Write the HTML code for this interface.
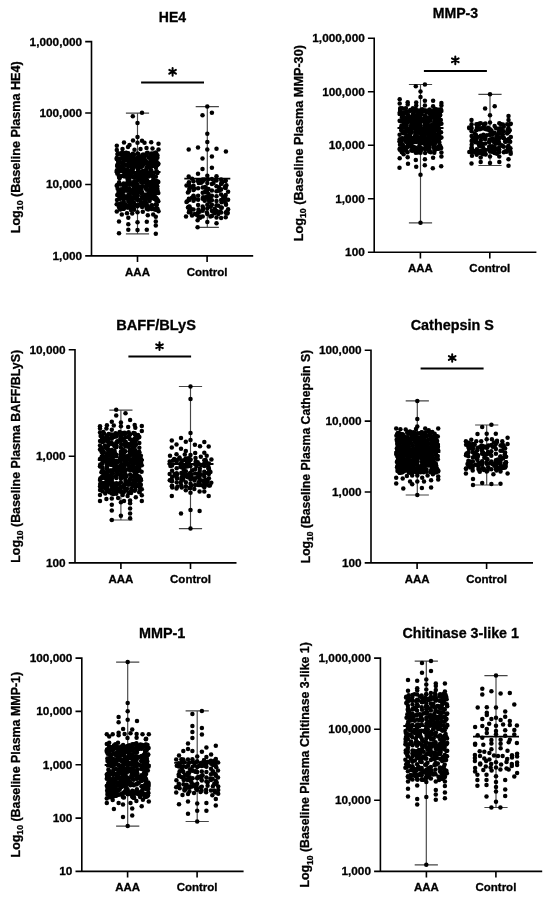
<!DOCTYPE html>
<html><head><meta charset="utf-8"><style>
html,body{margin:0;padding:0;background:#fff;}
body{width:550px;height:897px;overflow:hidden;}
svg{display:block;will-change:transform;filter:blur(0.35px);}
</style></head><body>
<svg width="550" height="897" viewBox="0 0 550 897">
<rect width="550" height="897" fill="#fff"/>
<g font-family='"Liberation Sans", sans-serif' font-weight="bold" stroke="#000" stroke-width="0.3">
<text x="172.4" y="21.6" font-size="14" text-anchor="middle">HE4</text>
<text transform="translate(19.7 147.35) rotate(-90)" font-size="12.4" text-anchor="middle" textLength="171.9" lengthAdjust="spacingAndGlyphs">Log<tspan font-size="8.6" dy="3.4">10</tspan><tspan dy="-3.4"> (Baseline Plasma HE4)</tspan></text>
<text x="82.1" y="45.6" font-size="11.8" text-anchor="end">1,000,000</text>
<text x="82.1" y="117.03" font-size="11.8" text-anchor="end">100,000</text>
<text x="82.1" y="188.47" font-size="11.8" text-anchor="end">10,000</text>
<text x="82.1" y="259.9" font-size="11.8" text-anchor="end">1,000</text>
<text x="137.5" y="275.6" font-size="11.5" text-anchor="middle">AAA</text>
<text x="207.1" y="275.6" font-size="11.5" text-anchor="middle">Control</text>
</g>
<path d="M91.5 40.8V255.9M85.2 255.9H253.2M85.2 41.6H91.5M85.2 113.03H91.5M85.2 184.47H91.5M137.5 255.9V262.1M207.1 255.9V262.1" stroke="#000" stroke-width="1.6" fill="none"/>
<path d="M137.5 113.1V233.8M125.9 113.1H149.1M125.9 233.8H149.1" stroke="#454545" stroke-width="1.15" fill="none"/>
<g fill="#000"><circle cx="142" cy="112.8" r="2.25"/><circle cx="132.8" cy="116.2" r="2.25"/><circle cx="137.5" cy="123" r="2.25"/><circle cx="137.5" cy="137" r="2.25"/><circle cx="133" cy="140.5" r="2.25"/><circle cx="142" cy="140.8" r="2.25"/><circle cx="124" cy="142.5" r="2.25"/><circle cx="137.5" cy="142.8" r="2.25"/><circle cx="144.5" cy="142.8" r="2.25"/><circle cx="151.2" cy="142.2" r="2.25"/><circle cx="158.5" cy="143.8" r="2.25"/><circle cx="116.8" cy="145.8" r="2.25"/><circle cx="129.5" cy="145" r="2.25"/><circle cx="128" cy="147" r="2.25"/><circle cx="134.5" cy="149.8" r="2.25"/><circle cx="140.5" cy="149" r="2.25"/><circle cx="146.5" cy="148" r="2.25"/><circle cx="152.5" cy="148.5" r="2.25"/><circle cx="158.5" cy="149.5" r="2.25"/><circle cx="116.8" cy="150" r="2.25"/><circle cx="122.5" cy="149" r="2.25"/><circle cx="119" cy="233.2" r="2.25"/><circle cx="155.8" cy="233.8" r="2.25"/><circle cx="128.3" cy="229.8" r="2.25"/><circle cx="137.5" cy="230" r="2.25"/><circle cx="146.8" cy="229.8" r="2.25"/><circle cx="128.3" cy="224.2" r="2.25"/><circle cx="137.5" cy="222.2" r="2.25"/><circle cx="146.8" cy="221.8" r="2.25"/><circle cx="155.8" cy="225.5" r="2.25"/><circle cx="119" cy="221.5" r="2.25"/><circle cx="155.8" cy="221.5" r="2.25"/><circle cx="128.3" cy="217.8" r="2.25"/><circle cx="155.8" cy="216.8" r="2.25"/><circle cx="121.8" cy="214.5" r="2.25"/><circle cx="147.8" cy="215.2" r="2.25"/><circle cx="153.2" cy="214.5" r="2.25"/><circle cx="127" cy="213.2" r="2.25"/><circle cx="132.2" cy="213.5" r="2.25"/><circle cx="137.5" cy="212.2" r="2.25"/><circle cx="142.8" cy="211.8" r="2.25"/><circle cx="116.8" cy="211.5" r="2.25"/><circle cx="158.5" cy="211.2" r="2.25"/><circle cx="153.5" cy="209" r="2.25"/><circle cx="131" cy="210" r="2.25"/><circle cx="137.5" cy="173.84" r="2.25"/><circle cx="137.5" cy="192.17" r="2.25"/><circle cx="146.7" cy="208.78" r="2.25"/><circle cx="137.5" cy="205.48" r="2.25"/><circle cx="137.5" cy="184.82" r="2.25"/><circle cx="142.1" cy="207.09" r="2.25"/><circle cx="137.5" cy="163.31" r="2.25"/><circle cx="123.7" cy="208.77" r="2.25"/><circle cx="142.1" cy="181.21" r="2.25"/><circle cx="142.1" cy="192.28" r="2.25"/><circle cx="137.5" cy="200.1" r="2.25"/><circle cx="132.9" cy="206.56" r="2.25"/><circle cx="142.1" cy="172.34" r="2.25"/><circle cx="142.1" cy="196.82" r="2.25"/><circle cx="132.9" cy="193.17" r="2.25"/><circle cx="146.7" cy="195.69" r="2.25"/><circle cx="146.7" cy="189.67" r="2.25"/><circle cx="128.3" cy="190.6" r="2.25"/><circle cx="151.3" cy="191.09" r="2.25"/><circle cx="132.9" cy="185.01" r="2.25"/><circle cx="146.7" cy="184.73" r="2.25"/><circle cx="137.5" cy="153.45" r="2.25"/><circle cx="128.3" cy="206.37" r="2.25"/><circle cx="142.1" cy="176.7" r="2.25"/><circle cx="142.1" cy="202.57" r="2.25"/><circle cx="142.1" cy="165.91" r="2.25"/><circle cx="128.3" cy="195.02" r="2.25"/><circle cx="151.3" cy="195.89" r="2.25"/><circle cx="134.08" cy="209.69" r="2.25"/><circle cx="128.3" cy="182.38" r="2.25"/><circle cx="132.9" cy="163.82" r="2.25"/><circle cx="132.9" cy="199.09" r="2.25"/><circle cx="132.9" cy="172.14" r="2.25"/><circle cx="151.3" cy="182.26" r="2.25"/><circle cx="142.1" cy="161.62" r="2.25"/><circle cx="146.7" cy="167.2" r="2.25"/><circle cx="146.7" cy="163.19" r="2.25"/><circle cx="123.7" cy="195.14" r="2.25"/><circle cx="142.1" cy="156.41" r="2.25"/><circle cx="132.9" cy="153.87" r="2.25"/><circle cx="155.9" cy="197.96" r="2.25"/><circle cx="146.7" cy="155.16" r="2.25"/><circle cx="142.1" cy="186.32" r="2.25"/><circle cx="128.3" cy="160.94" r="2.25"/><circle cx="132.9" cy="177.05" r="2.25"/><circle cx="146.7" cy="173.66" r="2.25"/><circle cx="128.3" cy="154.23" r="2.25"/><circle cx="128.3" cy="172.02" r="2.25"/><circle cx="151.3" cy="175.59" r="2.25"/><circle cx="157.51" cy="208.65" r="2.25"/><circle cx="123.7" cy="183.38" r="2.25"/><circle cx="128.3" cy="176.2" r="2.25"/><circle cx="151.3" cy="153.48" r="2.25"/><circle cx="119.1" cy="194.4" r="2.25"/><circle cx="151.3" cy="170.61" r="2.25"/><circle cx="123.7" cy="175.37" r="2.25"/><circle cx="119.1" cy="198.68" r="2.25"/><circle cx="123.7" cy="155.89" r="2.25"/><circle cx="123.7" cy="191.19" r="2.25"/><circle cx="151.3" cy="205.62" r="2.25"/><circle cx="155.9" cy="185.29" r="2.25"/><circle cx="120.48" cy="198.72" r="2.25"/><circle cx="137.5" cy="180.77" r="2.25"/><circle cx="119.1" cy="207.4" r="2.25"/><circle cx="151.3" cy="160.11" r="2.25"/><circle cx="132.9" cy="159.46" r="2.25"/><circle cx="155.9" cy="152.57" r="2.25"/><circle cx="155.9" cy="172.57" r="2.25"/><circle cx="151.55" cy="197.88" r="2.25"/><circle cx="152.09" cy="205.22" r="2.25"/><circle cx="119.1" cy="182.21" r="2.25"/><circle cx="128.3" cy="165.76" r="2.25"/><circle cx="155.9" cy="189.29" r="2.25"/><circle cx="119.1" cy="153.73" r="2.25"/><circle cx="155.9" cy="176.76" r="2.25"/><circle cx="127.19" cy="206.54" r="2.25"/><circle cx="151.3" cy="166.6" r="2.25"/><circle cx="128.22" cy="153.14" r="2.25"/><circle cx="146.7" cy="203.9" r="2.25"/><circle cx="128.3" cy="201.74" r="2.25"/><circle cx="123.7" cy="201.54" r="2.25"/><circle cx="128.01" cy="197.86" r="2.25"/><circle cx="158.3" cy="201.16" r="2.25"/><circle cx="119.1" cy="176.26" r="2.25"/><circle cx="116.7" cy="204.16" r="2.25"/><circle cx="146.7" cy="180.12" r="2.25"/><circle cx="122.38" cy="154.75" r="2.25"/><circle cx="150.44" cy="208.1" r="2.25"/><circle cx="145.75" cy="202.24" r="2.25"/><circle cx="149.48" cy="195.5" r="2.25"/><circle cx="143.41" cy="175.06" r="2.25"/><circle cx="127.57" cy="176.74" r="2.25"/><circle cx="120.33" cy="208.88" r="2.25"/><circle cx="127.45" cy="206.02" r="2.25"/><circle cx="119.1" cy="171.56" r="2.25"/><circle cx="116.7" cy="185.74" r="2.25"/><circle cx="149.49" cy="182.84" r="2.25"/><circle cx="158.3" cy="182.05" r="2.25"/><circle cx="117.52" cy="154.53" r="2.25"/><circle cx="138.89" cy="173.43" r="2.25"/><circle cx="130.07" cy="155.21" r="2.25"/><circle cx="137.5" cy="157.78" r="2.25"/><circle cx="128.7" cy="199.51" r="2.25"/><circle cx="130.63" cy="205.46" r="2.25"/><circle cx="141.31" cy="187.9" r="2.25"/><circle cx="155.9" cy="159.7" r="2.25"/><circle cx="123.7" cy="160.09" r="2.25"/><circle cx="137.5" cy="167.82" r="2.25"/><circle cx="123.73" cy="184.56" r="2.25"/><circle cx="119.1" cy="162.34" r="2.25"/><circle cx="119.1" cy="190.4" r="2.25"/><circle cx="123.32" cy="171.49" r="2.25"/><circle cx="152.04" cy="188.67" r="2.25"/><circle cx="148.09" cy="198.61" r="2.25"/><circle cx="131.67" cy="200.23" r="2.25"/><circle cx="127.05" cy="190.66" r="2.25"/><circle cx="123.7" cy="164.09" r="2.25"/><circle cx="141.02" cy="178.82" r="2.25"/><circle cx="155.49" cy="156.84" r="2.25"/><circle cx="158.3" cy="192.95" r="2.25"/><circle cx="149.49" cy="185.82" r="2.25"/><circle cx="116.7" cy="158.88" r="2.25"/><circle cx="135.13" cy="182.61" r="2.25"/><circle cx="143.1" cy="154.56" r="2.25"/><circle cx="131.64" cy="183.5" r="2.25"/><circle cx="146.21" cy="169.8" r="2.25"/><circle cx="155.9" cy="167.7" r="2.25"/><circle cx="138.25" cy="153.92" r="2.25"/><circle cx="117.83" cy="153.33" r="2.25"/><circle cx="144.74" cy="156.04" r="2.25"/><circle cx="152.96" cy="175.32" r="2.25"/><circle cx="136.86" cy="198.18" r="2.25"/><circle cx="123.36" cy="195.92" r="2.25"/><circle cx="129.32" cy="188.19" r="2.25"/><circle cx="124.7" cy="187.03" r="2.25"/><circle cx="151.64" cy="209.04" r="2.25"/><circle cx="147.29" cy="207.39" r="2.25"/><circle cx="129.07" cy="177.04" r="2.25"/><circle cx="129.29" cy="159.88" r="2.25"/><circle cx="121.95" cy="191.88" r="2.25"/><circle cx="135.01" cy="177.7" r="2.25"/><circle cx="157.3" cy="199.93" r="2.25"/><circle cx="132.9" cy="167.75" r="2.25"/><circle cx="148.19" cy="198.54" r="2.25"/><circle cx="155.62" cy="193.41" r="2.25"/><circle cx="119.1" cy="166.83" r="2.25"/><circle cx="119.79" cy="161.71" r="2.25"/><circle cx="155.2" cy="198.31" r="2.25"/><circle cx="154.67" cy="154.19" r="2.25"/><circle cx="150.43" cy="172.45" r="2.25"/><circle cx="122.03" cy="152.7" r="2.25"/><circle cx="152.84" cy="181.55" r="2.25"/><circle cx="157.39" cy="209.96" r="2.25"/><circle cx="147.5" cy="182.63" r="2.25"/><circle cx="155.9" cy="204.26" r="2.25"/><circle cx="138.11" cy="167.64" r="2.25"/><circle cx="130.97" cy="165.46" r="2.25"/><circle cx="153.24" cy="182.21" r="2.25"/><circle cx="141.6" cy="193.85" r="2.25"/><circle cx="158.3" cy="164.09" r="2.25"/><circle cx="130.14" cy="197.45" r="2.25"/><circle cx="120.12" cy="206.9" r="2.25"/><circle cx="117.42" cy="164.68" r="2.25"/><circle cx="145.9" cy="198.41" r="2.25"/><circle cx="129" cy="158.74" r="2.25"/><circle cx="122.2" cy="192.86" r="2.25"/><circle cx="129.47" cy="172.17" r="2.25"/><circle cx="135.92" cy="198.76" r="2.25"/><circle cx="151.94" cy="185.27" r="2.25"/><circle cx="136.43" cy="198" r="2.25"/><circle cx="122.06" cy="153.92" r="2.25"/><circle cx="151.16" cy="183.45" r="2.25"/><circle cx="144.76" cy="205.43" r="2.25"/><circle cx="139.41" cy="163.12" r="2.25"/><circle cx="154.07" cy="192.67" r="2.25"/><circle cx="133.56" cy="159.53" r="2.25"/><circle cx="132.8" cy="169.67" r="2.25"/><circle cx="118.98" cy="161.84" r="2.25"/><circle cx="145.64" cy="196.27" r="2.25"/><circle cx="142.56" cy="161.9" r="2.25"/><circle cx="156.12" cy="162.96" r="2.25"/><circle cx="117.03" cy="199.95" r="2.25"/><circle cx="133.88" cy="185.51" r="2.25"/><circle cx="134.9" cy="183.39" r="2.25"/><circle cx="133.98" cy="158.04" r="2.25"/><circle cx="118.5" cy="191.94" r="2.25"/><circle cx="150.59" cy="187.48" r="2.25"/><circle cx="118.49" cy="171.5" r="2.25"/><circle cx="143.33" cy="160.09" r="2.25"/><circle cx="129.7" cy="205.75" r="2.25"/><circle cx="134.36" cy="166.81" r="2.25"/><circle cx="151.56" cy="160.34" r="2.25"/><circle cx="125.19" cy="190.01" r="2.25"/><circle cx="137.98" cy="169.67" r="2.25"/><circle cx="127.8" cy="179.54" r="2.25"/><circle cx="142.08" cy="198.41" r="2.25"/><circle cx="139.34" cy="192.12" r="2.25"/><circle cx="144.46" cy="182.3" r="2.25"/><circle cx="120.67" cy="170.31" r="2.25"/><circle cx="143.02" cy="186.31" r="2.25"/><circle cx="144.25" cy="156.19" r="2.25"/><circle cx="119.52" cy="193.93" r="2.25"/><circle cx="157.02" cy="171.88" r="2.25"/><circle cx="152.09" cy="158.22" r="2.25"/><circle cx="149.69" cy="189.91" r="2.25"/><circle cx="149.42" cy="198.9" r="2.25"/><circle cx="137.51" cy="162.51" r="2.25"/><circle cx="154.78" cy="198.91" r="2.25"/><circle cx="123.15" cy="167.92" r="2.25"/><circle cx="147.64" cy="208.35" r="2.25"/><circle cx="157.33" cy="186.3" r="2.25"/><circle cx="119.31" cy="170.68" r="2.25"/><circle cx="143.69" cy="164.58" r="2.25"/><circle cx="157.19" cy="188.47" r="2.25"/><circle cx="122.6" cy="166.9" r="2.25"/><circle cx="139.96" cy="176.34" r="2.25"/><circle cx="154.05" cy="153.33" r="2.25"/><circle cx="127.67" cy="207.27" r="2.25"/><circle cx="125.44" cy="170.88" r="2.25"/><circle cx="146.56" cy="186.72" r="2.25"/><circle cx="149.74" cy="167.53" r="2.25"/><circle cx="155.88" cy="198.09" r="2.25"/><circle cx="143.85" cy="172.87" r="2.25"/><circle cx="118.94" cy="206.2" r="2.25"/><circle cx="150.86" cy="173.68" r="2.25"/><circle cx="128.6" cy="207.25" r="2.25"/><circle cx="140.14" cy="191.73" r="2.25"/><circle cx="146.69" cy="161.98" r="2.25"/><circle cx="157.39" cy="155.13" r="2.25"/><circle cx="139.64" cy="191.6" r="2.25"/><circle cx="122.72" cy="154.26" r="2.25"/><circle cx="137.99" cy="178.43" r="2.25"/><circle cx="139.78" cy="157.1" r="2.25"/><circle cx="147.99" cy="172.83" r="2.25"/><circle cx="124.65" cy="153.85" r="2.25"/><circle cx="139.65" cy="174.23" r="2.25"/><circle cx="118.77" cy="167.74" r="2.25"/><circle cx="157.68" cy="181.48" r="2.25"/><circle cx="117.64" cy="188.68" r="2.25"/><circle cx="139.21" cy="188.47" r="2.25"/><circle cx="123.96" cy="204.98" r="2.25"/><circle cx="128.13" cy="199.44" r="2.25"/><circle cx="133.43" cy="189.08" r="2.25"/><circle cx="127.23" cy="177.39" r="2.25"/><circle cx="127.56" cy="159.65" r="2.25"/><circle cx="129.54" cy="181.37" r="2.25"/><circle cx="137.47" cy="196.63" r="2.25"/><circle cx="156.49" cy="171.23" r="2.25"/><circle cx="125.4" cy="184.09" r="2.25"/><circle cx="123.88" cy="176.23" r="2.25"/><circle cx="118.48" cy="161.14" r="2.25"/><circle cx="154.79" cy="189.41" r="2.25"/><circle cx="149.27" cy="164.88" r="2.25"/><circle cx="151.25" cy="187.14" r="2.25"/><circle cx="122.92" cy="208.72" r="2.25"/><circle cx="135.06" cy="162.79" r="2.25"/><circle cx="144.63" cy="199" r="2.25"/><circle cx="138.8" cy="191.54" r="2.25"/><circle cx="147.16" cy="180.79" r="2.25"/><circle cx="124.78" cy="189.44" r="2.25"/><circle cx="154.25" cy="195.18" r="2.25"/><circle cx="141.33" cy="189.4" r="2.25"/><circle cx="142.15" cy="165.72" r="2.25"/><circle cx="141.08" cy="166.95" r="2.25"/><circle cx="135.12" cy="190.63" r="2.25"/><circle cx="117.22" cy="194.89" r="2.25"/><circle cx="123.51" cy="208.54" r="2.25"/><circle cx="136.72" cy="187.54" r="2.25"/><circle cx="120.11" cy="168.51" r="2.25"/><circle cx="141.45" cy="175.48" r="2.25"/><circle cx="124.61" cy="171.19" r="2.25"/><circle cx="145.18" cy="194.63" r="2.25"/><circle cx="133.55" cy="162.27" r="2.25"/><circle cx="144.06" cy="178.33" r="2.25"/><circle cx="127.6" cy="157.02" r="2.25"/><circle cx="121.88" cy="165.67" r="2.25"/><circle cx="144.34" cy="197.22" r="2.25"/><circle cx="151.04" cy="185.32" r="2.25"/><circle cx="125.48" cy="171.38" r="2.25"/><circle cx="118.22" cy="161.53" r="2.25"/><circle cx="152.83" cy="175.2" r="2.25"/><circle cx="148.04" cy="209.44" r="2.25"/><circle cx="148.6" cy="176.46" r="2.25"/><circle cx="149.59" cy="174.01" r="2.25"/><circle cx="134.06" cy="202.71" r="2.25"/><circle cx="156.26" cy="153.91" r="2.25"/><circle cx="150.3" cy="162.73" r="2.25"/><circle cx="148.14" cy="164.36" r="2.25"/><circle cx="155.83" cy="191.88" r="2.25"/><circle cx="154.48" cy="159.04" r="2.25"/><circle cx="140.2" cy="200.07" r="2.25"/><circle cx="119.05" cy="176.9" r="2.25"/><circle cx="141.24" cy="182.47" r="2.25"/><circle cx="137.32" cy="192.9" r="2.25"/><circle cx="117.4" cy="173.65" r="2.25"/><circle cx="129.77" cy="184.5" r="2.25"/><circle cx="150.82" cy="182.3" r="2.25"/><circle cx="142.69" cy="157.75" r="2.25"/><circle cx="155.4" cy="163.41" r="2.25"/><circle cx="148.15" cy="163.72" r="2.25"/><circle cx="124.43" cy="156.93" r="2.25"/><circle cx="146.37" cy="169.96" r="2.25"/><circle cx="118.65" cy="194.35" r="2.25"/><circle cx="152.87" cy="191.53" r="2.25"/><circle cx="128.94" cy="180.14" r="2.25"/><circle cx="157.09" cy="163.71" r="2.25"/><circle cx="118.68" cy="193.84" r="2.25"/><circle cx="147.59" cy="152.69" r="2.25"/><circle cx="120.92" cy="206.95" r="2.25"/><circle cx="152.6" cy="164.11" r="2.25"/><circle cx="150.7" cy="170.12" r="2.25"/><circle cx="138.01" cy="188.23" r="2.25"/><circle cx="140.13" cy="187" r="2.25"/><circle cx="125.85" cy="153.08" r="2.25"/><circle cx="131.86" cy="197.6" r="2.25"/><circle cx="122.87" cy="175.85" r="2.25"/><circle cx="133.07" cy="191.08" r="2.25"/><circle cx="122.44" cy="170.26" r="2.25"/><circle cx="143.08" cy="170.86" r="2.25"/><circle cx="137.21" cy="158.22" r="2.25"/><circle cx="131.48" cy="156.57" r="2.25"/><circle cx="131.1" cy="166.49" r="2.25"/><circle cx="156.3" cy="181.02" r="2.25"/><circle cx="156.13" cy="205.03" r="2.25"/><circle cx="157.44" cy="190.34" r="2.25"/><circle cx="131.78" cy="191.38" r="2.25"/><circle cx="120.11" cy="207.42" r="2.25"/><circle cx="123.47" cy="197.95" r="2.25"/><circle cx="152.49" cy="176.46" r="2.25"/><circle cx="131.3" cy="170.6" r="2.25"/><circle cx="122.82" cy="168.93" r="2.25"/><circle cx="156.46" cy="161.22" r="2.25"/><circle cx="125.98" cy="187.78" r="2.25"/><circle cx="140.01" cy="161.02" r="2.25"/><circle cx="133.9" cy="160.38" r="2.25"/><circle cx="122.45" cy="162.52" r="2.25"/><circle cx="132.18" cy="191.15" r="2.25"/><circle cx="149.5" cy="175.05" r="2.25"/><circle cx="139.29" cy="173.69" r="2.25"/><circle cx="152.38" cy="158.52" r="2.25"/><circle cx="117.37" cy="172.64" r="2.25"/><circle cx="121.18" cy="189.13" r="2.25"/><circle cx="134.68" cy="195.35" r="2.25"/><circle cx="143.41" cy="163.18" r="2.25"/><circle cx="133.82" cy="198.3" r="2.25"/><circle cx="128.18" cy="173.98" r="2.25"/><circle cx="150.58" cy="192.37" r="2.25"/><circle cx="152.18" cy="156.39" r="2.25"/><circle cx="143.71" cy="175.56" r="2.25"/><circle cx="122.21" cy="154.07" r="2.25"/><circle cx="147.52" cy="197.64" r="2.25"/><circle cx="141.98" cy="204.25" r="2.25"/><circle cx="147.27" cy="194.61" r="2.25"/><circle cx="147.3" cy="206.36" r="2.25"/><circle cx="140.13" cy="161.66" r="2.25"/><circle cx="132.69" cy="154.89" r="2.25"/><circle cx="151.54" cy="159.46" r="2.25"/><circle cx="155.2" cy="191.95" r="2.25"/><circle cx="156.28" cy="189.32" r="2.25"/><circle cx="129.33" cy="178.46" r="2.25"/><circle cx="125.5" cy="173.14" r="2.25"/><circle cx="124.71" cy="198.38" r="2.25"/><circle cx="145.02" cy="160.11" r="2.25"/><circle cx="156.81" cy="204.83" r="2.25"/><circle cx="126.64" cy="154.12" r="2.25"/><circle cx="135.39" cy="161.04" r="2.25"/><circle cx="139.38" cy="173.78" r="2.25"/><circle cx="134.03" cy="154.83" r="2.25"/><circle cx="139.52" cy="204.17" r="2.25"/><circle cx="132.13" cy="164.14" r="2.25"/><circle cx="141.11" cy="172.11" r="2.25"/><circle cx="157.39" cy="164.94" r="2.25"/><circle cx="148.49" cy="182.2" r="2.25"/><circle cx="156.76" cy="184.9" r="2.25"/><circle cx="134.22" cy="165.46" r="2.25"/><circle cx="122.92" cy="158.3" r="2.25"/><circle cx="125.11" cy="158.55" r="2.25"/><circle cx="126.33" cy="152.68" r="2.25"/><circle cx="148.73" cy="193.29" r="2.25"/><circle cx="125.98" cy="164.95" r="2.25"/><circle cx="140.05" cy="190.58" r="2.25"/><circle cx="155.27" cy="165.42" r="2.25"/><circle cx="134.22" cy="193.24" r="2.25"/><circle cx="126.56" cy="184.83" r="2.25"/><circle cx="153.62" cy="160.51" r="2.25"/><circle cx="157.43" cy="157.81" r="2.25"/><circle cx="119.53" cy="158.81" r="2.25"/><circle cx="150.92" cy="154.85" r="2.25"/><circle cx="157.23" cy="199.21" r="2.25"/><circle cx="129.03" cy="180.41" r="2.25"/><circle cx="131.6" cy="197.59" r="2.25"/><circle cx="124.68" cy="207.59" r="2.25"/><circle cx="125.72" cy="160.6" r="2.25"/><circle cx="148.71" cy="184.68" r="2.25"/><circle cx="135.07" cy="161.82" r="2.25"/><circle cx="129.57" cy="164.5" r="2.25"/><circle cx="131.87" cy="208.12" r="2.25"/><circle cx="154.45" cy="165.86" r="2.25"/><circle cx="158.17" cy="163.42" r="2.25"/><circle cx="130" cy="196.91" r="2.25"/><circle cx="127.82" cy="165.27" r="2.25"/><circle cx="127.9" cy="184.25" r="2.25"/><circle cx="149.31" cy="185.06" r="2.25"/><circle cx="154.51" cy="166.05" r="2.25"/><circle cx="124.72" cy="176.2" r="2.25"/><circle cx="121.06" cy="153.79" r="2.25"/><circle cx="130.54" cy="192.39" r="2.25"/><circle cx="151.24" cy="188.57" r="2.25"/><circle cx="151.95" cy="184.6" r="2.25"/><circle cx="156.22" cy="208.13" r="2.25"/><circle cx="134.18" cy="181.27" r="2.25"/><circle cx="118.5" cy="204.33" r="2.25"/><circle cx="118.61" cy="163.64" r="2.25"/><circle cx="150.25" cy="166.4" r="2.25"/><circle cx="132.29" cy="190.29" r="2.25"/><circle cx="123.79" cy="186.34" r="2.25"/><circle cx="128.42" cy="158.11" r="2.25"/><circle cx="120.86" cy="203.16" r="2.25"/><circle cx="154.82" cy="186.23" r="2.25"/><circle cx="134.6" cy="187.43" r="2.25"/><circle cx="137.7" cy="195.31" r="2.25"/><circle cx="125.02" cy="204.22" r="2.25"/><circle cx="138.44" cy="167.34" r="2.25"/><circle cx="127.25" cy="169.27" r="2.25"/><circle cx="155.77" cy="186.36" r="2.25"/><circle cx="152.69" cy="198.15" r="2.25"/><circle cx="146.59" cy="153.3" r="2.25"/><circle cx="140.17" cy="204.84" r="2.25"/><circle cx="147.09" cy="206.55" r="2.25"/><circle cx="120.22" cy="209.46" r="2.25"/><circle cx="131.75" cy="175.12" r="2.25"/><circle cx="153.36" cy="179.79" r="2.25"/><circle cx="149.61" cy="200.89" r="2.25"/><circle cx="129.83" cy="174.77" r="2.25"/><circle cx="132.68" cy="159.71" r="2.25"/><circle cx="122.5" cy="197.4" r="2.25"/><circle cx="116.73" cy="158.01" r="2.25"/><circle cx="156.22" cy="200.35" r="2.25"/><circle cx="124.37" cy="160.26" r="2.25"/><circle cx="150.02" cy="161.91" r="2.25"/><circle cx="124.13" cy="169.08" r="2.25"/><circle cx="135.63" cy="193.42" r="2.25"/><circle cx="139.34" cy="187.58" r="2.25"/><circle cx="124.39" cy="153.25" r="2.25"/><circle cx="128.39" cy="158.05" r="2.25"/><circle cx="122.49" cy="195.41" r="2.25"/><circle cx="116.86" cy="170.36" r="2.25"/><circle cx="132.02" cy="169.31" r="2.25"/><circle cx="151.62" cy="163.13" r="2.25"/><circle cx="125.86" cy="153.32" r="2.25"/><circle cx="134.7" cy="205.05" r="2.25"/><circle cx="133.07" cy="184.77" r="2.25"/><circle cx="138.12" cy="157.21" r="2.25"/><circle cx="125.61" cy="205.02" r="2.25"/><circle cx="118.67" cy="170.51" r="2.25"/><circle cx="130.44" cy="161.94" r="2.25"/><circle cx="157.44" cy="172.91" r="2.25"/><circle cx="140.84" cy="203.01" r="2.25"/><circle cx="135.5" cy="174.63" r="2.25"/><circle cx="128.95" cy="165.88" r="2.25"/><circle cx="146.52" cy="175.6" r="2.25"/><circle cx="122.87" cy="190.35" r="2.25"/><circle cx="142.23" cy="155.34" r="2.25"/><circle cx="137.48" cy="176.08" r="2.25"/><circle cx="119.55" cy="178.33" r="2.25"/><circle cx="137.54" cy="206.15" r="2.25"/><circle cx="130.78" cy="198.84" r="2.25"/><circle cx="117.14" cy="166.05" r="2.25"/><circle cx="135.4" cy="165.77" r="2.25"/><circle cx="125.18" cy="171.12" r="2.25"/><circle cx="121.15" cy="158.23" r="2.25"/><circle cx="145.26" cy="201.33" r="2.25"/><circle cx="139.72" cy="161.8" r="2.25"/><circle cx="132.96" cy="202.41" r="2.25"/><circle cx="146.01" cy="178.98" r="2.25"/><circle cx="153.17" cy="181.72" r="2.25"/><circle cx="131.91" cy="168.84" r="2.25"/><circle cx="138.6" cy="179.67" r="2.25"/><circle cx="153.77" cy="185.15" r="2.25"/><circle cx="127.78" cy="165.15" r="2.25"/><circle cx="135.48" cy="205" r="2.25"/><circle cx="136.93" cy="184.44" r="2.25"/><circle cx="131.7" cy="200.17" r="2.25"/><circle cx="140.02" cy="167.45" r="2.25"/><circle cx="149.46" cy="191.81" r="2.25"/><circle cx="152.97" cy="183.07" r="2.25"/><circle cx="133.87" cy="208.26" r="2.25"/><circle cx="128.49" cy="163.76" r="2.25"/><circle cx="148.64" cy="157.83" r="2.25"/><circle cx="145.96" cy="188.5" r="2.25"/><circle cx="128.1" cy="170.44" r="2.25"/><circle cx="135.14" cy="186.29" r="2.25"/><circle cx="126.98" cy="196.66" r="2.25"/><circle cx="138.48" cy="165.85" r="2.25"/><circle cx="125.38" cy="184.34" r="2.25"/><circle cx="119.65" cy="196.71" r="2.25"/><circle cx="127.71" cy="181.67" r="2.25"/><circle cx="120.32" cy="176.34" r="2.25"/><circle cx="129.17" cy="194.85" r="2.25"/><circle cx="130.36" cy="203.42" r="2.25"/><circle cx="129.62" cy="158.36" r="2.25"/><circle cx="155.37" cy="209.64" r="2.25"/><circle cx="148.48" cy="194.21" r="2.25"/><circle cx="127.57" cy="207.62" r="2.25"/><circle cx="154.35" cy="155.76" r="2.25"/><circle cx="136.76" cy="161.44" r="2.25"/><circle cx="117.33" cy="185.05" r="2.25"/><circle cx="136.23" cy="184.31" r="2.25"/><circle cx="120.2" cy="184.42" r="2.25"/><circle cx="128.13" cy="174.91" r="2.25"/></g>
<path d="M114.5 172H160.5" stroke="#000" stroke-width="1.8"/>
<path d="M207.3 106.6V227.3M195.7 106.6H218.9M195.7 227.3H218.9" stroke="#454545" stroke-width="1.15" fill="none"/>
<g fill="#000"><circle cx="207.3" cy="106.6" r="2.25"/><circle cx="202.5" cy="115.2" r="2.25"/><circle cx="211.9" cy="112.8" r="2.25"/><circle cx="207.3" cy="133.8" r="2.25"/><circle cx="207.3" cy="141.9" r="2.25"/><circle cx="188.7" cy="149.6" r="2.25"/><circle cx="198" cy="147.5" r="2.25"/><circle cx="207.3" cy="149.6" r="2.25"/><circle cx="216.5" cy="148.7" r="2.25"/><circle cx="225.9" cy="151.6" r="2.25"/><circle cx="202.5" cy="158.4" r="2.25"/><circle cx="211.9" cy="156.4" r="2.25"/><circle cx="202.5" cy="168.9" r="2.25"/><circle cx="211.9" cy="167.7" r="2.25"/><circle cx="198" cy="173.7" r="2.25"/><circle cx="188.7" cy="176.6" r="2.25"/><circle cx="207.3" cy="175.8" r="2.25"/><circle cx="216.5" cy="176.2" r="2.25"/><circle cx="197.6" cy="227.2" r="2.25"/><circle cx="207.3" cy="221.9" r="2.25"/><circle cx="216.5" cy="223.2" r="2.25"/><circle cx="197.6" cy="220.3" r="2.25"/><circle cx="186" cy="216.6" r="2.25"/><circle cx="192" cy="215.4" r="2.25"/><circle cx="207.3" cy="204.68" r="2.25"/><circle cx="207.3" cy="196.49" r="2.25"/><circle cx="211.9" cy="200.19" r="2.25"/><circle cx="211.9" cy="178.88" r="2.25"/><circle cx="207.3" cy="214.12" r="2.25"/><circle cx="202.7" cy="198.8" r="2.25"/><circle cx="207.3" cy="183.06" r="2.25"/><circle cx="211.9" cy="183.94" r="2.25"/><circle cx="216.5" cy="196.31" r="2.25"/><circle cx="207.3" cy="190.68" r="2.25"/><circle cx="211.9" cy="195.73" r="2.25"/><circle cx="202.7" cy="181.52" r="2.25"/><circle cx="211.9" cy="210.85" r="2.25"/><circle cx="216.5" cy="180.49" r="2.25"/><circle cx="198.1" cy="180.49" r="2.25"/><circle cx="211.9" cy="190.6" r="2.25"/><circle cx="202.7" cy="210.66" r="2.25"/><circle cx="198.1" cy="195.86" r="2.25"/><circle cx="216.5" cy="211.57" r="2.25"/><circle cx="202.7" cy="192.66" r="2.25"/><circle cx="198.1" cy="212.2" r="2.25"/><circle cx="202.7" cy="187.6" r="2.25"/><circle cx="198.1" cy="199.81" r="2.25"/><circle cx="221.1" cy="179.58" r="2.25"/><circle cx="193.5" cy="181.13" r="2.25"/><circle cx="216.5" cy="200.97" r="2.25"/><circle cx="211.9" cy="204.73" r="2.25"/><circle cx="221.1" cy="199.98" r="2.25"/><circle cx="211.9" cy="215.89" r="2.25"/><circle cx="216.5" cy="191.19" r="2.25"/><circle cx="198.1" cy="188.31" r="2.25"/><circle cx="193.5" cy="200.83" r="2.25"/><circle cx="221.1" cy="212.61" r="2.25"/><circle cx="221.1" cy="189.53" r="2.25"/><circle cx="202.7" cy="206.52" r="2.25"/><circle cx="207.3" cy="208.6" r="2.25"/><circle cx="221.1" cy="194.45" r="2.25"/><circle cx="225.7" cy="180.61" r="2.25"/><circle cx="193.5" cy="195.68" r="2.25"/><circle cx="193.5" cy="190.09" r="2.25"/><circle cx="225.7" cy="195.02" r="2.25"/><circle cx="225.7" cy="203.3" r="2.25"/><circle cx="188.9" cy="198.81" r="2.25"/><circle cx="216.5" cy="205.13" r="2.25"/><circle cx="225.7" cy="187.9" r="2.25"/><circle cx="228.1" cy="199.79" r="2.25"/><circle cx="198.1" cy="205.09" r="2.25"/><circle cx="225.7" cy="212.71" r="2.25"/><circle cx="188.9" cy="182.47" r="2.25"/><circle cx="193.5" cy="209.5" r="2.25"/><circle cx="188.9" cy="191.33" r="2.25"/><circle cx="202.7" cy="179.55" r="2.25"/><circle cx="227.28" cy="213.59" r="2.25"/><circle cx="188.9" cy="212.36" r="2.25"/><circle cx="221.1" cy="207.44" r="2.25"/><circle cx="216.5" cy="186.29" r="2.25"/><circle cx="199.57" cy="211.84" r="2.25"/><circle cx="221.1" cy="184.05" r="2.25"/><circle cx="192.04" cy="178.73" r="2.25"/><circle cx="202.7" cy="216.44" r="2.25"/><circle cx="228.1" cy="209.3" r="2.25"/><circle cx="222.06" cy="182.36" r="2.25"/><circle cx="216.5" cy="217.4" r="2.25"/><circle cx="215.17" cy="179.75" r="2.25"/><circle cx="221.1" cy="217.89" r="2.25"/><circle cx="193.5" cy="185.69" r="2.25"/><circle cx="228.1" cy="191.78" r="2.25"/><circle cx="186.5" cy="185.56" r="2.25"/><circle cx="199.85" cy="181.11" r="2.25"/><circle cx="220.08" cy="189.87" r="2.25"/><circle cx="214.72" cy="213.15" r="2.25"/><circle cx="186.5" cy="202.12" r="2.25"/><circle cx="205.33" cy="192.13" r="2.25"/><circle cx="208.54" cy="193.91" r="2.25"/><circle cx="226.02" cy="204.69" r="2.25"/><circle cx="208.98" cy="197.11" r="2.25"/><circle cx="190.82" cy="187.16" r="2.25"/><circle cx="204.77" cy="179.47" r="2.25"/><circle cx="199.14" cy="182.64" r="2.25"/><circle cx="226.39" cy="185.21" r="2.25"/><circle cx="204.69" cy="200.84" r="2.25"/><circle cx="203.14" cy="197.18" r="2.25"/><circle cx="188.9" cy="206.86" r="2.25"/><circle cx="218.35" cy="205.85" r="2.25"/><circle cx="218.35" cy="214.02" r="2.25"/><circle cx="189.82" cy="186.07" r="2.25"/><circle cx="214.79" cy="208.86" r="2.25"/><circle cx="225.35" cy="180.96" r="2.25"/><circle cx="210.65" cy="206.47" r="2.25"/><circle cx="198.03" cy="180.99" r="2.25"/><circle cx="225.29" cy="186.49" r="2.25"/><circle cx="189.19" cy="200.06" r="2.25"/><circle cx="206.87" cy="212.44" r="2.25"/><circle cx="194.73" cy="214.12" r="2.25"/><circle cx="209.58" cy="201.63" r="2.25"/><circle cx="203.19" cy="208.87" r="2.25"/><circle cx="223.16" cy="199.27" r="2.25"/><circle cx="189.53" cy="206.59" r="2.25"/><circle cx="205.84" cy="197.26" r="2.25"/><circle cx="198.5" cy="209.55" r="2.25"/><circle cx="191.04" cy="209.06" r="2.25"/><circle cx="221.64" cy="202.27" r="2.25"/><circle cx="213.51" cy="182.97" r="2.25"/><circle cx="201.13" cy="182.79" r="2.25"/><circle cx="208.64" cy="199.67" r="2.25"/><circle cx="205.11" cy="187.03" r="2.25"/><circle cx="188.99" cy="182.49" r="2.25"/><circle cx="200.22" cy="216.72" r="2.25"/><circle cx="187.91" cy="192.6" r="2.25"/><circle cx="190.63" cy="212.55" r="2.25"/><circle cx="221.83" cy="181.4" r="2.25"/><circle cx="219.01" cy="187.36" r="2.25"/><circle cx="198.83" cy="183.09" r="2.25"/><circle cx="187.23" cy="201.28" r="2.25"/><circle cx="223.17" cy="196.63" r="2.25"/><circle cx="189.32" cy="188.72" r="2.25"/><circle cx="196.65" cy="214.79" r="2.25"/><circle cx="221.8" cy="207.78" r="2.25"/><circle cx="210.39" cy="216.51" r="2.25"/><circle cx="204.75" cy="198.75" r="2.25"/><circle cx="218.99" cy="190.64" r="2.25"/><circle cx="224.7" cy="200.96" r="2.25"/><circle cx="210.52" cy="197.41" r="2.25"/><circle cx="224.84" cy="187.18" r="2.25"/><circle cx="189.37" cy="210.55" r="2.25"/><circle cx="208.11" cy="179.17" r="2.25"/><circle cx="215.06" cy="211.75" r="2.25"/><circle cx="221.7" cy="183.33" r="2.25"/><circle cx="206.29" cy="190.64" r="2.25"/><circle cx="212.66" cy="211.57" r="2.25"/><circle cx="198.51" cy="216.49" r="2.25"/><circle cx="216.86" cy="211.15" r="2.25"/><circle cx="210.57" cy="206.67" r="2.25"/><circle cx="227.68" cy="212.81" r="2.25"/><circle cx="208.47" cy="189.02" r="2.25"/><circle cx="194.51" cy="188.83" r="2.25"/><circle cx="219.49" cy="188.96" r="2.25"/><circle cx="225.7" cy="217.17" r="2.25"/><circle cx="205.26" cy="191.26" r="2.25"/><circle cx="191.95" cy="197.86" r="2.25"/><circle cx="226.53" cy="211.75" r="2.25"/><circle cx="207.1" cy="189.64" r="2.25"/><circle cx="193.49" cy="196.59" r="2.25"/><circle cx="194.88" cy="198.7" r="2.25"/><circle cx="197.08" cy="214.35" r="2.25"/><circle cx="225.06" cy="197.62" r="2.25"/><circle cx="220.3" cy="211.52" r="2.25"/><circle cx="187.95" cy="207.43" r="2.25"/><circle cx="215.65" cy="210.75" r="2.25"/><circle cx="200.16" cy="217.85" r="2.25"/></g>
<path d="M184.3 178.7H230.3" stroke="#000" stroke-width="1.8"/>
<path d="M141.1 82.6H204" stroke="#000" stroke-width="2"/>
<path d="M172.6 67.95L172.6 75.65M169.27 69.88L175.93 73.72M169.27 73.72L175.93 69.88" stroke="#000" stroke-width="2.0" stroke-linecap="round"/>
<g font-family='"Liberation Sans", sans-serif' font-weight="bold" stroke="#000" stroke-width="0.3">
<text x="455.4" y="17.7" font-size="14.1" text-anchor="middle">MMP-3</text>
<text transform="translate(302.5 143.2) rotate(-90)" font-size="12.4" text-anchor="middle" textLength="196.2" lengthAdjust="spacingAndGlyphs">Log<tspan font-size="8.6" dy="3.4">10</tspan><tspan dy="-3.4"> (Baseline Plasma MMP-30)</tspan></text>
<text x="364.8" y="42.3" font-size="11.8" text-anchor="end">1,000,000</text>
<text x="364.8" y="95.77" font-size="11.8" text-anchor="end">100,000</text>
<text x="364.8" y="149.25" font-size="11.8" text-anchor="end">10,000</text>
<text x="364.8" y="202.72" font-size="11.8" text-anchor="end">1,000</text>
<text x="364.8" y="256.2" font-size="11.8" text-anchor="end">100</text>
<text x="420.4" y="271.9" font-size="11.5" text-anchor="middle">AAA</text>
<text x="489.8" y="271.9" font-size="11.5" text-anchor="middle">Control</text>
</g>
<path d="M374.2 37.5V252.2M367.9 252.2H536.4M367.9 38.3H374.2M367.9 91.77H374.2M367.9 145.25H374.2M367.9 198.72H374.2M420.4 252.2V258.4M489.8 252.2V258.4" stroke="#000" stroke-width="1.6" fill="none"/>
<path d="M420.5 84.5V222.8M408.9 84.5H432.1M408.9 222.8H432.1" stroke="#454545" stroke-width="1.15" fill="none"/>
<g fill="#000"><circle cx="415.8" cy="86.2" r="2.25"/><circle cx="424.9" cy="84.5" r="2.25"/><circle cx="420.5" cy="91.5" r="2.25"/><circle cx="420.5" cy="96.9" r="2.25"/><circle cx="399.7" cy="99.2" r="2.25"/><circle cx="399.7" cy="103.4" r="2.25"/><circle cx="407.7" cy="102.2" r="2.25"/><circle cx="407.7" cy="104.6" r="2.25"/><circle cx="416.2" cy="102.4" r="2.25"/><circle cx="416.2" cy="105.5" r="2.25"/><circle cx="424.9" cy="100.8" r="2.25"/><circle cx="424.9" cy="105.5" r="2.25"/><circle cx="433.1" cy="100.8" r="2.25"/><circle cx="433.1" cy="106.3" r="2.25"/><circle cx="441.4" cy="103.1" r="2.25"/><circle cx="441.4" cy="105.5" r="2.25"/><circle cx="399.7" cy="158.3" r="2.25"/><circle cx="407.7" cy="157.2" r="2.25"/><circle cx="415.8" cy="159.9" r="2.25"/><circle cx="424.9" cy="159.2" r="2.25"/><circle cx="433.1" cy="157.7" r="2.25"/><circle cx="441.4" cy="156.6" r="2.25"/><circle cx="408" cy="163.8" r="2.25"/><circle cx="399.5" cy="167.8" r="2.25"/><circle cx="416.2" cy="166.8" r="2.25"/><circle cx="424.8" cy="165.2" r="2.25"/><circle cx="432.8" cy="168.2" r="2.25"/><circle cx="441.2" cy="166.2" r="2.25"/><circle cx="420.5" cy="174.8" r="2.25"/><circle cx="420.5" cy="222.8" r="2.25"/><circle cx="403.6" cy="154.2" r="2.25"/><circle cx="420.5" cy="110.72" r="2.25"/><circle cx="420.5" cy="152.79" r="2.25"/><circle cx="420.5" cy="119.32" r="2.25"/><circle cx="425.1" cy="117.13" r="2.25"/><circle cx="429.7" cy="109.38" r="2.25"/><circle cx="425.1" cy="111.58" r="2.25"/><circle cx="420.5" cy="147.89" r="2.25"/><circle cx="420.5" cy="137.76" r="2.25"/><circle cx="425.1" cy="134.06" r="2.25"/><circle cx="425.1" cy="148.92" r="2.25"/><circle cx="415.9" cy="110.82" r="2.25"/><circle cx="415.9" cy="147.86" r="2.25"/><circle cx="420.5" cy="126.53" r="2.25"/><circle cx="425.1" cy="129.98" r="2.25"/><circle cx="415.9" cy="136.37" r="2.25"/><circle cx="425.1" cy="138.75" r="2.25"/><circle cx="425.1" cy="121.82" r="2.25"/><circle cx="425.1" cy="125.8" r="2.25"/><circle cx="415.9" cy="126.28" r="2.25"/><circle cx="411.3" cy="109.88" r="2.25"/><circle cx="429.7" cy="137.24" r="2.25"/><circle cx="415.9" cy="117.77" r="2.25"/><circle cx="429.7" cy="119.52" r="2.25"/><circle cx="420.5" cy="133.69" r="2.25"/><circle cx="420.5" cy="114.76" r="2.25"/><circle cx="411.3" cy="117.94" r="2.25"/><circle cx="429.7" cy="125.58" r="2.25"/><circle cx="411.3" cy="123.91" r="2.25"/><circle cx="415.9" cy="130.39" r="2.25"/><circle cx="434.3" cy="116.56" r="2.25"/><circle cx="411.3" cy="128.94" r="2.25"/><circle cx="411.3" cy="137.87" r="2.25"/><circle cx="434.3" cy="112.38" r="2.25"/><circle cx="434.3" cy="136.54" r="2.25"/><circle cx="406.7" cy="135.32" r="2.25"/><circle cx="429.7" cy="147.01" r="2.25"/><circle cx="434.3" cy="128.18" r="2.25"/><circle cx="406.7" cy="125.68" r="2.25"/><circle cx="438.9" cy="128.22" r="2.25"/><circle cx="411.3" cy="150.53" r="2.25"/><circle cx="406.7" cy="118.65" r="2.25"/><circle cx="402.1" cy="108.23" r="2.25"/><circle cx="406.7" cy="111.75" r="2.25"/><circle cx="415.9" cy="151.78" r="2.25"/><circle cx="402.1" cy="126.31" r="2.25"/><circle cx="438.9" cy="120.44" r="2.25"/><circle cx="429.7" cy="151.76" r="2.25"/><circle cx="434.3" cy="147.2" r="2.25"/><circle cx="429.7" cy="130.67" r="2.25"/><circle cx="402.1" cy="117.08" r="2.25"/><circle cx="407.98" cy="128.95" r="2.25"/><circle cx="438.9" cy="134.42" r="2.25"/><circle cx="406.7" cy="139.71" r="2.25"/><circle cx="406.7" cy="147.86" r="2.25"/><circle cx="402.1" cy="130.91" r="2.25"/><circle cx="415.9" cy="140.58" r="2.25"/><circle cx="438.9" cy="110.68" r="2.25"/><circle cx="427.93" cy="127.96" r="2.25"/><circle cx="420.67" cy="118.78" r="2.25"/><circle cx="420.5" cy="142.14" r="2.25"/><circle cx="434.3" cy="140.57" r="2.25"/><circle cx="402.1" cy="138.23" r="2.25"/><circle cx="429.7" cy="141.62" r="2.25"/><circle cx="400.16" cy="109.02" r="2.25"/><circle cx="438.9" cy="141.44" r="2.25"/><circle cx="411.3" cy="141.95" r="2.25"/><circle cx="429.7" cy="113.33" r="2.25"/><circle cx="429.11" cy="131.71" r="2.25"/><circle cx="438.9" cy="115.52" r="2.25"/><circle cx="407.1" cy="119.05" r="2.25"/><circle cx="410.52" cy="109.92" r="2.25"/><circle cx="403.9" cy="112.14" r="2.25"/><circle cx="411.3" cy="145.87" r="2.25"/><circle cx="438.9" cy="146.15" r="2.25"/><circle cx="424.52" cy="125.28" r="2.25"/><circle cx="402.1" cy="148.48" r="2.25"/><circle cx="422.86" cy="136.42" r="2.25"/><circle cx="410.1" cy="136.76" r="2.25"/><circle cx="441.21" cy="148.08" r="2.25"/><circle cx="416.27" cy="119.13" r="2.25"/><circle cx="434.3" cy="121.19" r="2.25"/><circle cx="399.6" cy="141.43" r="2.25"/><circle cx="405.18" cy="108.67" r="2.25"/><circle cx="433.07" cy="115.86" r="2.25"/><circle cx="421.02" cy="150.18" r="2.25"/><circle cx="399.6" cy="114.04" r="2.25"/><circle cx="419.05" cy="110.4" r="2.25"/><circle cx="424.92" cy="110.84" r="2.25"/><circle cx="419.4" cy="142.04" r="2.25"/><circle cx="399.6" cy="134.8" r="2.25"/><circle cx="402.1" cy="121.19" r="2.25"/><circle cx="417.69" cy="141.56" r="2.25"/><circle cx="434.3" cy="132.21" r="2.25"/><circle cx="441.4" cy="123.63" r="2.25"/><circle cx="401.43" cy="142.49" r="2.25"/><circle cx="432.95" cy="126.99" r="2.25"/><circle cx="434.3" cy="152.69" r="2.25"/><circle cx="422.61" cy="139.43" r="2.25"/><circle cx="429.43" cy="111.99" r="2.25"/><circle cx="402.05" cy="117.22" r="2.25"/><circle cx="419.36" cy="121.14" r="2.25"/><circle cx="413.91" cy="111.28" r="2.25"/><circle cx="421.58" cy="139.45" r="2.25"/><circle cx="428.65" cy="146.74" r="2.25"/><circle cx="410.31" cy="133.26" r="2.25"/><circle cx="430.31" cy="116.8" r="2.25"/><circle cx="428.68" cy="117.61" r="2.25"/><circle cx="402.57" cy="138.58" r="2.25"/><circle cx="435.49" cy="118.75" r="2.25"/><circle cx="425.74" cy="148.92" r="2.25"/><circle cx="441.4" cy="137.62" r="2.25"/><circle cx="410.85" cy="131.05" r="2.25"/><circle cx="436.92" cy="134.79" r="2.25"/><circle cx="401.45" cy="148.51" r="2.25"/><circle cx="423.61" cy="139.07" r="2.25"/><circle cx="435.25" cy="137.28" r="2.25"/><circle cx="429.89" cy="136.24" r="2.25"/><circle cx="437.77" cy="123.24" r="2.25"/><circle cx="425.1" cy="144.39" r="2.25"/><circle cx="419.9" cy="148.09" r="2.25"/><circle cx="437.81" cy="127.25" r="2.25"/><circle cx="401.53" cy="125.41" r="2.25"/><circle cx="434.12" cy="124.46" r="2.25"/><circle cx="407.62" cy="140.82" r="2.25"/><circle cx="426.65" cy="112.54" r="2.25"/><circle cx="441.05" cy="132.21" r="2.25"/><circle cx="420.45" cy="138.12" r="2.25"/><circle cx="434.96" cy="141.91" r="2.25"/><circle cx="428.1" cy="133.74" r="2.25"/><circle cx="434.94" cy="149.63" r="2.25"/><circle cx="399.77" cy="149.67" r="2.25"/><circle cx="419.93" cy="133.32" r="2.25"/><circle cx="426.79" cy="131.96" r="2.25"/><circle cx="429.92" cy="118.08" r="2.25"/><circle cx="438.83" cy="148.72" r="2.25"/><circle cx="407.17" cy="118.84" r="2.25"/><circle cx="421.5" cy="129.22" r="2.25"/><circle cx="425.6" cy="116.5" r="2.25"/><circle cx="416.28" cy="132.43" r="2.25"/><circle cx="437.97" cy="120.64" r="2.25"/><circle cx="420.67" cy="143" r="2.25"/><circle cx="402.69" cy="150.55" r="2.25"/><circle cx="426.41" cy="147.1" r="2.25"/><circle cx="430.74" cy="134.3" r="2.25"/><circle cx="428.83" cy="119.37" r="2.25"/><circle cx="420.05" cy="122.28" r="2.25"/><circle cx="419.15" cy="129.16" r="2.25"/><circle cx="435.31" cy="128.47" r="2.25"/><circle cx="428.95" cy="130.74" r="2.25"/><circle cx="429.07" cy="141.96" r="2.25"/><circle cx="433.82" cy="147.74" r="2.25"/><circle cx="403.92" cy="114.02" r="2.25"/><circle cx="428.85" cy="150.99" r="2.25"/><circle cx="435.35" cy="109.84" r="2.25"/><circle cx="430.25" cy="113.33" r="2.25"/><circle cx="439.07" cy="135.53" r="2.25"/><circle cx="416.13" cy="137.55" r="2.25"/><circle cx="431.19" cy="137.73" r="2.25"/><circle cx="431.58" cy="128.39" r="2.25"/><circle cx="430.83" cy="131.96" r="2.25"/><circle cx="421.09" cy="121.47" r="2.25"/><circle cx="419.74" cy="128.93" r="2.25"/><circle cx="438.13" cy="123.08" r="2.25"/><circle cx="408.76" cy="146.54" r="2.25"/><circle cx="412.87" cy="108.36" r="2.25"/><circle cx="406.66" cy="123.4" r="2.25"/><circle cx="434.9" cy="143.46" r="2.25"/><circle cx="434.53" cy="150.17" r="2.25"/><circle cx="414.51" cy="115.06" r="2.25"/><circle cx="416.32" cy="127.82" r="2.25"/><circle cx="432.55" cy="143.49" r="2.25"/><circle cx="426.35" cy="128.31" r="2.25"/><circle cx="417.62" cy="116.11" r="2.25"/><circle cx="439.36" cy="142.66" r="2.25"/><circle cx="425.1" cy="152.91" r="2.25"/><circle cx="421.77" cy="143.37" r="2.25"/><circle cx="403.53" cy="126.52" r="2.25"/><circle cx="414.96" cy="136.13" r="2.25"/><circle cx="414.36" cy="118.74" r="2.25"/><circle cx="405.92" cy="150.13" r="2.25"/><circle cx="425.76" cy="124.36" r="2.25"/><circle cx="422.71" cy="139.41" r="2.25"/><circle cx="429" cy="131.66" r="2.25"/><circle cx="437.54" cy="122.81" r="2.25"/><circle cx="408.46" cy="139.9" r="2.25"/><circle cx="411.2" cy="140.55" r="2.25"/><circle cx="426.27" cy="146.97" r="2.25"/><circle cx="430.44" cy="137.1" r="2.25"/><circle cx="428.43" cy="129.27" r="2.25"/><circle cx="401.87" cy="140.5" r="2.25"/><circle cx="432.57" cy="115.88" r="2.25"/><circle cx="409.74" cy="110.96" r="2.25"/><circle cx="402.64" cy="147.26" r="2.25"/><circle cx="440.05" cy="114.54" r="2.25"/><circle cx="404.38" cy="148" r="2.25"/><circle cx="439.18" cy="137" r="2.25"/><circle cx="408.5" cy="136.66" r="2.25"/><circle cx="408.22" cy="143.19" r="2.25"/><circle cx="437.8" cy="111.79" r="2.25"/><circle cx="430.07" cy="110.73" r="2.25"/><circle cx="439.66" cy="147" r="2.25"/><circle cx="401.25" cy="130.3" r="2.25"/><circle cx="428.13" cy="137.57" r="2.25"/><circle cx="417.75" cy="137.11" r="2.25"/><circle cx="411.17" cy="141.41" r="2.25"/><circle cx="417.44" cy="148.78" r="2.25"/><circle cx="433.12" cy="134.91" r="2.25"/><circle cx="419.1" cy="111.99" r="2.25"/><circle cx="438.52" cy="131.16" r="2.25"/><circle cx="438.78" cy="113.44" r="2.25"/><circle cx="424.89" cy="115.84" r="2.25"/><circle cx="404.65" cy="133.06" r="2.25"/><circle cx="405.11" cy="131.22" r="2.25"/><circle cx="422.12" cy="109.14" r="2.25"/><circle cx="434.21" cy="145.13" r="2.25"/><circle cx="441.4" cy="111.07" r="2.25"/><circle cx="429.6" cy="128.07" r="2.25"/><circle cx="399.64" cy="120.74" r="2.25"/><circle cx="437.5" cy="115.9" r="2.25"/><circle cx="424.34" cy="135.89" r="2.25"/><circle cx="404.93" cy="148.28" r="2.25"/><circle cx="428.91" cy="112.41" r="2.25"/><circle cx="438.81" cy="139.62" r="2.25"/><circle cx="411.04" cy="126.01" r="2.25"/><circle cx="423.59" cy="134.19" r="2.25"/><circle cx="425.87" cy="147.65" r="2.25"/><circle cx="424.88" cy="123.55" r="2.25"/><circle cx="413.69" cy="142.13" r="2.25"/><circle cx="422.56" cy="136.49" r="2.25"/><circle cx="438.1" cy="129.76" r="2.25"/><circle cx="422.65" cy="135.6" r="2.25"/><circle cx="406.65" cy="147.07" r="2.25"/><circle cx="423.48" cy="119.08" r="2.25"/><circle cx="430.74" cy="111.1" r="2.25"/><circle cx="402.84" cy="120.67" r="2.25"/><circle cx="435.65" cy="147.83" r="2.25"/><circle cx="419.48" cy="131.82" r="2.25"/><circle cx="408.57" cy="145.05" r="2.25"/><circle cx="408.91" cy="130.92" r="2.25"/><circle cx="402.96" cy="144.89" r="2.25"/><circle cx="435.12" cy="122.95" r="2.25"/><circle cx="433.85" cy="136.32" r="2.25"/><circle cx="416.92" cy="128.8" r="2.25"/><circle cx="440.82" cy="120" r="2.25"/><circle cx="408.91" cy="120.96" r="2.25"/><circle cx="399.74" cy="141.41" r="2.25"/><circle cx="434.28" cy="145.07" r="2.25"/><circle cx="431.39" cy="129.92" r="2.25"/><circle cx="407.2" cy="135.84" r="2.25"/><circle cx="412.95" cy="115.51" r="2.25"/><circle cx="402.95" cy="139.31" r="2.25"/><circle cx="422.87" cy="141.38" r="2.25"/><circle cx="421.83" cy="110.81" r="2.25"/><circle cx="426.02" cy="139.3" r="2.25"/><circle cx="434.82" cy="112.28" r="2.25"/><circle cx="435.01" cy="113.24" r="2.25"/><circle cx="413.95" cy="122.9" r="2.25"/><circle cx="417.14" cy="121.89" r="2.25"/><circle cx="405.96" cy="108.21" r="2.25"/><circle cx="424.01" cy="120.32" r="2.25"/><circle cx="415.81" cy="133.67" r="2.25"/><circle cx="428.68" cy="139.38" r="2.25"/><circle cx="412.3" cy="110.14" r="2.25"/><circle cx="414.66" cy="138.92" r="2.25"/><circle cx="426.79" cy="120.4" r="2.25"/><circle cx="405.88" cy="137.14" r="2.25"/><circle cx="409.49" cy="117.22" r="2.25"/><circle cx="422.92" cy="138.08" r="2.25"/><circle cx="427.39" cy="123.99" r="2.25"/><circle cx="404.69" cy="117.67" r="2.25"/><circle cx="416.76" cy="130.28" r="2.25"/><circle cx="418.54" cy="114.14" r="2.25"/><circle cx="416.57" cy="122.54" r="2.25"/><circle cx="402.46" cy="126.28" r="2.25"/><circle cx="428.27" cy="130.7" r="2.25"/><circle cx="428.78" cy="145.85" r="2.25"/><circle cx="441.4" cy="152.47" r="2.25"/><circle cx="409.91" cy="130.43" r="2.25"/><circle cx="422.01" cy="128.88" r="2.25"/><circle cx="434.2" cy="109.65" r="2.25"/><circle cx="430.59" cy="117.57" r="2.25"/><circle cx="400" cy="144.84" r="2.25"/><circle cx="412.89" cy="127.69" r="2.25"/><circle cx="408.86" cy="130.64" r="2.25"/><circle cx="435.91" cy="136.67" r="2.25"/><circle cx="428.82" cy="142.64" r="2.25"/><circle cx="430.94" cy="143.73" r="2.25"/><circle cx="400.16" cy="111.06" r="2.25"/><circle cx="430.75" cy="127.06" r="2.25"/><circle cx="405.53" cy="118.25" r="2.25"/><circle cx="407.31" cy="118.56" r="2.25"/><circle cx="419.01" cy="119.8" r="2.25"/><circle cx="425.01" cy="121.5" r="2.25"/><circle cx="410.22" cy="134.15" r="2.25"/><circle cx="435.63" cy="109.81" r="2.25"/><circle cx="430.13" cy="138.38" r="2.25"/><circle cx="439.96" cy="138.35" r="2.25"/><circle cx="405.63" cy="138.91" r="2.25"/><circle cx="419.3" cy="145.63" r="2.25"/><circle cx="414.93" cy="120.32" r="2.25"/><circle cx="416.17" cy="118.23" r="2.25"/><circle cx="403.77" cy="124.47" r="2.25"/><circle cx="437.41" cy="148.82" r="2.25"/><circle cx="404.81" cy="122.98" r="2.25"/><circle cx="401.76" cy="127.3" r="2.25"/><circle cx="400.31" cy="121.11" r="2.25"/><circle cx="432.68" cy="132.72" r="2.25"/><circle cx="435.93" cy="109.37" r="2.25"/><circle cx="413.12" cy="147.05" r="2.25"/><circle cx="407.56" cy="143.54" r="2.25"/><circle cx="411.32" cy="121.1" r="2.25"/><circle cx="417.64" cy="115.32" r="2.25"/><circle cx="425.24" cy="110.57" r="2.25"/><circle cx="410.72" cy="137.83" r="2.25"/><circle cx="430.54" cy="133.37" r="2.25"/><circle cx="430.32" cy="120.52" r="2.25"/><circle cx="438.44" cy="110.61" r="2.25"/><circle cx="438.87" cy="116.89" r="2.25"/><circle cx="430.74" cy="152.34" r="2.25"/><circle cx="438.95" cy="109.89" r="2.25"/><circle cx="432.19" cy="124.35" r="2.25"/><circle cx="415.77" cy="118.53" r="2.25"/><circle cx="400.62" cy="109.52" r="2.25"/><circle cx="408.62" cy="130.69" r="2.25"/><circle cx="439.1" cy="124.55" r="2.25"/><circle cx="427.24" cy="138.58" r="2.25"/><circle cx="433.8" cy="132.97" r="2.25"/><circle cx="401.98" cy="113.1" r="2.25"/><circle cx="432.45" cy="112.03" r="2.25"/><circle cx="411.32" cy="143.04" r="2.25"/><circle cx="411.93" cy="131.99" r="2.25"/><circle cx="417.83" cy="152.45" r="2.25"/><circle cx="434.45" cy="140.85" r="2.25"/><circle cx="429.2" cy="149.55" r="2.25"/><circle cx="440.91" cy="109.27" r="2.25"/><circle cx="399.85" cy="112.18" r="2.25"/><circle cx="417.86" cy="114.07" r="2.25"/><circle cx="425.47" cy="143.84" r="2.25"/><circle cx="418.32" cy="132.45" r="2.25"/><circle cx="415.87" cy="126.47" r="2.25"/><circle cx="437.12" cy="127.51" r="2.25"/><circle cx="420.87" cy="114.95" r="2.25"/><circle cx="405.96" cy="141.85" r="2.25"/><circle cx="415.81" cy="152.83" r="2.25"/><circle cx="416.18" cy="123.81" r="2.25"/><circle cx="411.55" cy="121.57" r="2.25"/><circle cx="403.77" cy="127.4" r="2.25"/><circle cx="434.61" cy="142.28" r="2.25"/><circle cx="428.82" cy="137.16" r="2.25"/><circle cx="440.26" cy="145.89" r="2.25"/><circle cx="428.42" cy="148.53" r="2.25"/><circle cx="420.45" cy="112.39" r="2.25"/><circle cx="438.1" cy="109.79" r="2.25"/><circle cx="425.28" cy="140.49" r="2.25"/><circle cx="436.61" cy="122.14" r="2.25"/><circle cx="436.74" cy="126.26" r="2.25"/><circle cx="419.84" cy="151.19" r="2.25"/><circle cx="408.46" cy="115.35" r="2.25"/><circle cx="413.98" cy="147.26" r="2.25"/><circle cx="436.51" cy="122.39" r="2.25"/><circle cx="417.08" cy="110.7" r="2.25"/><circle cx="416.09" cy="142.1" r="2.25"/><circle cx="408.84" cy="129.03" r="2.25"/><circle cx="431.85" cy="113.65" r="2.25"/><circle cx="399.67" cy="148.65" r="2.25"/><circle cx="435.84" cy="119.18" r="2.25"/><circle cx="406.35" cy="128.47" r="2.25"/><circle cx="408.54" cy="131.87" r="2.25"/><circle cx="411.11" cy="119.44" r="2.25"/><circle cx="417.44" cy="126.92" r="2.25"/><circle cx="423.94" cy="141.53" r="2.25"/><circle cx="430.92" cy="130.69" r="2.25"/><circle cx="419.75" cy="140.31" r="2.25"/><circle cx="427.8" cy="146.26" r="2.25"/><circle cx="401.27" cy="120.64" r="2.25"/><circle cx="425.34" cy="126.51" r="2.25"/><circle cx="424.02" cy="139.57" r="2.25"/><circle cx="402.73" cy="150.8" r="2.25"/><circle cx="440.1" cy="115.25" r="2.25"/><circle cx="424.57" cy="135.69" r="2.25"/><circle cx="419.67" cy="121.65" r="2.25"/><circle cx="408.37" cy="120.86" r="2.25"/><circle cx="421.34" cy="129.16" r="2.25"/><circle cx="435.1" cy="130.83" r="2.25"/><circle cx="428.73" cy="134.76" r="2.25"/><circle cx="403.2" cy="133.35" r="2.25"/><circle cx="412.72" cy="128.49" r="2.25"/><circle cx="438.09" cy="115.85" r="2.25"/><circle cx="404.11" cy="133.08" r="2.25"/><circle cx="425.82" cy="130.2" r="2.25"/><circle cx="435.9" cy="116.37" r="2.25"/><circle cx="428.09" cy="110.49" r="2.25"/><circle cx="426.09" cy="141.19" r="2.25"/><circle cx="401.18" cy="127.85" r="2.25"/><circle cx="411.48" cy="145.4" r="2.25"/><circle cx="409.51" cy="138" r="2.25"/><circle cx="410.47" cy="137.63" r="2.25"/><circle cx="427.3" cy="129.09" r="2.25"/><circle cx="413.06" cy="113.49" r="2.25"/><circle cx="400.31" cy="108.37" r="2.25"/><circle cx="401.8" cy="152.19" r="2.25"/><circle cx="416.82" cy="140.19" r="2.25"/><circle cx="417.64" cy="150.61" r="2.25"/><circle cx="422.88" cy="148.54" r="2.25"/><circle cx="412.81" cy="150.87" r="2.25"/><circle cx="433.05" cy="117.75" r="2.25"/><circle cx="438.45" cy="110.71" r="2.25"/><circle cx="437.13" cy="136.59" r="2.25"/><circle cx="438.95" cy="136.45" r="2.25"/><circle cx="415.39" cy="148.68" r="2.25"/><circle cx="418.32" cy="131.03" r="2.25"/><circle cx="436.19" cy="121.54" r="2.25"/><circle cx="406.61" cy="130.83" r="2.25"/><circle cx="437.18" cy="147.92" r="2.25"/><circle cx="433.71" cy="134.43" r="2.25"/><circle cx="412.43" cy="141.12" r="2.25"/><circle cx="399.73" cy="139.16" r="2.25"/><circle cx="421.7" cy="113.66" r="2.25"/><circle cx="407.82" cy="121.96" r="2.25"/><circle cx="407.43" cy="129.52" r="2.25"/><circle cx="415.62" cy="109.22" r="2.25"/><circle cx="416.58" cy="122.79" r="2.25"/><circle cx="430.72" cy="142.95" r="2.25"/><circle cx="428.68" cy="121.58" r="2.25"/><circle cx="433.24" cy="140.67" r="2.25"/><circle cx="432.12" cy="138.55" r="2.25"/><circle cx="416.33" cy="151.82" r="2.25"/><circle cx="414.19" cy="138.2" r="2.25"/><circle cx="415.5" cy="134.02" r="2.25"/><circle cx="421.52" cy="131.36" r="2.25"/><circle cx="419.79" cy="125.82" r="2.25"/><circle cx="423.36" cy="140.3" r="2.25"/><circle cx="437.9" cy="140.1" r="2.25"/><circle cx="414.55" cy="149.91" r="2.25"/><circle cx="423.05" cy="110.32" r="2.25"/><circle cx="407.6" cy="114.45" r="2.25"/><circle cx="423.42" cy="133.22" r="2.25"/><circle cx="423.93" cy="133.58" r="2.25"/><circle cx="427.86" cy="139.61" r="2.25"/><circle cx="418.42" cy="149.89" r="2.25"/><circle cx="405.36" cy="121.15" r="2.25"/><circle cx="414.26" cy="124.82" r="2.25"/><circle cx="411.09" cy="117.07" r="2.25"/><circle cx="407.43" cy="152.36" r="2.25"/><circle cx="438.29" cy="148.1" r="2.25"/><circle cx="428.95" cy="125.73" r="2.25"/><circle cx="438.97" cy="129.08" r="2.25"/><circle cx="439.01" cy="147.78" r="2.25"/><circle cx="410.99" cy="127.68" r="2.25"/><circle cx="412.29" cy="148.14" r="2.25"/><circle cx="420.34" cy="125.79" r="2.25"/><circle cx="416.63" cy="125.04" r="2.25"/><circle cx="417.14" cy="116.37" r="2.25"/><circle cx="403.12" cy="132.15" r="2.25"/><circle cx="438.2" cy="114.81" r="2.25"/><circle cx="435.53" cy="127.1" r="2.25"/><circle cx="423.98" cy="140.27" r="2.25"/><circle cx="415.42" cy="108.79" r="2.25"/><circle cx="424.57" cy="128.2" r="2.25"/><circle cx="422.15" cy="111.03" r="2.25"/></g>
<path d="M397.5 128H443.5" stroke="#000" stroke-width="1.8"/>
<path d="M490 94.3V165.5M478.4 94.3H501.6M478.4 165.5H501.6" stroke="#454545" stroke-width="1.15" fill="none"/>
<g fill="#000"><circle cx="490" cy="94.3" r="2.25"/><circle cx="485.1" cy="108.5" r="2.25"/><circle cx="494.7" cy="106.3" r="2.25"/><circle cx="490" cy="115.3" r="2.25"/><circle cx="471.5" cy="119.9" r="2.25"/><circle cx="508.5" cy="116.1" r="2.25"/><circle cx="508.5" cy="119.9" r="2.25"/><circle cx="490" cy="122.6" r="2.25"/><circle cx="476.4" cy="124.3" r="2.25"/><circle cx="480.7" cy="123.2" r="2.25"/><circle cx="499.3" cy="123.2" r="2.25"/><circle cx="471.5" cy="163.5" r="2.25"/><circle cx="480.7" cy="161.9" r="2.25"/><circle cx="490" cy="163" r="2.25"/><circle cx="499.3" cy="161.9" r="2.25"/><circle cx="508.5" cy="165.7" r="2.25"/><circle cx="508.5" cy="159.2" r="2.25"/><circle cx="480.7" cy="157.5" r="2.25"/><circle cx="490" cy="156.5" r="2.25"/><circle cx="499.3" cy="156.5" r="2.25"/><circle cx="472" cy="155.7" r="2.25"/><circle cx="469.3" cy="152.1" r="2.25"/><circle cx="510.7" cy="153.7" r="2.25"/><circle cx="490" cy="129.2" r="2.25"/><circle cx="494.6" cy="126.06" r="2.25"/><circle cx="490" cy="140.68" r="2.25"/><circle cx="490" cy="146.31" r="2.25"/><circle cx="494.6" cy="153.04" r="2.25"/><circle cx="485.4" cy="149.91" r="2.25"/><circle cx="494.6" cy="132.84" r="2.25"/><circle cx="494.6" cy="141.51" r="2.25"/><circle cx="485.4" cy="139.06" r="2.25"/><circle cx="499.2" cy="142.86" r="2.25"/><circle cx="485.4" cy="123.42" r="2.25"/><circle cx="499.2" cy="137.88" r="2.25"/><circle cx="499.2" cy="149.52" r="2.25"/><circle cx="490" cy="151.42" r="2.25"/><circle cx="490" cy="134.66" r="2.25"/><circle cx="494.6" cy="147.13" r="2.25"/><circle cx="480.8" cy="135.66" r="2.25"/><circle cx="485.4" cy="128.98" r="2.25"/><circle cx="503.8" cy="138.26" r="2.25"/><circle cx="480.8" cy="150.97" r="2.25"/><circle cx="503.8" cy="152.35" r="2.25"/><circle cx="499.2" cy="129.27" r="2.25"/><circle cx="480.8" cy="140.47" r="2.25"/><circle cx="480.8" cy="146.19" r="2.25"/><circle cx="476.2" cy="142.11" r="2.25"/><circle cx="508.4" cy="140.47" r="2.25"/><circle cx="503.8" cy="126.64" r="2.25"/><circle cx="510.8" cy="123.65" r="2.25"/><circle cx="485.4" cy="154.12" r="2.25"/><circle cx="476.2" cy="150.54" r="2.25"/><circle cx="508.4" cy="149.65" r="2.25"/><circle cx="503.8" cy="146.85" r="2.25"/><circle cx="471.6" cy="141.04" r="2.25"/><circle cx="485.4" cy="143.4" r="2.25"/><circle cx="505.44" cy="141.7" r="2.25"/><circle cx="471.6" cy="148.61" r="2.25"/><circle cx="476.86" cy="149.31" r="2.25"/><circle cx="496.68" cy="140.09" r="2.25"/><circle cx="480.8" cy="128.53" r="2.25"/><circle cx="471.6" cy="124.23" r="2.25"/><circle cx="510.5" cy="151.77" r="2.25"/><circle cx="478.4" cy="124.08" r="2.25"/><circle cx="498.08" cy="149.78" r="2.25"/><circle cx="508.4" cy="145.63" r="2.25"/><circle cx="508.4" cy="128.1" r="2.25"/><circle cx="472.15" cy="139.91" r="2.25"/><circle cx="476.2" cy="135.61" r="2.25"/><circle cx="503.8" cy="131.2" r="2.25"/><circle cx="507.54" cy="139.63" r="2.25"/><circle cx="496.7" cy="141.75" r="2.25"/><circle cx="498.68" cy="141.31" r="2.25"/><circle cx="476.2" cy="130.19" r="2.25"/><circle cx="471.6" cy="135.91" r="2.25"/><circle cx="470.93" cy="151.64" r="2.25"/><circle cx="485.16" cy="137.98" r="2.25"/><circle cx="493.97" cy="141.91" r="2.25"/><circle cx="479.84" cy="145.97" r="2.25"/><circle cx="500.6" cy="123.89" r="2.25"/><circle cx="492.78" cy="152.04" r="2.25"/><circle cx="478.01" cy="142.93" r="2.25"/><circle cx="505.23" cy="151.3" r="2.25"/><circle cx="471.6" cy="131.14" r="2.25"/><circle cx="496.05" cy="128.16" r="2.25"/><circle cx="479.56" cy="152.65" r="2.25"/><circle cx="483.72" cy="151.08" r="2.25"/><circle cx="510.8" cy="137.12" r="2.25"/><circle cx="497" cy="140.39" r="2.25"/><circle cx="495.82" cy="148.77" r="2.25"/><circle cx="487.18" cy="129.41" r="2.25"/><circle cx="496.91" cy="153.64" r="2.25"/><circle cx="471.74" cy="149.4" r="2.25"/><circle cx="478.73" cy="150.85" r="2.25"/><circle cx="473.19" cy="150.93" r="2.25"/><circle cx="497.78" cy="149.37" r="2.25"/><circle cx="499.19" cy="151.91" r="2.25"/><circle cx="498.57" cy="129.09" r="2.25"/><circle cx="495.37" cy="143.63" r="2.25"/><circle cx="483.19" cy="128.27" r="2.25"/><circle cx="490.27" cy="134.62" r="2.25"/><circle cx="486.94" cy="135.29" r="2.25"/><circle cx="475.19" cy="142.26" r="2.25"/><circle cx="502.94" cy="124.58" r="2.25"/><circle cx="474.77" cy="137.23" r="2.25"/><circle cx="508.4" cy="132.21" r="2.25"/><circle cx="480.91" cy="137.12" r="2.25"/><circle cx="500.13" cy="128.32" r="2.25"/><circle cx="505.13" cy="141.54" r="2.25"/><circle cx="473.24" cy="151.41" r="2.25"/><circle cx="501.15" cy="137.27" r="2.25"/><circle cx="479.22" cy="123.77" r="2.25"/><circle cx="499.2" cy="133.69" r="2.25"/><circle cx="507.21" cy="124.29" r="2.25"/><circle cx="473.31" cy="151.51" r="2.25"/><circle cx="510.42" cy="148.22" r="2.25"/><circle cx="480.78" cy="143.71" r="2.25"/><circle cx="479.82" cy="129.14" r="2.25"/><circle cx="503.72" cy="137.94" r="2.25"/><circle cx="483.15" cy="147.82" r="2.25"/><circle cx="475.95" cy="135.12" r="2.25"/><circle cx="481.82" cy="128.23" r="2.25"/><circle cx="508.07" cy="141.29" r="2.25"/><circle cx="492.18" cy="138.78" r="2.25"/><circle cx="469.2" cy="127.51" r="2.25"/><circle cx="489.46" cy="130.38" r="2.25"/><circle cx="492.58" cy="138.58" r="2.25"/><circle cx="473.76" cy="138.8" r="2.25"/><circle cx="492.73" cy="134.52" r="2.25"/><circle cx="498.82" cy="148.09" r="2.25"/><circle cx="469.3" cy="128.33" r="2.25"/><circle cx="476.95" cy="129.63" r="2.25"/><circle cx="507.8" cy="147.28" r="2.25"/><circle cx="489.71" cy="139.75" r="2.25"/><circle cx="480.18" cy="152.84" r="2.25"/><circle cx="494.63" cy="140.18" r="2.25"/><circle cx="485.6" cy="154.61" r="2.25"/><circle cx="471.33" cy="128.55" r="2.25"/><circle cx="508.89" cy="131.19" r="2.25"/><circle cx="483.62" cy="136.76" r="2.25"/><circle cx="488.55" cy="149.62" r="2.25"/><circle cx="484.21" cy="125.37" r="2.25"/><circle cx="502.86" cy="134.59" r="2.25"/><circle cx="484.23" cy="138.75" r="2.25"/><circle cx="483.15" cy="143.91" r="2.25"/><circle cx="487.98" cy="127.79" r="2.25"/><circle cx="509.72" cy="130.33" r="2.25"/><circle cx="506.67" cy="151.79" r="2.25"/><circle cx="471.44" cy="127.85" r="2.25"/><circle cx="507.91" cy="129.63" r="2.25"/><circle cx="494.07" cy="150.12" r="2.25"/><circle cx="475.21" cy="138.53" r="2.25"/><circle cx="482.85" cy="154.25" r="2.25"/><circle cx="497.23" cy="134.67" r="2.25"/><circle cx="508.1" cy="148.05" r="2.25"/><circle cx="501.7" cy="130.08" r="2.25"/><circle cx="483.46" cy="134.67" r="2.25"/><circle cx="489.38" cy="141.89" r="2.25"/><circle cx="501.27" cy="128.52" r="2.25"/><circle cx="493.78" cy="139.38" r="2.25"/><circle cx="491.47" cy="130.54" r="2.25"/><circle cx="471.66" cy="147.59" r="2.25"/><circle cx="476.24" cy="139.3" r="2.25"/><circle cx="474.74" cy="133.57" r="2.25"/><circle cx="478.52" cy="125.07" r="2.25"/><circle cx="498.14" cy="138.64" r="2.25"/><circle cx="492.01" cy="148.35" r="2.25"/><circle cx="489.12" cy="146.67" r="2.25"/><circle cx="492.32" cy="146.36" r="2.25"/><circle cx="476.01" cy="152.76" r="2.25"/><circle cx="476.16" cy="152.44" r="2.25"/><circle cx="494.85" cy="150.35" r="2.25"/><circle cx="509.65" cy="150.57" r="2.25"/><circle cx="477.02" cy="127.61" r="2.25"/><circle cx="491.35" cy="132.8" r="2.25"/><circle cx="477.65" cy="137.05" r="2.25"/><circle cx="471.72" cy="144.71" r="2.25"/><circle cx="509.95" cy="124.29" r="2.25"/><circle cx="501.62" cy="145.33" r="2.25"/><circle cx="502.81" cy="145.94" r="2.25"/><circle cx="496.39" cy="137.1" r="2.25"/><circle cx="472.11" cy="151.78" r="2.25"/><circle cx="484.03" cy="124.31" r="2.25"/><circle cx="510.2" cy="141.81" r="2.25"/><circle cx="489.09" cy="141.88" r="2.25"/><circle cx="498.77" cy="132.76" r="2.25"/><circle cx="509.1" cy="138.82" r="2.25"/><circle cx="498.86" cy="143.63" r="2.25"/><circle cx="476.74" cy="154.63" r="2.25"/><circle cx="507.14" cy="133.43" r="2.25"/><circle cx="499.94" cy="131.97" r="2.25"/><circle cx="479.17" cy="145.44" r="2.25"/></g>
<path d="M423.9 71H486.9" stroke="#000" stroke-width="2"/>
<path d="M455.3 56.45L455.3 64.15M451.97 58.38L458.63 62.22M451.97 62.22L458.63 58.38" stroke="#000" stroke-width="2.0" stroke-linecap="round"/>
<g font-family='"Liberation Sans", sans-serif' font-weight="bold" stroke="#000" stroke-width="0.3">
<text x="156.1" y="329.5" font-size="14.6" text-anchor="middle">BAFF/BLyS</text>
<text transform="translate(20 456.3) rotate(-90)" font-size="12.4" text-anchor="middle" textLength="212.8" lengthAdjust="spacingAndGlyphs">Log<tspan font-size="8.6" dy="3.4">10</tspan><tspan dy="-3.4"> (Baseline Plasma BAFF/BLyS)</tspan></text>
<text x="65.6" y="353.7" font-size="11.8" text-anchor="end">10,000</text>
<text x="65.6" y="460.3" font-size="11.8" text-anchor="end">1,000</text>
<text x="65.6" y="566.9" font-size="11.8" text-anchor="end">100</text>
<text x="120.9" y="582.6" font-size="11.5" text-anchor="middle">AAA</text>
<text x="190.5" y="582.6" font-size="11.5" text-anchor="middle">Control</text>
</g>
<path d="M75 348.9V562.9M68.7 562.9H236.5M68.7 349.7H75M68.7 456.3H75M120.9 562.9V569.1M190.5 562.9V569.1" stroke="#000" stroke-width="1.6" fill="none"/>
<path d="M120.9 410.1V520M109.3 410.1H132.5M109.3 520H132.5" stroke="#454545" stroke-width="1.15" fill="none"/>
<g fill="#000"><circle cx="116.2" cy="409.8" r="2.25"/><circle cx="116.2" cy="415.5" r="2.25"/><circle cx="125.5" cy="413.3" r="2.25"/><circle cx="130.1" cy="420" r="2.25"/><circle cx="120.9" cy="422.4" r="2.25"/><circle cx="111.8" cy="421.8" r="2.25"/><circle cx="113.8" cy="425.6" r="2.25"/><circle cx="100" cy="426.2" r="2.25"/><circle cx="100" cy="428.6" r="2.25"/><circle cx="106.9" cy="425.3" r="2.25"/><circle cx="106.4" cy="428.6" r="2.25"/><circle cx="134.7" cy="425.1" r="2.25"/><circle cx="135.3" cy="427.8" r="2.25"/><circle cx="141.8" cy="426" r="2.25"/><circle cx="141.8" cy="431.1" r="2.25"/><circle cx="111.8" cy="429.7" r="2.25"/><circle cx="120.9" cy="426.2" r="2.25"/><circle cx="128.2" cy="427.1" r="2.25"/><circle cx="111.8" cy="520" r="2.25"/><circle cx="130.1" cy="518.2" r="2.25"/><circle cx="120.9" cy="515.8" r="2.25"/><circle cx="130.1" cy="513.4" r="2.25"/><circle cx="111.8" cy="510.6" r="2.25"/><circle cx="130.1" cy="508.4" r="2.25"/><circle cx="111.8" cy="504.7" r="2.25"/><circle cx="130.1" cy="503.3" r="2.25"/><circle cx="130.1" cy="500.5" r="2.25"/><circle cx="120.9" cy="502.2" r="2.25"/><circle cx="124" cy="501.1" r="2.25"/><circle cx="100" cy="501.1" r="2.25"/><circle cx="141.8" cy="501.1" r="2.25"/><circle cx="106.4" cy="498.9" r="2.25"/><circle cx="111.8" cy="498.6" r="2.25"/><circle cx="118.1" cy="498.1" r="2.25"/><circle cx="135.8" cy="497.3" r="2.25"/><circle cx="141.8" cy="495.3" r="2.25"/><circle cx="100" cy="494.9" r="2.25"/><circle cx="127.6" cy="496" r="2.25"/><circle cx="122.7" cy="494.9" r="2.25"/><circle cx="120.9" cy="486.84" r="2.25"/><circle cx="120.9" cy="440.42" r="2.25"/><circle cx="120.9" cy="478.68" r="2.25"/><circle cx="125.5" cy="437.17" r="2.25"/><circle cx="120.9" cy="433" r="2.25"/><circle cx="116.3" cy="436.55" r="2.25"/><circle cx="125.5" cy="480.11" r="2.25"/><circle cx="125.5" cy="433.24" r="2.25"/><circle cx="120.9" cy="461.95" r="2.25"/><circle cx="116.3" cy="483.29" r="2.25"/><circle cx="120.9" cy="447.45" r="2.25"/><circle cx="125.5" cy="484.2" r="2.25"/><circle cx="130.1" cy="484.13" r="2.25"/><circle cx="125.5" cy="463.99" r="2.25"/><circle cx="116.3" cy="461.5" r="2.25"/><circle cx="125.5" cy="446.47" r="2.25"/><circle cx="120.9" cy="467.17" r="2.25"/><circle cx="130.1" cy="462.19" r="2.25"/><circle cx="120.9" cy="456.28" r="2.25"/><circle cx="125.5" cy="451.13" r="2.25"/><circle cx="111.7" cy="480.37" r="2.25"/><circle cx="125.5" cy="489.2" r="2.25"/><circle cx="116.3" cy="454.68" r="2.25"/><circle cx="130.1" cy="434.61" r="2.25"/><circle cx="125.5" cy="458.09" r="2.25"/><circle cx="111.7" cy="463.99" r="2.25"/><circle cx="134.7" cy="461.4" r="2.25"/><circle cx="120.9" cy="471.13" r="2.25"/><circle cx="125.5" cy="442.52" r="2.25"/><circle cx="125.5" cy="474.27" r="2.25"/><circle cx="130.1" cy="455.16" r="2.25"/><circle cx="116.3" cy="493.69" r="2.25"/><circle cx="130.1" cy="439.36" r="2.25"/><circle cx="111.7" cy="455.54" r="2.25"/><circle cx="116.3" cy="447.08" r="2.25"/><circle cx="111.7" cy="435.91" r="2.25"/><circle cx="111.7" cy="485.76" r="2.25"/><circle cx="116.3" cy="478.01" r="2.25"/><circle cx="120.9" cy="482.62" r="2.25"/><circle cx="134.7" cy="485.31" r="2.25"/><circle cx="134.7" cy="453.53" r="2.25"/><circle cx="107.1" cy="482.65" r="2.25"/><circle cx="116.3" cy="471.14" r="2.25"/><circle cx="139.3" cy="485.94" r="2.25"/><circle cx="130.1" cy="474.82" r="2.25"/><circle cx="107.1" cy="454.61" r="2.25"/><circle cx="107.1" cy="458.8" r="2.25"/><circle cx="130.1" cy="492.08" r="2.25"/><circle cx="139.3" cy="462.23" r="2.25"/><circle cx="111.7" cy="476.19" r="2.25"/><circle cx="130.1" cy="449.81" r="2.25"/><circle cx="102.5" cy="483.05" r="2.25"/><circle cx="134.7" cy="434.05" r="2.25"/><circle cx="134.7" cy="475.36" r="2.25"/><circle cx="120.9" cy="451.67" r="2.25"/><circle cx="107.1" cy="463.91" r="2.25"/><circle cx="116.3" cy="488.56" r="2.25"/><circle cx="139.3" cy="458.33" r="2.25"/><circle cx="116.3" cy="442.76" r="2.25"/><circle cx="107.1" cy="478.62" r="2.25"/><circle cx="100" cy="486.39" r="2.25"/><circle cx="139.3" cy="476.39" r="2.25"/><circle cx="134.7" cy="480.3" r="2.25"/><circle cx="139.3" cy="452.31" r="2.25"/><circle cx="111.7" cy="443.06" r="2.25"/><circle cx="102.5" cy="462.32" r="2.25"/><circle cx="139.3" cy="481.89" r="2.25"/><circle cx="112.23" cy="464.88" r="2.25"/><circle cx="116.19" cy="462.76" r="2.25"/><circle cx="100" cy="459.02" r="2.25"/><circle cx="102.5" cy="453.25" r="2.25"/><circle cx="116.3" cy="467.01" r="2.25"/><circle cx="134.7" cy="441.45" r="2.25"/><circle cx="107.1" cy="440.1" r="2.25"/><circle cx="107.1" cy="487.11" r="2.25"/><circle cx="125.5" cy="470.32" r="2.25"/><circle cx="105.02" cy="456.95" r="2.25"/><circle cx="138.21" cy="457.99" r="2.25"/><circle cx="107.1" cy="435.5" r="2.25"/><circle cx="139.3" cy="437.03" r="2.25"/><circle cx="111.7" cy="450.1" r="2.25"/><circle cx="122.36" cy="451.6" r="2.25"/><circle cx="130.1" cy="466.45" r="2.25"/><circle cx="128.72" cy="482.78" r="2.25"/><circle cx="102.5" cy="436.24" r="2.25"/><circle cx="134.27" cy="480.92" r="2.25"/><circle cx="104.02" cy="433.48" r="2.25"/><circle cx="111.7" cy="493.56" r="2.25"/><circle cx="108.64" cy="433.94" r="2.25"/><circle cx="102.5" cy="476.46" r="2.25"/><circle cx="110.42" cy="455.99" r="2.25"/><circle cx="135.18" cy="451.2" r="2.25"/><circle cx="125.29" cy="462.73" r="2.25"/><circle cx="136.7" cy="485.95" r="2.25"/><circle cx="130.1" cy="470.58" r="2.25"/><circle cx="112.85" cy="454.04" r="2.25"/><circle cx="132.31" cy="465.15" r="2.25"/><circle cx="137.89" cy="463.16" r="2.25"/><circle cx="133.12" cy="464.22" r="2.25"/><circle cx="111.7" cy="470.52" r="2.25"/><circle cx="134.7" cy="470.78" r="2.25"/><circle cx="107.1" cy="472.11" r="2.25"/><circle cx="141.8" cy="465.31" r="2.25"/><circle cx="100" cy="466.13" r="2.25"/><circle cx="107.1" cy="468.13" r="2.25"/><circle cx="139.3" cy="443.1" r="2.25"/><circle cx="111.42" cy="462.06" r="2.25"/><circle cx="117.46" cy="462.5" r="2.25"/><circle cx="114.5" cy="460.7" r="2.25"/><circle cx="102.5" cy="441.95" r="2.25"/><circle cx="112.21" cy="457.29" r="2.25"/><circle cx="123.5" cy="475.48" r="2.25"/><circle cx="103.91" cy="456.94" r="2.25"/><circle cx="101.95" cy="439.46" r="2.25"/><circle cx="132.81" cy="461.46" r="2.25"/><circle cx="135.5" cy="481.79" r="2.25"/><circle cx="139.3" cy="469.81" r="2.25"/><circle cx="137.21" cy="459.62" r="2.25"/><circle cx="102.5" cy="472.13" r="2.25"/><circle cx="141.8" cy="489.19" r="2.25"/><circle cx="131.24" cy="488.71" r="2.25"/><circle cx="136.13" cy="467.78" r="2.25"/><circle cx="107.02" cy="478.7" r="2.25"/><circle cx="120.9" cy="490.74" r="2.25"/><circle cx="134.7" cy="490.75" r="2.25"/><circle cx="134.68" cy="441.87" r="2.25"/><circle cx="135.79" cy="457.5" r="2.25"/><circle cx="130.1" cy="445" r="2.25"/><circle cx="124.3" cy="466.14" r="2.25"/><circle cx="107.11" cy="455.58" r="2.25"/><circle cx="112.6" cy="464.48" r="2.25"/><circle cx="134.3" cy="486.08" r="2.25"/><circle cx="112.38" cy="489.15" r="2.25"/><circle cx="136.17" cy="468.59" r="2.25"/><circle cx="133.38" cy="455.05" r="2.25"/><circle cx="107.1" cy="491.09" r="2.25"/><circle cx="134" cy="475.59" r="2.25"/><circle cx="107.1" cy="448.34" r="2.25"/><circle cx="125.26" cy="456.52" r="2.25"/><circle cx="102.5" cy="491.32" r="2.25"/><circle cx="139.3" cy="447.71" r="2.25"/><circle cx="122.6" cy="458.14" r="2.25"/><circle cx="112.01" cy="459.05" r="2.25"/><circle cx="101.22" cy="441.07" r="2.25"/><circle cx="120.5" cy="436.22" r="2.25"/><circle cx="102.34" cy="470.29" r="2.25"/><circle cx="114.29" cy="434.7" r="2.25"/><circle cx="139.3" cy="492.31" r="2.25"/><circle cx="127.86" cy="464.77" r="2.25"/><circle cx="132.2" cy="484.36" r="2.25"/><circle cx="125.1" cy="470.77" r="2.25"/><circle cx="100" cy="432.58" r="2.25"/><circle cx="104.65" cy="485.01" r="2.25"/><circle cx="106.24" cy="481.64" r="2.25"/><circle cx="123.35" cy="458.38" r="2.25"/><circle cx="106.47" cy="468.65" r="2.25"/><circle cx="100" cy="449.59" r="2.25"/><circle cx="128.98" cy="481.83" r="2.25"/><circle cx="106.85" cy="483.44" r="2.25"/><circle cx="117.87" cy="441.65" r="2.25"/><circle cx="115.75" cy="489.97" r="2.25"/><circle cx="128.68" cy="432.31" r="2.25"/><circle cx="111.92" cy="478.34" r="2.25"/><circle cx="105.6" cy="488.84" r="2.25"/><circle cx="100.38" cy="466.58" r="2.25"/><circle cx="111.81" cy="482.92" r="2.25"/><circle cx="110.49" cy="451.09" r="2.25"/><circle cx="105.46" cy="460.41" r="2.25"/><circle cx="139.58" cy="491.71" r="2.25"/><circle cx="128.82" cy="436.12" r="2.25"/><circle cx="104.69" cy="484.07" r="2.25"/><circle cx="117.58" cy="466.59" r="2.25"/><circle cx="141.15" cy="461.84" r="2.25"/><circle cx="106.31" cy="473.56" r="2.25"/><circle cx="136.65" cy="452.75" r="2.25"/><circle cx="136.59" cy="458.27" r="2.25"/><circle cx="114.19" cy="464.87" r="2.25"/><circle cx="108.6" cy="441.78" r="2.25"/><circle cx="134.55" cy="452.57" r="2.25"/><circle cx="131.88" cy="442.16" r="2.25"/><circle cx="107.81" cy="463.88" r="2.25"/><circle cx="130.64" cy="483.75" r="2.25"/><circle cx="122.65" cy="438.82" r="2.25"/><circle cx="103.22" cy="432.06" r="2.25"/><circle cx="124.28" cy="484.57" r="2.25"/><circle cx="119.95" cy="458.44" r="2.25"/><circle cx="114.08" cy="490.69" r="2.25"/><circle cx="140.86" cy="463.03" r="2.25"/><circle cx="108.79" cy="451.1" r="2.25"/><circle cx="126.87" cy="463.08" r="2.25"/><circle cx="107.65" cy="489.13" r="2.25"/><circle cx="111.92" cy="485.75" r="2.25"/><circle cx="131.39" cy="452.63" r="2.25"/><circle cx="109.11" cy="452.82" r="2.25"/><circle cx="131.09" cy="467.26" r="2.25"/><circle cx="120.65" cy="476.59" r="2.25"/><circle cx="100" cy="445.51" r="2.25"/><circle cx="103.65" cy="471.62" r="2.25"/><circle cx="132.57" cy="485.89" r="2.25"/><circle cx="133.82" cy="439.68" r="2.25"/><circle cx="127.6" cy="469.28" r="2.25"/><circle cx="137.39" cy="485.07" r="2.25"/><circle cx="103.48" cy="452.1" r="2.25"/><circle cx="139.07" cy="451.76" r="2.25"/><circle cx="108.45" cy="471.44" r="2.25"/><circle cx="106.39" cy="461.46" r="2.25"/><circle cx="133" cy="443.45" r="2.25"/><circle cx="105.14" cy="457.56" r="2.25"/><circle cx="133.84" cy="485.06" r="2.25"/><circle cx="108.37" cy="450.57" r="2.25"/><circle cx="137.5" cy="467.9" r="2.25"/><circle cx="105.36" cy="477.77" r="2.25"/><circle cx="112.97" cy="457.14" r="2.25"/><circle cx="136.15" cy="474.4" r="2.25"/><circle cx="119.93" cy="488.48" r="2.25"/><circle cx="104.18" cy="440.94" r="2.25"/><circle cx="125.66" cy="481.68" r="2.25"/><circle cx="124.48" cy="444.8" r="2.25"/><circle cx="133.93" cy="464.22" r="2.25"/><circle cx="136.67" cy="470.49" r="2.25"/><circle cx="100" cy="479.89" r="2.25"/><circle cx="106.25" cy="461.37" r="2.25"/><circle cx="101.51" cy="451.63" r="2.25"/><circle cx="117.93" cy="491.09" r="2.25"/><circle cx="108.33" cy="445.27" r="2.25"/><circle cx="104.1" cy="459.72" r="2.25"/><circle cx="106.95" cy="448.52" r="2.25"/><circle cx="122.27" cy="434.66" r="2.25"/><circle cx="108.49" cy="490.86" r="2.25"/><circle cx="140.09" cy="488.73" r="2.25"/><circle cx="114.5" cy="446.38" r="2.25"/><circle cx="124.07" cy="487.75" r="2.25"/><circle cx="113.53" cy="493.88" r="2.25"/><circle cx="120.68" cy="465.87" r="2.25"/><circle cx="114.83" cy="452.84" r="2.25"/><circle cx="110.53" cy="476.25" r="2.25"/><circle cx="108.6" cy="475.53" r="2.25"/><circle cx="133.29" cy="480.69" r="2.25"/><circle cx="130.17" cy="453.2" r="2.25"/><circle cx="140.15" cy="479.32" r="2.25"/><circle cx="128.18" cy="446.7" r="2.25"/><circle cx="129.99" cy="479.02" r="2.25"/><circle cx="102.49" cy="449.24" r="2.25"/><circle cx="141.25" cy="459.36" r="2.25"/><circle cx="131.09" cy="493.12" r="2.25"/><circle cx="129.3" cy="458.94" r="2.25"/><circle cx="105.51" cy="456.15" r="2.25"/><circle cx="122.97" cy="459.05" r="2.25"/><circle cx="112.99" cy="483.33" r="2.25"/><circle cx="117.3" cy="441.31" r="2.25"/><circle cx="134.56" cy="475.14" r="2.25"/><circle cx="115.89" cy="445.22" r="2.25"/><circle cx="114.64" cy="469.33" r="2.25"/><circle cx="124" cy="440.77" r="2.25"/><circle cx="139.59" cy="477.25" r="2.25"/><circle cx="117.37" cy="434.09" r="2.25"/><circle cx="138.33" cy="480.36" r="2.25"/><circle cx="104.73" cy="438.89" r="2.25"/><circle cx="101.41" cy="447.5" r="2.25"/><circle cx="134.66" cy="438.38" r="2.25"/><circle cx="117.83" cy="467.57" r="2.25"/><circle cx="129.77" cy="451.28" r="2.25"/><circle cx="103.56" cy="487.18" r="2.25"/><circle cx="111.74" cy="472.29" r="2.25"/><circle cx="125.88" cy="490.33" r="2.25"/><circle cx="110.44" cy="463.19" r="2.25"/><circle cx="125.23" cy="461.57" r="2.25"/><circle cx="125.98" cy="456.63" r="2.25"/><circle cx="115.28" cy="484.54" r="2.25"/><circle cx="128.27" cy="484.68" r="2.25"/><circle cx="116.17" cy="446.89" r="2.25"/><circle cx="115.49" cy="476.25" r="2.25"/><circle cx="109.41" cy="452.9" r="2.25"/><circle cx="122.4" cy="471.71" r="2.25"/><circle cx="133.72" cy="458.36" r="2.25"/><circle cx="128.18" cy="444.22" r="2.25"/><circle cx="118.75" cy="469.99" r="2.25"/><circle cx="101.72" cy="456.78" r="2.25"/><circle cx="139.06" cy="453.06" r="2.25"/><circle cx="112.24" cy="471.76" r="2.25"/><circle cx="102.09" cy="458.09" r="2.25"/><circle cx="108.29" cy="449.19" r="2.25"/><circle cx="100.29" cy="464.41" r="2.25"/><circle cx="136.74" cy="455.34" r="2.25"/><circle cx="110.82" cy="462.08" r="2.25"/><circle cx="113.89" cy="436.97" r="2.25"/><circle cx="104.58" cy="478.03" r="2.25"/><circle cx="131.55" cy="477.1" r="2.25"/><circle cx="120.75" cy="465.82" r="2.25"/><circle cx="134.16" cy="471.55" r="2.25"/><circle cx="133.39" cy="467.93" r="2.25"/><circle cx="101.41" cy="472.37" r="2.25"/><circle cx="109.64" cy="434.39" r="2.25"/><circle cx="108.71" cy="438.55" r="2.25"/><circle cx="110.97" cy="462.41" r="2.25"/><circle cx="136.67" cy="469.86" r="2.25"/><circle cx="139.47" cy="466.57" r="2.25"/><circle cx="112.74" cy="487.17" r="2.25"/><circle cx="137.09" cy="475.42" r="2.25"/><circle cx="130.71" cy="467.48" r="2.25"/><circle cx="108.15" cy="481.73" r="2.25"/><circle cx="131.8" cy="470.11" r="2.25"/><circle cx="117.6" cy="474.21" r="2.25"/><circle cx="100.61" cy="436.12" r="2.25"/><circle cx="108.68" cy="478.34" r="2.25"/><circle cx="126.85" cy="456.41" r="2.25"/><circle cx="112.93" cy="473.51" r="2.25"/><circle cx="135.26" cy="450.33" r="2.25"/><circle cx="101.34" cy="478.19" r="2.25"/><circle cx="131.4" cy="491.12" r="2.25"/><circle cx="105.76" cy="447.34" r="2.25"/><circle cx="102.43" cy="441.5" r="2.25"/><circle cx="124.41" cy="433.92" r="2.25"/><circle cx="114.01" cy="436.18" r="2.25"/><circle cx="119.66" cy="432.01" r="2.25"/><circle cx="129.53" cy="480.62" r="2.25"/><circle cx="123.05" cy="433.05" r="2.25"/><circle cx="103.97" cy="484.7" r="2.25"/><circle cx="107.59" cy="485.71" r="2.25"/><circle cx="107.22" cy="482.63" r="2.25"/><circle cx="134.62" cy="433.36" r="2.25"/><circle cx="109.44" cy="492.23" r="2.25"/><circle cx="123.22" cy="453.35" r="2.25"/><circle cx="123.42" cy="486.2" r="2.25"/><circle cx="114.48" cy="450.79" r="2.25"/><circle cx="115.6" cy="433.17" r="2.25"/><circle cx="133.93" cy="481.4" r="2.25"/><circle cx="118.26" cy="467.15" r="2.25"/><circle cx="107.4" cy="453.29" r="2.25"/><circle cx="138.7" cy="485.43" r="2.25"/><circle cx="137.4" cy="464.23" r="2.25"/><circle cx="135.39" cy="489.57" r="2.25"/><circle cx="100.06" cy="441" r="2.25"/><circle cx="131.87" cy="446.07" r="2.25"/><circle cx="124.37" cy="471.6" r="2.25"/><circle cx="105.14" cy="483.72" r="2.25"/><circle cx="136.31" cy="479.68" r="2.25"/><circle cx="130.91" cy="454.11" r="2.25"/><circle cx="102.17" cy="437.05" r="2.25"/><circle cx="107.99" cy="441.71" r="2.25"/><circle cx="125.23" cy="477.15" r="2.25"/><circle cx="111.42" cy="489.5" r="2.25"/><circle cx="128.83" cy="437.04" r="2.25"/><circle cx="136.07" cy="444.4" r="2.25"/><circle cx="112.8" cy="444.18" r="2.25"/><circle cx="141.59" cy="471.83" r="2.25"/><circle cx="136.72" cy="439.5" r="2.25"/><circle cx="132.84" cy="459.11" r="2.25"/><circle cx="132.79" cy="447.28" r="2.25"/><circle cx="137.37" cy="454.25" r="2.25"/><circle cx="116.07" cy="445.31" r="2.25"/><circle cx="110.01" cy="459.75" r="2.25"/><circle cx="116.28" cy="456.3" r="2.25"/><circle cx="127.42" cy="456.46" r="2.25"/><circle cx="123.77" cy="464.64" r="2.25"/><circle cx="115.95" cy="486.95" r="2.25"/><circle cx="110.25" cy="470.38" r="2.25"/><circle cx="121.17" cy="444.31" r="2.25"/><circle cx="110.46" cy="471.69" r="2.25"/><circle cx="123.94" cy="457.74" r="2.25"/><circle cx="103.69" cy="474.46" r="2.25"/><circle cx="138.07" cy="435.03" r="2.25"/><circle cx="120.42" cy="438.56" r="2.25"/><circle cx="113.63" cy="490.37" r="2.25"/><circle cx="119.1" cy="483.46" r="2.25"/><circle cx="140.57" cy="484.75" r="2.25"/><circle cx="126.37" cy="476.3" r="2.25"/><circle cx="110.04" cy="443.73" r="2.25"/><circle cx="133.43" cy="433.01" r="2.25"/><circle cx="102.07" cy="487.46" r="2.25"/><circle cx="135.03" cy="477.76" r="2.25"/><circle cx="127.61" cy="444.52" r="2.25"/><circle cx="104.99" cy="473.81" r="2.25"/><circle cx="116.8" cy="488.09" r="2.25"/><circle cx="124.26" cy="452.27" r="2.25"/><circle cx="117.09" cy="473.11" r="2.25"/><circle cx="101.7" cy="477.22" r="2.25"/><circle cx="110.54" cy="464.77" r="2.25"/><circle cx="102.54" cy="467.7" r="2.25"/><circle cx="116.96" cy="484.88" r="2.25"/><circle cx="120.49" cy="491.7" r="2.25"/><circle cx="104.95" cy="445.59" r="2.25"/><circle cx="115.97" cy="484.95" r="2.25"/><circle cx="103.77" cy="452.04" r="2.25"/><circle cx="140.93" cy="480.3" r="2.25"/><circle cx="130.43" cy="467.63" r="2.25"/><circle cx="140.6" cy="484.61" r="2.25"/><circle cx="135.55" cy="440.96" r="2.25"/><circle cx="128.72" cy="459.22" r="2.25"/><circle cx="125.87" cy="460.63" r="2.25"/><circle cx="106.95" cy="466.17" r="2.25"/><circle cx="124.77" cy="460.5" r="2.25"/><circle cx="116.84" cy="442.37" r="2.25"/><circle cx="134.28" cy="454.61" r="2.25"/><circle cx="123.07" cy="449.48" r="2.25"/><circle cx="128.27" cy="437.09" r="2.25"/><circle cx="128.95" cy="455.45" r="2.25"/><circle cx="114.81" cy="469.36" r="2.25"/><circle cx="106.2" cy="437.68" r="2.25"/><circle cx="111.87" cy="434.59" r="2.25"/><circle cx="102.58" cy="463.77" r="2.25"/><circle cx="132.57" cy="466.01" r="2.25"/><circle cx="123.72" cy="492.26" r="2.25"/><circle cx="114.67" cy="466.32" r="2.25"/><circle cx="129.43" cy="466.21" r="2.25"/><circle cx="116.3" cy="445.93" r="2.25"/><circle cx="106.48" cy="486.04" r="2.25"/><circle cx="139.36" cy="458.41" r="2.25"/><circle cx="123.78" cy="471.59" r="2.25"/><circle cx="125.6" cy="441.68" r="2.25"/><circle cx="100.25" cy="478.38" r="2.25"/><circle cx="109.1" cy="479.24" r="2.25"/><circle cx="111.76" cy="438.63" r="2.25"/><circle cx="111.23" cy="475.86" r="2.25"/><circle cx="139.95" cy="485.33" r="2.25"/><circle cx="120.73" cy="478.07" r="2.25"/><circle cx="102.93" cy="456.15" r="2.25"/><circle cx="112.29" cy="435.27" r="2.25"/><circle cx="120.59" cy="474.6" r="2.25"/><circle cx="114.49" cy="464.27" r="2.25"/><circle cx="137.74" cy="478.92" r="2.25"/><circle cx="110.7" cy="462.97" r="2.25"/><circle cx="108.73" cy="455.6" r="2.25"/><circle cx="100.06" cy="490.01" r="2.25"/><circle cx="100.21" cy="483.88" r="2.25"/><circle cx="120.48" cy="440.38" r="2.25"/><circle cx="131.79" cy="443.7" r="2.25"/><circle cx="140.75" cy="478.89" r="2.25"/><circle cx="138.14" cy="463.12" r="2.25"/><circle cx="109.2" cy="460.5" r="2.25"/><circle cx="140.64" cy="479.75" r="2.25"/><circle cx="114.32" cy="468.52" r="2.25"/><circle cx="104.65" cy="483.22" r="2.25"/><circle cx="130.01" cy="444.57" r="2.25"/><circle cx="135.53" cy="460.96" r="2.25"/><circle cx="112.92" cy="436.52" r="2.25"/><circle cx="122.96" cy="468.74" r="2.25"/><circle cx="123.1" cy="455.35" r="2.25"/><circle cx="135.62" cy="473.32" r="2.25"/><circle cx="140.85" cy="455.63" r="2.25"/><circle cx="138.57" cy="437.48" r="2.25"/><circle cx="133.26" cy="451.12" r="2.25"/><circle cx="110.46" cy="483.67" r="2.25"/><circle cx="122.35" cy="467.87" r="2.25"/><circle cx="108.11" cy="453.87" r="2.25"/><circle cx="135.71" cy="435.6" r="2.25"/><circle cx="128.47" cy="492.97" r="2.25"/><circle cx="134.67" cy="446.67" r="2.25"/><circle cx="124.71" cy="432.71" r="2.25"/><circle cx="134.58" cy="445.29" r="2.25"/><circle cx="124.79" cy="458.62" r="2.25"/><circle cx="137.1" cy="453.11" r="2.25"/><circle cx="106.5" cy="476.05" r="2.25"/><circle cx="124.64" cy="477.61" r="2.25"/><circle cx="132.94" cy="451.66" r="2.25"/><circle cx="105.24" cy="493.52" r="2.25"/><circle cx="140.07" cy="486.43" r="2.25"/><circle cx="138.18" cy="471.11" r="2.25"/><circle cx="120.64" cy="454.21" r="2.25"/><circle cx="127.01" cy="488.71" r="2.25"/></g>
<path d="M97.9 460H143.9" stroke="#000" stroke-width="1.8"/>
<path d="M190.5 386.5V528.6M178.9 386.5H202.1M178.9 528.6H202.1" stroke="#454545" stroke-width="1.15" fill="none"/>
<g fill="#000"><circle cx="190.5" cy="386.5" r="2.25"/><circle cx="190.5" cy="398.9" r="2.25"/><circle cx="190.5" cy="433" r="2.25"/><circle cx="190.5" cy="440" r="2.25"/><circle cx="171.8" cy="440.5" r="2.25"/><circle cx="181" cy="437.9" r="2.25"/><circle cx="185.8" cy="441.7" r="2.25"/><circle cx="204.3" cy="442" r="2.25"/><circle cx="176.5" cy="444.4" r="2.25"/><circle cx="194.9" cy="444.8" r="2.25"/><circle cx="200" cy="446.2" r="2.25"/><circle cx="208.7" cy="446.4" r="2.25"/><circle cx="171.8" cy="447.6" r="2.25"/><circle cx="181" cy="448.8" r="2.25"/><circle cx="185.8" cy="450.9" r="2.25"/><circle cx="170" cy="455.7" r="2.25"/><circle cx="176.5" cy="454.2" r="2.25"/><circle cx="184.8" cy="454.5" r="2.25"/><circle cx="190.5" cy="455.1" r="2.25"/><circle cx="195.2" cy="453" r="2.25"/><circle cx="204.3" cy="452.7" r="2.25"/><circle cx="206.7" cy="455.7" r="2.25"/><circle cx="200.8" cy="456.8" r="2.25"/><circle cx="195.5" cy="458" r="2.25"/><circle cx="211.4" cy="459.4" r="2.25"/><circle cx="174.2" cy="459" r="2.25"/><circle cx="179.5" cy="457.4" r="2.25"/><circle cx="190.5" cy="528.6" r="2.25"/><circle cx="181" cy="513.6" r="2.25"/><circle cx="190.5" cy="510" r="2.25"/><circle cx="199.6" cy="510.9" r="2.25"/><circle cx="171.8" cy="496.1" r="2.25"/><circle cx="208.7" cy="496.1" r="2.25"/><circle cx="190.5" cy="492.8" r="2.25"/><circle cx="185.8" cy="490.2" r="2.25"/><circle cx="199.6" cy="491.6" r="2.25"/><circle cx="204.3" cy="491.4" r="2.25"/><circle cx="176.5" cy="488.4" r="2.25"/><circle cx="194.3" cy="489" r="2.25"/><circle cx="190.5" cy="465.98" r="2.25"/><circle cx="195.1" cy="464.24" r="2.25"/><circle cx="185.9" cy="458.86" r="2.25"/><circle cx="190.5" cy="472.79" r="2.25"/><circle cx="195.1" cy="469.29" r="2.25"/><circle cx="185.9" cy="471.14" r="2.25"/><circle cx="199.7" cy="470.97" r="2.25"/><circle cx="185.9" cy="466.64" r="2.25"/><circle cx="195.1" cy="473.6" r="2.25"/><circle cx="190.5" cy="459.66" r="2.25"/><circle cx="181.3" cy="472.98" r="2.25"/><circle cx="204.3" cy="471.86" r="2.25"/><circle cx="199.7" cy="464.51" r="2.25"/><circle cx="190.5" cy="487.92" r="2.25"/><circle cx="190.5" cy="479.44" r="2.25"/><circle cx="181.3" cy="462.32" r="2.25"/><circle cx="195.1" cy="484.95" r="2.25"/><circle cx="185.9" cy="476.07" r="2.25"/><circle cx="185.9" cy="482.14" r="2.25"/><circle cx="199.7" cy="475.77" r="2.25"/><circle cx="181.3" cy="467.21" r="2.25"/><circle cx="176.7" cy="473.22" r="2.25"/><circle cx="204.3" cy="460.33" r="2.25"/><circle cx="199.7" cy="485.1" r="2.25"/><circle cx="169.7" cy="461.48" r="2.25"/><circle cx="195.1" cy="478.17" r="2.25"/><circle cx="181.3" cy="485.5" r="2.25"/><circle cx="176.7" cy="468.34" r="2.25"/><circle cx="208.9" cy="473.95" r="2.25"/><circle cx="204.3" cy="476.45" r="2.25"/><circle cx="176.7" cy="462.06" r="2.25"/><circle cx="188.99" cy="461.32" r="2.25"/><circle cx="185.9" cy="486.2" r="2.25"/><circle cx="199.7" cy="481.06" r="2.25"/><circle cx="181.3" cy="479.79" r="2.25"/><circle cx="208.9" cy="463.58" r="2.25"/><circle cx="195.71" cy="461.46" r="2.25"/><circle cx="204.3" cy="482.81" r="2.25"/><circle cx="204.3" cy="487.26" r="2.25"/><circle cx="176.7" cy="478.05" r="2.25"/><circle cx="172.1" cy="470.73" r="2.25"/><circle cx="185.43" cy="459.95" r="2.25"/><circle cx="204.3" cy="465.88" r="2.25"/><circle cx="205.63" cy="459.97" r="2.25"/><circle cx="174.23" cy="459.76" r="2.25"/><circle cx="208.9" cy="485.49" r="2.25"/><circle cx="172.1" cy="477.07" r="2.25"/><circle cx="190.5" cy="483.75" r="2.25"/><circle cx="186.89" cy="475.12" r="2.25"/><circle cx="172.1" cy="485.68" r="2.25"/><circle cx="172.1" cy="465.55" r="2.25"/><circle cx="185.54" cy="458.73" r="2.25"/><circle cx="208.9" cy="469.19" r="2.25"/><circle cx="208.9" cy="478.27" r="2.25"/><circle cx="196.47" cy="465.94" r="2.25"/><circle cx="201.93" cy="485.22" r="2.25"/><circle cx="191.61" cy="474.86" r="2.25"/><circle cx="181.79" cy="487.52" r="2.25"/><circle cx="169.7" cy="473.95" r="2.25"/><circle cx="191.51" cy="485.48" r="2.25"/><circle cx="197.7" cy="462.34" r="2.25"/><circle cx="203.95" cy="463.9" r="2.25"/><circle cx="169.9" cy="463.78" r="2.25"/><circle cx="190.36" cy="459.52" r="2.25"/><circle cx="190.81" cy="476.86" r="2.25"/><circle cx="176.77" cy="460" r="2.25"/><circle cx="179.57" cy="458.84" r="2.25"/><circle cx="186.74" cy="461.39" r="2.25"/><circle cx="209.89" cy="485.43" r="2.25"/><circle cx="185.96" cy="465.46" r="2.25"/><circle cx="199.61" cy="478.64" r="2.25"/><circle cx="172.1" cy="480.98" r="2.25"/><circle cx="204" cy="474.5" r="2.25"/><circle cx="175.34" cy="475.16" r="2.25"/><circle cx="176.7" cy="482.2" r="2.25"/><circle cx="199.77" cy="468.38" r="2.25"/><circle cx="183.09" cy="479.63" r="2.25"/><circle cx="206.22" cy="461.99" r="2.25"/><circle cx="198.69" cy="482.2" r="2.25"/><circle cx="210.44" cy="471.9" r="2.25"/><circle cx="173.79" cy="459.92" r="2.25"/><circle cx="172.82" cy="460.64" r="2.25"/><circle cx="206.38" cy="479.95" r="2.25"/><circle cx="204.17" cy="464.95" r="2.25"/><circle cx="177.12" cy="474.18" r="2.25"/><circle cx="208.13" cy="466.35" r="2.25"/><circle cx="192.29" cy="470.31" r="2.25"/><circle cx="171.57" cy="481.19" r="2.25"/><circle cx="183.66" cy="469.63" r="2.25"/><circle cx="182.63" cy="476.3" r="2.25"/><circle cx="208.77" cy="468.44" r="2.25"/><circle cx="192.46" cy="478.25" r="2.25"/><circle cx="177.28" cy="478.17" r="2.25"/><circle cx="207.47" cy="473.09" r="2.25"/><circle cx="180.44" cy="466.8" r="2.25"/><circle cx="198.14" cy="473.74" r="2.25"/><circle cx="208.49" cy="468.25" r="2.25"/><circle cx="172.28" cy="487.62" r="2.25"/><circle cx="174.58" cy="474.02" r="2.25"/><circle cx="182.65" cy="460.53" r="2.25"/><circle cx="183.62" cy="473.45" r="2.25"/><circle cx="207.22" cy="482.11" r="2.25"/><circle cx="205.23" cy="485.09" r="2.25"/><circle cx="211.28" cy="482.74" r="2.25"/><circle cx="189.6" cy="473.75" r="2.25"/><circle cx="200.27" cy="474.36" r="2.25"/><circle cx="198.22" cy="474.44" r="2.25"/><circle cx="184.12" cy="466.59" r="2.25"/><circle cx="202.5" cy="480.67" r="2.25"/><circle cx="201.75" cy="465.14" r="2.25"/><circle cx="198.2" cy="484.96" r="2.25"/><circle cx="169.76" cy="480.15" r="2.25"/><circle cx="171.46" cy="480" r="2.25"/><circle cx="177.48" cy="486.57" r="2.25"/><circle cx="180.73" cy="482.78" r="2.25"/><circle cx="194.49" cy="480.53" r="2.25"/><circle cx="170.45" cy="466" r="2.25"/><circle cx="188.09" cy="466.2" r="2.25"/><circle cx="188.24" cy="458.32" r="2.25"/><circle cx="207.57" cy="480.78" r="2.25"/><circle cx="197.58" cy="477.2" r="2.25"/><circle cx="183.34" cy="477.93" r="2.25"/><circle cx="171.87" cy="486.3" r="2.25"/><circle cx="183.35" cy="464.97" r="2.25"/><circle cx="181.65" cy="477.15" r="2.25"/><circle cx="187.69" cy="477.24" r="2.25"/><circle cx="189.37" cy="487.89" r="2.25"/><circle cx="175.69" cy="475.66" r="2.25"/><circle cx="199.95" cy="474.73" r="2.25"/><circle cx="205.44" cy="479.7" r="2.25"/></g>
<path d="M167.5 464H213.5" stroke="#000" stroke-width="1.8"/>
<path d="M128.4 356.6H191.1" stroke="#000" stroke-width="2"/>
<path d="M159.5 342.35L159.5 350.05M156.17 344.27L162.83 348.12M156.17 348.12L162.83 344.27" stroke="#000" stroke-width="2.0" stroke-linecap="round"/>
<g font-family='"Liberation Sans", sans-serif' font-weight="bold" stroke="#000" stroke-width="0.3">
<text x="452.3" y="330" font-size="14.4" text-anchor="middle">Cathepsin S</text>
<text transform="translate(310 456.6) rotate(-90)" font-size="12.4" text-anchor="middle" textLength="213.4" lengthAdjust="spacingAndGlyphs">Log<tspan font-size="8.6" dy="3.4">10</tspan><tspan dy="-3.4"> (Baseline Plasma Cathepsin S)</tspan></text>
<text x="361.6" y="354.3" font-size="11.8" text-anchor="end">100,000</text>
<text x="361.6" y="425.17" font-size="11.8" text-anchor="end">10,000</text>
<text x="361.6" y="496.03" font-size="11.8" text-anchor="end">1,000</text>
<text x="361.6" y="566.9" font-size="11.8" text-anchor="end">100</text>
<text x="417.1" y="582.6" font-size="11.5" text-anchor="middle">AAA</text>
<text x="486.6" y="582.6" font-size="11.5" text-anchor="middle">Control</text>
</g>
<path d="M371 349.5V562.9M364.7 562.9H533M364.7 350.3H371M364.7 421.17H371M364.7 492.03H371M417.1 562.9V569.1M486.6 562.9V569.1" stroke="#000" stroke-width="1.6" fill="none"/>
<path d="M417.3 400.9V495M405.7 400.9H428.9M405.7 495H428.9" stroke="#454545" stroke-width="1.15" fill="none"/>
<g fill="#000"><circle cx="417.3" cy="400.9" r="2.25"/><circle cx="417.3" cy="419" r="2.25"/><circle cx="417.3" cy="426.6" r="2.25"/><circle cx="416" cy="429" r="2.25"/><circle cx="396.2" cy="428.4" r="2.25"/><circle cx="400.4" cy="429.2" r="2.25"/><circle cx="405.7" cy="429.6" r="2.25"/><circle cx="409.8" cy="431.4" r="2.25"/><circle cx="425.2" cy="428.4" r="2.25"/><circle cx="428.7" cy="430.2" r="2.25"/><circle cx="432.3" cy="432" r="2.25"/><circle cx="438.2" cy="428.4" r="2.25"/><circle cx="434.6" cy="433.7" r="2.25"/><circle cx="417.3" cy="495" r="2.25"/><circle cx="403.3" cy="488.5" r="2.25"/><circle cx="421.9" cy="487.9" r="2.25"/><circle cx="431.1" cy="487.5" r="2.25"/><circle cx="396.2" cy="483.5" r="2.25"/><circle cx="412.2" cy="484.3" r="2.25"/><circle cx="410.1" cy="481.4" r="2.25"/><circle cx="417.3" cy="481.4" r="2.25"/><circle cx="424" cy="481.6" r="2.25"/><circle cx="431.1" cy="480.2" r="2.25"/><circle cx="438.2" cy="479.6" r="2.25"/><circle cx="396.2" cy="477.8" r="2.25"/><circle cx="402.7" cy="478.4" r="2.25"/><circle cx="406.9" cy="476.1" r="2.25"/><circle cx="422.2" cy="477.8" r="2.25"/><circle cx="427.6" cy="475.5" r="2.25"/><circle cx="432.9" cy="474.3" r="2.25"/><circle cx="438.2" cy="476.4" r="2.25"/><circle cx="412.2" cy="475.5" r="2.25"/><circle cx="417.3" cy="475.5" r="2.25"/><circle cx="417.3" cy="455.32" r="2.25"/><circle cx="421.9" cy="452.24" r="2.25"/><circle cx="412.7" cy="455.04" r="2.25"/><circle cx="417.3" cy="441.97" r="2.25"/><circle cx="417.3" cy="464.15" r="2.25"/><circle cx="421.9" cy="467.81" r="2.25"/><circle cx="417.3" cy="446.91" r="2.25"/><circle cx="412.7" cy="467.71" r="2.25"/><circle cx="426.5" cy="454.73" r="2.25"/><circle cx="417.3" cy="438.05" r="2.25"/><circle cx="408.1" cy="454.81" r="2.25"/><circle cx="421.9" cy="442.49" r="2.25"/><circle cx="412.7" cy="438.88" r="2.25"/><circle cx="421.9" cy="438.26" r="2.25"/><circle cx="426.5" cy="441.56" r="2.25"/><circle cx="421.9" cy="447.16" r="2.25"/><circle cx="412.7" cy="445.15" r="2.25"/><circle cx="426.5" cy="465.12" r="2.25"/><circle cx="417.3" cy="468.32" r="2.25"/><circle cx="421.9" cy="461.88" r="2.25"/><circle cx="426.5" cy="471.65" r="2.25"/><circle cx="431.1" cy="453.47" r="2.25"/><circle cx="412.7" cy="461.99" r="2.25"/><circle cx="403.5" cy="454.59" r="2.25"/><circle cx="408.1" cy="438.49" r="2.25"/><circle cx="408.1" cy="469.51" r="2.25"/><circle cx="417.3" cy="459.64" r="2.25"/><circle cx="421.9" cy="432.32" r="2.25"/><circle cx="408.1" cy="443.74" r="2.25"/><circle cx="421.9" cy="457.81" r="2.25"/><circle cx="426.5" cy="435.95" r="2.25"/><circle cx="431.1" cy="443.99" r="2.25"/><circle cx="431.1" cy="465.86" r="2.25"/><circle cx="431.1" cy="470.29" r="2.25"/><circle cx="417.3" cy="433.35" r="2.25"/><circle cx="412.7" cy="450.2" r="2.25"/><circle cx="426.5" cy="446.29" r="2.25"/><circle cx="403.5" cy="465.63" r="2.25"/><circle cx="435.7" cy="467.25" r="2.25"/><circle cx="431.1" cy="436.65" r="2.25"/><circle cx="426.5" cy="450.36" r="2.25"/><circle cx="398.9" cy="465.78" r="2.25"/><circle cx="403.5" cy="470.73" r="2.25"/><circle cx="403.5" cy="435.27" r="2.25"/><circle cx="435.7" cy="437.6" r="2.25"/><circle cx="417.3" cy="451.2" r="2.25"/><circle cx="431.1" cy="457.79" r="2.25"/><circle cx="408.1" cy="449.4" r="2.25"/><circle cx="426.5" cy="460.34" r="2.25"/><circle cx="403.5" cy="449.93" r="2.25"/><circle cx="408.1" cy="464.87" r="2.25"/><circle cx="435.7" cy="454.02" r="2.25"/><circle cx="417.48" cy="468.14" r="2.25"/><circle cx="398.9" cy="470.05" r="2.25"/><circle cx="419.04" cy="466.97" r="2.25"/><circle cx="403.5" cy="442.95" r="2.25"/><circle cx="435.7" cy="443.55" r="2.25"/><circle cx="431.1" cy="449.2" r="2.25"/><circle cx="398.9" cy="439.55" r="2.25"/><circle cx="415.86" cy="468.87" r="2.25"/><circle cx="398.9" cy="451.31" r="2.25"/><circle cx="423" cy="464.79" r="2.25"/><circle cx="419.86" cy="468.67" r="2.25"/><circle cx="435.7" cy="463.22" r="2.25"/><circle cx="402.62" cy="437.02" r="2.25"/><circle cx="412.7" cy="434.02" r="2.25"/><circle cx="396.4" cy="435.74" r="2.25"/><circle cx="398.9" cy="444.08" r="2.25"/><circle cx="400.57" cy="452.57" r="2.25"/><circle cx="438.2" cy="450.4" r="2.25"/><circle cx="410.28" cy="449.61" r="2.25"/><circle cx="425.9" cy="432.31" r="2.25"/><circle cx="429.8" cy="434.61" r="2.25"/><circle cx="418.29" cy="445.83" r="2.25"/><circle cx="432.35" cy="439.1" r="2.25"/><circle cx="438.2" cy="470.5" r="2.25"/><circle cx="424.08" cy="469.03" r="2.25"/><circle cx="430.37" cy="471.88" r="2.25"/><circle cx="422.77" cy="470.37" r="2.25"/><circle cx="433.33" cy="443.99" r="2.25"/><circle cx="409.6" cy="440.91" r="2.25"/><circle cx="396.4" cy="454.44" r="2.25"/><circle cx="406.69" cy="446.56" r="2.25"/><circle cx="422.87" cy="463.09" r="2.25"/><circle cx="423.12" cy="464.37" r="2.25"/><circle cx="419.43" cy="455.37" r="2.25"/><circle cx="406.68" cy="449.24" r="2.25"/><circle cx="427.74" cy="456.24" r="2.25"/><circle cx="423.75" cy="451.28" r="2.25"/><circle cx="408.1" cy="460.38" r="2.25"/><circle cx="415.64" cy="437.41" r="2.25"/><circle cx="419.64" cy="453.19" r="2.25"/><circle cx="408.7" cy="441.12" r="2.25"/><circle cx="412.66" cy="466.84" r="2.25"/><circle cx="436.8" cy="444.13" r="2.25"/><circle cx="402.31" cy="456.42" r="2.25"/><circle cx="416.97" cy="469.33" r="2.25"/><circle cx="421.85" cy="435.81" r="2.25"/><circle cx="417.32" cy="443.4" r="2.25"/><circle cx="398.9" cy="459.43" r="2.25"/><circle cx="415.53" cy="454.28" r="2.25"/><circle cx="400.57" cy="446.47" r="2.25"/><circle cx="429.76" cy="434.38" r="2.25"/><circle cx="399.08" cy="441.67" r="2.25"/><circle cx="435.7" cy="458.41" r="2.25"/><circle cx="411.57" cy="472.58" r="2.25"/><circle cx="413.03" cy="448.34" r="2.25"/><circle cx="403.51" cy="438.37" r="2.25"/><circle cx="433.59" cy="462.06" r="2.25"/><circle cx="403.5" cy="461.11" r="2.25"/><circle cx="430.93" cy="472.09" r="2.25"/><circle cx="397.36" cy="433.95" r="2.25"/><circle cx="398" cy="435.75" r="2.25"/><circle cx="398.89" cy="463.25" r="2.25"/><circle cx="406.16" cy="459.25" r="2.25"/><circle cx="403.68" cy="471.44" r="2.25"/><circle cx="416.15" cy="462.94" r="2.25"/><circle cx="401.71" cy="434.15" r="2.25"/><circle cx="398.14" cy="434.03" r="2.25"/><circle cx="438.19" cy="471.52" r="2.25"/><circle cx="433.49" cy="466.89" r="2.25"/><circle cx="399.61" cy="472.85" r="2.25"/><circle cx="410.77" cy="454" r="2.25"/><circle cx="404.84" cy="455.59" r="2.25"/><circle cx="402.43" cy="471.52" r="2.25"/><circle cx="419.64" cy="438.56" r="2.25"/><circle cx="414.59" cy="436.95" r="2.25"/><circle cx="409.55" cy="442.9" r="2.25"/><circle cx="417.06" cy="472" r="2.25"/><circle cx="416.51" cy="460.73" r="2.25"/><circle cx="398.16" cy="433.24" r="2.25"/><circle cx="399.7" cy="461.4" r="2.25"/><circle cx="413.83" cy="469.33" r="2.25"/><circle cx="425.94" cy="454.32" r="2.25"/><circle cx="430.25" cy="432.52" r="2.25"/><circle cx="413.16" cy="464.27" r="2.25"/><circle cx="397.08" cy="467.16" r="2.25"/><circle cx="432.51" cy="471.17" r="2.25"/><circle cx="397.62" cy="450.14" r="2.25"/><circle cx="407.66" cy="432.16" r="2.25"/><circle cx="421.03" cy="449.02" r="2.25"/><circle cx="416.62" cy="459.12" r="2.25"/><circle cx="407.45" cy="442.06" r="2.25"/><circle cx="421.99" cy="468.61" r="2.25"/><circle cx="403.42" cy="457.89" r="2.25"/><circle cx="428.21" cy="439.46" r="2.25"/><circle cx="397.82" cy="457.16" r="2.25"/><circle cx="397.84" cy="443.82" r="2.25"/><circle cx="409.91" cy="468" r="2.25"/><circle cx="429.74" cy="453.6" r="2.25"/><circle cx="432.02" cy="446.09" r="2.25"/><circle cx="434.75" cy="440.97" r="2.25"/><circle cx="413.5" cy="432.37" r="2.25"/><circle cx="434.69" cy="436.85" r="2.25"/><circle cx="412.33" cy="472.24" r="2.25"/><circle cx="417.9" cy="445.98" r="2.25"/><circle cx="404.66" cy="441.53" r="2.25"/><circle cx="422.76" cy="459.6" r="2.25"/><circle cx="407.39" cy="437.31" r="2.25"/><circle cx="433.11" cy="438.63" r="2.25"/><circle cx="409.85" cy="462.29" r="2.25"/><circle cx="434.6" cy="448.99" r="2.25"/><circle cx="419.58" cy="438.3" r="2.25"/><circle cx="412.26" cy="471.91" r="2.25"/><circle cx="423.65" cy="472.3" r="2.25"/><circle cx="406.11" cy="467" r="2.25"/><circle cx="416.87" cy="451.6" r="2.25"/><circle cx="415.09" cy="453.63" r="2.25"/><circle cx="406.76" cy="446.54" r="2.25"/><circle cx="397.65" cy="460.46" r="2.25"/><circle cx="402" cy="472.42" r="2.25"/><circle cx="429.88" cy="447.14" r="2.25"/><circle cx="397.15" cy="441.6" r="2.25"/><circle cx="410.37" cy="453.86" r="2.25"/><circle cx="405.04" cy="439.66" r="2.25"/><circle cx="400.29" cy="460.61" r="2.25"/><circle cx="417.62" cy="448.94" r="2.25"/><circle cx="433.19" cy="437.08" r="2.25"/><circle cx="414.59" cy="458.07" r="2.25"/><circle cx="436.1" cy="465.27" r="2.25"/><circle cx="407.37" cy="459.9" r="2.25"/><circle cx="430.06" cy="432.52" r="2.25"/><circle cx="397.23" cy="449.43" r="2.25"/><circle cx="403.71" cy="469.18" r="2.25"/><circle cx="427.32" cy="447.08" r="2.25"/><circle cx="398.2" cy="442.86" r="2.25"/><circle cx="416.52" cy="439.37" r="2.25"/><circle cx="416.64" cy="472.34" r="2.25"/><circle cx="430.02" cy="462.6" r="2.25"/><circle cx="422.82" cy="460.89" r="2.25"/><circle cx="427.54" cy="446.11" r="2.25"/><circle cx="399.23" cy="434.48" r="2.25"/><circle cx="403.28" cy="463.42" r="2.25"/><circle cx="420.56" cy="441.07" r="2.25"/><circle cx="417.95" cy="440.04" r="2.25"/><circle cx="434.62" cy="470.99" r="2.25"/><circle cx="435.87" cy="444.89" r="2.25"/><circle cx="430.79" cy="439.13" r="2.25"/><circle cx="429.18" cy="462.43" r="2.25"/><circle cx="407.62" cy="465.61" r="2.25"/><circle cx="420.6" cy="455.55" r="2.25"/><circle cx="417.6" cy="461.39" r="2.25"/><circle cx="424.49" cy="440.92" r="2.25"/><circle cx="408.08" cy="457.28" r="2.25"/><circle cx="414.68" cy="433.05" r="2.25"/><circle cx="406.31" cy="466.31" r="2.25"/><circle cx="427.97" cy="457.4" r="2.25"/><circle cx="397.4" cy="456.03" r="2.25"/><circle cx="430.81" cy="458.34" r="2.25"/><circle cx="431.33" cy="440.68" r="2.25"/><circle cx="400.9" cy="435.03" r="2.25"/><circle cx="431.53" cy="461.34" r="2.25"/><circle cx="403.85" cy="465.3" r="2.25"/><circle cx="423.79" cy="445.16" r="2.25"/><circle cx="399" cy="466.14" r="2.25"/><circle cx="408.17" cy="443.44" r="2.25"/><circle cx="420.41" cy="452.5" r="2.25"/><circle cx="436.17" cy="455.02" r="2.25"/><circle cx="422.87" cy="469.81" r="2.25"/><circle cx="404.08" cy="461.12" r="2.25"/><circle cx="398.41" cy="441.68" r="2.25"/><circle cx="430.16" cy="443.37" r="2.25"/><circle cx="407.3" cy="463.8" r="2.25"/><circle cx="415.4" cy="442.32" r="2.25"/><circle cx="426.02" cy="449.74" r="2.25"/><circle cx="425.41" cy="455.87" r="2.25"/><circle cx="404.41" cy="439.1" r="2.25"/><circle cx="417.74" cy="472.27" r="2.25"/><circle cx="437.14" cy="440.93" r="2.25"/><circle cx="410.21" cy="460.87" r="2.25"/><circle cx="421.01" cy="440.96" r="2.25"/><circle cx="414.05" cy="436.54" r="2.25"/><circle cx="397.49" cy="443.47" r="2.25"/><circle cx="435.59" cy="472.31" r="2.25"/><circle cx="411.58" cy="433.06" r="2.25"/><circle cx="437.66" cy="447.25" r="2.25"/><circle cx="416.48" cy="470.5" r="2.25"/><circle cx="418.84" cy="454.54" r="2.25"/><circle cx="408.83" cy="442.25" r="2.25"/><circle cx="398.85" cy="471.58" r="2.25"/><circle cx="428.85" cy="458.22" r="2.25"/><circle cx="407.28" cy="432.75" r="2.25"/><circle cx="430.7" cy="434.81" r="2.25"/><circle cx="422.87" cy="447.61" r="2.25"/><circle cx="434.37" cy="467.93" r="2.25"/><circle cx="410.65" cy="432.09" r="2.25"/><circle cx="410.55" cy="468.3" r="2.25"/><circle cx="424.38" cy="446.1" r="2.25"/><circle cx="417.91" cy="469.17" r="2.25"/><circle cx="435.63" cy="451.18" r="2.25"/><circle cx="413.57" cy="434.12" r="2.25"/><circle cx="430.25" cy="448.38" r="2.25"/><circle cx="407.03" cy="467.01" r="2.25"/><circle cx="408.5" cy="439.5" r="2.25"/><circle cx="420.98" cy="449.39" r="2.25"/><circle cx="419.88" cy="443" r="2.25"/><circle cx="406.83" cy="468.74" r="2.25"/><circle cx="398.88" cy="433.02" r="2.25"/><circle cx="398.96" cy="460.92" r="2.25"/><circle cx="411.37" cy="435.81" r="2.25"/><circle cx="411.17" cy="443.17" r="2.25"/><circle cx="414.44" cy="468.61" r="2.25"/><circle cx="415.66" cy="472.06" r="2.25"/><circle cx="410.38" cy="469.48" r="2.25"/><circle cx="404.6" cy="442.24" r="2.25"/><circle cx="406.07" cy="454.02" r="2.25"/><circle cx="417.23" cy="445.15" r="2.25"/><circle cx="436.04" cy="472.23" r="2.25"/><circle cx="435.91" cy="452.92" r="2.25"/><circle cx="434.46" cy="446.89" r="2.25"/><circle cx="408.8" cy="456.14" r="2.25"/><circle cx="409.81" cy="456.23" r="2.25"/><circle cx="406.47" cy="461.14" r="2.25"/><circle cx="432.46" cy="441.89" r="2.25"/><circle cx="426.46" cy="461.29" r="2.25"/><circle cx="435.91" cy="439.58" r="2.25"/><circle cx="402.27" cy="440.02" r="2.25"/><circle cx="397.36" cy="466.42" r="2.25"/><circle cx="413.11" cy="435.73" r="2.25"/><circle cx="399.66" cy="445.34" r="2.25"/><circle cx="416.18" cy="445.17" r="2.25"/><circle cx="421.28" cy="441.78" r="2.25"/><circle cx="437.81" cy="459.22" r="2.25"/><circle cx="415.17" cy="459.59" r="2.25"/><circle cx="427.41" cy="452.55" r="2.25"/><circle cx="427.61" cy="448.31" r="2.25"/><circle cx="424.78" cy="439.85" r="2.25"/><circle cx="419.38" cy="433.6" r="2.25"/><circle cx="423.5" cy="459.9" r="2.25"/><circle cx="431.74" cy="459.79" r="2.25"/><circle cx="405.12" cy="463.57" r="2.25"/><circle cx="397.83" cy="469.61" r="2.25"/><circle cx="426.42" cy="435.89" r="2.25"/><circle cx="402.68" cy="470.42" r="2.25"/><circle cx="427.88" cy="458.06" r="2.25"/><circle cx="414.07" cy="437.65" r="2.25"/><circle cx="435.7" cy="449.4" r="2.25"/><circle cx="423.92" cy="440.72" r="2.25"/><circle cx="409.85" cy="433.06" r="2.25"/><circle cx="402.58" cy="466" r="2.25"/><circle cx="398.2" cy="462.02" r="2.25"/><circle cx="399.81" cy="472.63" r="2.25"/><circle cx="414.72" cy="441.87" r="2.25"/><circle cx="426.37" cy="469.37" r="2.25"/><circle cx="437.91" cy="446.75" r="2.25"/><circle cx="427.28" cy="442.4" r="2.25"/><circle cx="418.49" cy="441.94" r="2.25"/><circle cx="420.65" cy="449.23" r="2.25"/><circle cx="420.81" cy="433.02" r="2.25"/><circle cx="398.84" cy="441.87" r="2.25"/><circle cx="420.94" cy="470.26" r="2.25"/><circle cx="399.22" cy="468.13" r="2.25"/><circle cx="403.12" cy="460.95" r="2.25"/><circle cx="433.56" cy="463.01" r="2.25"/><circle cx="409.1" cy="442.92" r="2.25"/><circle cx="424.26" cy="435.08" r="2.25"/><circle cx="409.85" cy="472.81" r="2.25"/><circle cx="404.88" cy="451.51" r="2.25"/><circle cx="414.39" cy="450.02" r="2.25"/><circle cx="420.44" cy="451.79" r="2.25"/><circle cx="434.94" cy="452.62" r="2.25"/><circle cx="420.42" cy="467.93" r="2.25"/><circle cx="402.51" cy="454.02" r="2.25"/><circle cx="396.45" cy="453.54" r="2.25"/><circle cx="418.08" cy="444.19" r="2.25"/><circle cx="400.29" cy="470.82" r="2.25"/><circle cx="410.13" cy="453.04" r="2.25"/><circle cx="399.83" cy="467.89" r="2.25"/><circle cx="398.68" cy="460.39" r="2.25"/><circle cx="428.9" cy="465.5" r="2.25"/><circle cx="419.17" cy="448.99" r="2.25"/><circle cx="413.65" cy="456.68" r="2.25"/><circle cx="423.22" cy="434.87" r="2.25"/><circle cx="431.9" cy="465.42" r="2.25"/><circle cx="397.25" cy="435.03" r="2.25"/><circle cx="435.05" cy="440.46" r="2.25"/><circle cx="427.38" cy="451.36" r="2.25"/><circle cx="422.28" cy="443.74" r="2.25"/><circle cx="421.78" cy="465.81" r="2.25"/><circle cx="431.41" cy="460.38" r="2.25"/><circle cx="421.64" cy="432.57" r="2.25"/><circle cx="431.98" cy="451.59" r="2.25"/><circle cx="410.99" cy="461.07" r="2.25"/><circle cx="404.08" cy="470.57" r="2.25"/><circle cx="422.15" cy="461.83" r="2.25"/><circle cx="427.14" cy="460.34" r="2.25"/><circle cx="436.41" cy="443.12" r="2.25"/><circle cx="432.04" cy="456.44" r="2.25"/><circle cx="421.76" cy="445.65" r="2.25"/><circle cx="430.62" cy="460.68" r="2.25"/><circle cx="426.48" cy="443.38" r="2.25"/><circle cx="421.46" cy="445.36" r="2.25"/><circle cx="425.96" cy="443.89" r="2.25"/><circle cx="402.22" cy="461.67" r="2.25"/><circle cx="410.41" cy="441.69" r="2.25"/><circle cx="420.64" cy="472.36" r="2.25"/><circle cx="405.71" cy="437.16" r="2.25"/><circle cx="408.13" cy="463.1" r="2.25"/><circle cx="398.39" cy="470.13" r="2.25"/><circle cx="396.65" cy="439.68" r="2.25"/><circle cx="437.8" cy="436.62" r="2.25"/><circle cx="398.72" cy="448.76" r="2.25"/><circle cx="401.42" cy="440.88" r="2.25"/><circle cx="424.11" cy="457.5" r="2.25"/><circle cx="419.88" cy="472" r="2.25"/><circle cx="401.71" cy="451.36" r="2.25"/><circle cx="419.16" cy="453.85" r="2.25"/><circle cx="423.03" cy="434.77" r="2.25"/><circle cx="400.03" cy="439.25" r="2.25"/><circle cx="428.03" cy="449.52" r="2.25"/><circle cx="404.14" cy="450.11" r="2.25"/><circle cx="400.85" cy="449.47" r="2.25"/><circle cx="430.69" cy="451.22" r="2.25"/><circle cx="414.9" cy="458.97" r="2.25"/><circle cx="401.6" cy="437.52" r="2.25"/><circle cx="425.01" cy="452.24" r="2.25"/><circle cx="405.25" cy="446.97" r="2.25"/><circle cx="418.66" cy="442.73" r="2.25"/><circle cx="400.65" cy="460.21" r="2.25"/><circle cx="425.33" cy="443.61" r="2.25"/><circle cx="423.01" cy="459.91" r="2.25"/><circle cx="410.18" cy="470.76" r="2.25"/><circle cx="399.87" cy="434.69" r="2.25"/><circle cx="424.5" cy="465.45" r="2.25"/><circle cx="408.88" cy="460.71" r="2.25"/><circle cx="432.3" cy="444.81" r="2.25"/><circle cx="435.93" cy="449.36" r="2.25"/><circle cx="399.42" cy="442.76" r="2.25"/><circle cx="399.09" cy="435.42" r="2.25"/><circle cx="398.04" cy="460.15" r="2.25"/><circle cx="396.91" cy="448.28" r="2.25"/><circle cx="396.9" cy="461.89" r="2.25"/><circle cx="436.88" cy="468.29" r="2.25"/><circle cx="408.7" cy="455.28" r="2.25"/><circle cx="427.86" cy="457.51" r="2.25"/><circle cx="422.86" cy="451.92" r="2.25"/><circle cx="425.98" cy="442.97" r="2.25"/><circle cx="409.94" cy="442.53" r="2.25"/><circle cx="409.83" cy="469.21" r="2.25"/><circle cx="404.95" cy="460.99" r="2.25"/><circle cx="397.7" cy="433.25" r="2.25"/><circle cx="419.33" cy="457.56" r="2.25"/><circle cx="402.56" cy="467.13" r="2.25"/><circle cx="422.63" cy="465.06" r="2.25"/><circle cx="405.06" cy="468.64" r="2.25"/><circle cx="404.69" cy="470.59" r="2.25"/><circle cx="408.25" cy="448.92" r="2.25"/><circle cx="400.94" cy="442.78" r="2.25"/><circle cx="414.77" cy="448.56" r="2.25"/><circle cx="430.22" cy="458.45" r="2.25"/><circle cx="400.23" cy="458.41" r="2.25"/><circle cx="424.39" cy="434.49" r="2.25"/><circle cx="397.95" cy="464.65" r="2.25"/><circle cx="406.58" cy="469.97" r="2.25"/><circle cx="408.21" cy="445.44" r="2.25"/><circle cx="411.17" cy="466.06" r="2.25"/><circle cx="428.63" cy="435.61" r="2.25"/><circle cx="397.46" cy="444.73" r="2.25"/><circle cx="414.72" cy="439.55" r="2.25"/><circle cx="412.45" cy="466.48" r="2.25"/><circle cx="407.93" cy="447.62" r="2.25"/><circle cx="402.94" cy="455.61" r="2.25"/><circle cx="405.76" cy="465.45" r="2.25"/><circle cx="420.09" cy="442.99" r="2.25"/><circle cx="432.01" cy="468.51" r="2.25"/><circle cx="434.24" cy="437.48" r="2.25"/><circle cx="412.01" cy="461.37" r="2.25"/><circle cx="398.69" cy="435.49" r="2.25"/><circle cx="408.51" cy="433.78" r="2.25"/><circle cx="426.29" cy="453.23" r="2.25"/><circle cx="411.47" cy="438.42" r="2.25"/><circle cx="413.55" cy="459.74" r="2.25"/><circle cx="404.73" cy="439.21" r="2.25"/><circle cx="432.64" cy="457.53" r="2.25"/><circle cx="423.76" cy="443.86" r="2.25"/><circle cx="415.14" cy="449.16" r="2.25"/><circle cx="416.47" cy="471.11" r="2.25"/><circle cx="398.81" cy="467.86" r="2.25"/><circle cx="415.52" cy="464.76" r="2.25"/><circle cx="433.25" cy="460.33" r="2.25"/><circle cx="421.49" cy="443.77" r="2.25"/><circle cx="424.63" cy="460.14" r="2.25"/><circle cx="410.62" cy="456.63" r="2.25"/><circle cx="415.26" cy="454.75" r="2.25"/><circle cx="424.55" cy="450.12" r="2.25"/><circle cx="416.67" cy="443.78" r="2.25"/><circle cx="407.64" cy="462.99" r="2.25"/><circle cx="402.76" cy="440.23" r="2.25"/><circle cx="409.68" cy="461.29" r="2.25"/><circle cx="411.96" cy="438.63" r="2.25"/><circle cx="421.92" cy="433.77" r="2.25"/><circle cx="403.23" cy="442.32" r="2.25"/><circle cx="431.35" cy="438.47" r="2.25"/><circle cx="405.28" cy="443.15" r="2.25"/><circle cx="421.94" cy="455.11" r="2.25"/><circle cx="423.86" cy="460.75" r="2.25"/><circle cx="427.01" cy="451.05" r="2.25"/><circle cx="430.11" cy="456.76" r="2.25"/><circle cx="425.33" cy="455.69" r="2.25"/><circle cx="402.02" cy="463.33" r="2.25"/><circle cx="411.96" cy="465.73" r="2.25"/><circle cx="399.93" cy="467.82" r="2.25"/><circle cx="436.3" cy="435.99" r="2.25"/><circle cx="408.98" cy="446.75" r="2.25"/><circle cx="420.66" cy="468.32" r="2.25"/><circle cx="432.58" cy="456.03" r="2.25"/><circle cx="423.64" cy="462.23" r="2.25"/><circle cx="435.18" cy="449.34" r="2.25"/><circle cx="415.71" cy="436.91" r="2.25"/><circle cx="431.64" cy="471.6" r="2.25"/><circle cx="421.6" cy="457.94" r="2.25"/><circle cx="410.4" cy="455.8" r="2.25"/><circle cx="413.07" cy="470.36" r="2.25"/><circle cx="425.73" cy="456.83" r="2.25"/><circle cx="401.07" cy="464.33" r="2.25"/><circle cx="423.77" cy="437.01" r="2.25"/><circle cx="417.98" cy="445.38" r="2.25"/><circle cx="413.8" cy="434.73" r="2.25"/><circle cx="400.21" cy="439.2" r="2.25"/><circle cx="423.55" cy="463.17" r="2.25"/><circle cx="398.33" cy="446.96" r="2.25"/><circle cx="403.66" cy="459.85" r="2.25"/><circle cx="437.77" cy="444.68" r="2.25"/><circle cx="398.25" cy="433.17" r="2.25"/><circle cx="435.25" cy="439.41" r="2.25"/><circle cx="417.13" cy="447.97" r="2.25"/><circle cx="410.68" cy="454.47" r="2.25"/><circle cx="402.63" cy="434.14" r="2.25"/><circle cx="433.91" cy="445.31" r="2.25"/><circle cx="404.36" cy="461.35" r="2.25"/><circle cx="424.41" cy="461.54" r="2.25"/><circle cx="416.53" cy="457.89" r="2.25"/><circle cx="402.69" cy="446.94" r="2.25"/><circle cx="402.11" cy="441.08" r="2.25"/><circle cx="403.99" cy="444.19" r="2.25"/><circle cx="399.14" cy="463.54" r="2.25"/><circle cx="437.74" cy="456.11" r="2.25"/><circle cx="406.47" cy="438.57" r="2.25"/><circle cx="436.09" cy="440.72" r="2.25"/><circle cx="407.29" cy="440.37" r="2.25"/><circle cx="417.94" cy="437.24" r="2.25"/><circle cx="403.7" cy="455.5" r="2.25"/><circle cx="423.36" cy="448.52" r="2.25"/><circle cx="408.7" cy="472.3" r="2.25"/><circle cx="397.49" cy="470.93" r="2.25"/><circle cx="402.46" cy="447.75" r="2.25"/><circle cx="414.59" cy="449.82" r="2.25"/><circle cx="399.45" cy="455.15" r="2.25"/><circle cx="400.14" cy="437.95" r="2.25"/><circle cx="411.62" cy="460.55" r="2.25"/><circle cx="421.96" cy="457.66" r="2.25"/><circle cx="406.33" cy="464.21" r="2.25"/><circle cx="422.61" cy="466.54" r="2.25"/><circle cx="424.48" cy="466.69" r="2.25"/><circle cx="426.97" cy="453.58" r="2.25"/><circle cx="437.65" cy="444.76" r="2.25"/><circle cx="436.58" cy="446.78" r="2.25"/><circle cx="410.3" cy="468.56" r="2.25"/><circle cx="419.41" cy="466.65" r="2.25"/><circle cx="435.4" cy="468.87" r="2.25"/></g>
<path d="M394.3 452H440.3" stroke="#000" stroke-width="1.8"/>
<path d="M486.7 425V485M475.1 425H498.3M475.1 485H498.3" stroke="#454545" stroke-width="1.15" fill="none"/>
<g fill="#000"><circle cx="491.4" cy="424.7" r="2.25"/><circle cx="482.2" cy="427.1" r="2.25"/><circle cx="477.5" cy="434.1" r="2.25"/><circle cx="486.7" cy="433.7" r="2.25"/><circle cx="495.8" cy="433.7" r="2.25"/><circle cx="507.6" cy="437.7" r="2.25"/><circle cx="486.7" cy="439.2" r="2.25"/><circle cx="491.9" cy="439.2" r="2.25"/><circle cx="465.9" cy="441.2" r="2.25"/><circle cx="471.3" cy="439.8" r="2.25"/><circle cx="476.3" cy="441.2" r="2.25"/><circle cx="481.2" cy="441.2" r="2.25"/><circle cx="497" cy="440.8" r="2.25"/><circle cx="502.3" cy="441.2" r="2.25"/><circle cx="507.6" cy="444" r="2.25"/><circle cx="473" cy="485" r="2.25"/><circle cx="482.2" cy="483" r="2.25"/><circle cx="491.4" cy="484.1" r="2.25"/><circle cx="500.5" cy="483.8" r="2.25"/><circle cx="473" cy="479.1" r="2.25"/><circle cx="465.9" cy="473.5" r="2.25"/><circle cx="493.4" cy="474.3" r="2.25"/><circle cx="507.6" cy="473.5" r="2.25"/><circle cx="472.7" cy="470.6" r="2.25"/><circle cx="479.8" cy="471.7" r="2.25"/><circle cx="486.7" cy="471.5" r="2.25"/><circle cx="500.5" cy="471.5" r="2.25"/><circle cx="486.7" cy="463.76" r="2.25"/><circle cx="486.7" cy="454.12" r="2.25"/><circle cx="491.3" cy="451.26" r="2.25"/><circle cx="491.3" cy="469.32" r="2.25"/><circle cx="486.7" cy="447.64" r="2.25"/><circle cx="495.9" cy="468.93" r="2.25"/><circle cx="482.1" cy="453.76" r="2.25"/><circle cx="495.9" cy="453.76" r="2.25"/><circle cx="491.3" cy="461.5" r="2.25"/><circle cx="491.3" cy="445.07" r="2.25"/><circle cx="482.1" cy="461.32" r="2.25"/><circle cx="495.9" cy="460.33" r="2.25"/><circle cx="482.1" cy="468.33" r="2.25"/><circle cx="477.5" cy="459.93" r="2.25"/><circle cx="477.5" cy="465.04" r="2.25"/><circle cx="491.3" cy="455.7" r="2.25"/><circle cx="500.5" cy="462.64" r="2.25"/><circle cx="472.9" cy="461.53" r="2.25"/><circle cx="472.9" cy="443.92" r="2.25"/><circle cx="472.9" cy="465.46" r="2.25"/><circle cx="474.27" cy="444.26" r="2.25"/><circle cx="505.1" cy="463.49" r="2.25"/><circle cx="468.3" cy="465.14" r="2.25"/><circle cx="495.81" cy="443.99" r="2.25"/><circle cx="500.5" cy="466.72" r="2.25"/><circle cx="482.1" cy="445.69" r="2.25"/><circle cx="505.1" cy="467.42" r="2.25"/><circle cx="500.5" cy="456.82" r="2.25"/><circle cx="472.9" cy="457.47" r="2.25"/><circle cx="495.9" cy="449.11" r="2.25"/><circle cx="477.5" cy="448.01" r="2.25"/><circle cx="495.9" cy="464.33" r="2.25"/><circle cx="505.1" cy="456.48" r="2.25"/><circle cx="505.93" cy="462.32" r="2.25"/><circle cx="472.57" cy="467.79" r="2.25"/><circle cx="496.28" cy="465.96" r="2.25"/><circle cx="500.5" cy="445.6" r="2.25"/><circle cx="468.3" cy="456.17" r="2.25"/><circle cx="502.56" cy="444.15" r="2.25"/><circle cx="468.3" cy="446.69" r="2.25"/><circle cx="465.9" cy="468.75" r="2.25"/><circle cx="470.37" cy="444.13" r="2.25"/><circle cx="479.14" cy="463.34" r="2.25"/><circle cx="483.96" cy="469.96" r="2.25"/><circle cx="472.9" cy="448.23" r="2.25"/><circle cx="500.5" cy="450.8" r="2.25"/><circle cx="479.4" cy="463.32" r="2.25"/><circle cx="479.87" cy="464.56" r="2.25"/><circle cx="468.3" cy="461.02" r="2.25"/><circle cx="477.5" cy="454.74" r="2.25"/><circle cx="502.08" cy="466.18" r="2.25"/><circle cx="505.1" cy="448.23" r="2.25"/><circle cx="500.37" cy="460.35" r="2.25"/><circle cx="475.68" cy="464.84" r="2.25"/><circle cx="466.88" cy="444.25" r="2.25"/><circle cx="472.9" cy="452.14" r="2.25"/><circle cx="466.59" cy="453.46" r="2.25"/><circle cx="474.42" cy="454.89" r="2.25"/><circle cx="488.31" cy="467.24" r="2.25"/><circle cx="479.37" cy="470.42" r="2.25"/><circle cx="474.63" cy="444.84" r="2.25"/><circle cx="481.9" cy="463.17" r="2.25"/><circle cx="505.9" cy="462.21" r="2.25"/><circle cx="486.7" cy="458.76" r="2.25"/><circle cx="496.45" cy="470.48" r="2.25"/><circle cx="483.94" cy="454.49" r="2.25"/><circle cx="495.71" cy="467.35" r="2.25"/><circle cx="496.83" cy="442.15" r="2.25"/><circle cx="493.95" cy="442.56" r="2.25"/><circle cx="501.94" cy="445.41" r="2.25"/><circle cx="467.46" cy="444.34" r="2.25"/><circle cx="501.69" cy="468.37" r="2.25"/><circle cx="497.22" cy="460.54" r="2.25"/><circle cx="494.65" cy="446.85" r="2.25"/><circle cx="501.86" cy="467.89" r="2.25"/><circle cx="505.1" cy="452.43" r="2.25"/><circle cx="470.88" cy="464.85" r="2.25"/><circle cx="468.89" cy="448.59" r="2.25"/><circle cx="487.56" cy="470.42" r="2.25"/><circle cx="470.18" cy="467.44" r="2.25"/><circle cx="499.82" cy="463.39" r="2.25"/><circle cx="472.71" cy="449.05" r="2.25"/><circle cx="482.1" cy="464.72" r="2.25"/><circle cx="503.76" cy="467.26" r="2.25"/><circle cx="472.07" cy="447.39" r="2.25"/><circle cx="489.9" cy="463.15" r="2.25"/><circle cx="502.01" cy="458.49" r="2.25"/><circle cx="483.77" cy="468.59" r="2.25"/><circle cx="486.35" cy="462.58" r="2.25"/><circle cx="496.63" cy="461.09" r="2.25"/><circle cx="504.74" cy="454.45" r="2.25"/><circle cx="490.14" cy="453.6" r="2.25"/><circle cx="478.42" cy="468.98" r="2.25"/><circle cx="503.21" cy="458.26" r="2.25"/><circle cx="470.23" cy="448.28" r="2.25"/><circle cx="466.18" cy="468.52" r="2.25"/><circle cx="477.75" cy="456.58" r="2.25"/><circle cx="502.38" cy="450.83" r="2.25"/><circle cx="470.2" cy="461.53" r="2.25"/><circle cx="475.55" cy="452.52" r="2.25"/><circle cx="477.24" cy="450.19" r="2.25"/><circle cx="478.03" cy="455.63" r="2.25"/><circle cx="477.28" cy="464.56" r="2.25"/><circle cx="503.76" cy="445.77" r="2.25"/><circle cx="496.57" cy="468.36" r="2.25"/><circle cx="482.1" cy="449.7" r="2.25"/><circle cx="478.21" cy="466.04" r="2.25"/><circle cx="467.48" cy="464.03" r="2.25"/><circle cx="503.65" cy="467.82" r="2.25"/><circle cx="498.57" cy="467.88" r="2.25"/><circle cx="497.87" cy="461.15" r="2.25"/><circle cx="488.36" cy="445.45" r="2.25"/><circle cx="466.11" cy="444.78" r="2.25"/><circle cx="481.97" cy="450.76" r="2.25"/><circle cx="487.47" cy="459.6" r="2.25"/><circle cx="468.5" cy="442.84" r="2.25"/><circle cx="492.64" cy="446.77" r="2.25"/><circle cx="466.3" cy="454.45" r="2.25"/><circle cx="493.24" cy="463.7" r="2.25"/><circle cx="505.53" cy="463.39" r="2.25"/><circle cx="467.91" cy="453.27" r="2.25"/><circle cx="505.57" cy="466.53" r="2.25"/><circle cx="476.78" cy="458.49" r="2.25"/><circle cx="498.04" cy="468.65" r="2.25"/><circle cx="468.76" cy="444.68" r="2.25"/><circle cx="481.28" cy="445.69" r="2.25"/><circle cx="489.09" cy="453.63" r="2.25"/><circle cx="492.76" cy="464.27" r="2.25"/><circle cx="485.79" cy="454.62" r="2.25"/><circle cx="503.21" cy="446.95" r="2.25"/><circle cx="505.5" cy="465.1" r="2.25"/><circle cx="487.27" cy="447.6" r="2.25"/><circle cx="497.87" cy="459.39" r="2.25"/><circle cx="466.02" cy="455.15" r="2.25"/><circle cx="469.82" cy="447.73" r="2.25"/><circle cx="495.6" cy="462.42" r="2.25"/><circle cx="484.31" cy="457.77" r="2.25"/><circle cx="484.67" cy="447.2" r="2.25"/><circle cx="494.26" cy="465.55" r="2.25"/><circle cx="476.32" cy="457.82" r="2.25"/><circle cx="506.09" cy="456.79" r="2.25"/><circle cx="482.23" cy="446.49" r="2.25"/><circle cx="483.23" cy="452.8" r="2.25"/><circle cx="488.01" cy="452.02" r="2.25"/><circle cx="475.82" cy="454.61" r="2.25"/><circle cx="496.13" cy="463.25" r="2.25"/><circle cx="484.78" cy="446.55" r="2.25"/><circle cx="500.43" cy="456.38" r="2.25"/><circle cx="479.29" cy="447.31" r="2.25"/><circle cx="468.65" cy="451.92" r="2.25"/></g>
<path d="M420.6 368.6H483.6" stroke="#000" stroke-width="2"/>
<path d="M452.2 354.15L452.2 361.85M448.87 356.07L455.53 359.93M448.87 359.93L455.53 356.07" stroke="#000" stroke-width="2.0" stroke-linecap="round"/>
<g font-family='"Liberation Sans", sans-serif' font-weight="bold" stroke="#000" stroke-width="0.3">
<text x="162.2" y="637.7" font-size="14.4" text-anchor="middle">MMP-1</text>
<text transform="translate(19.6 764.65) rotate(-90)" font-size="12.4" text-anchor="middle" textLength="185.5" lengthAdjust="spacingAndGlyphs">Log<tspan font-size="8.6" dy="3.4">10</tspan><tspan dy="-3.4"> (Baseline Plasma MMP-1)</tspan></text>
<text x="72.4" y="662.1" font-size="11.8" text-anchor="end">100,000</text>
<text x="72.4" y="715.42" font-size="11.8" text-anchor="end">10,000</text>
<text x="72.4" y="768.75" font-size="11.8" text-anchor="end">1,000</text>
<text x="72.4" y="822.08" font-size="11.8" text-anchor="end">100</text>
<text x="72.4" y="875.4" font-size="11.8" text-anchor="end">10</text>
<text x="127.6" y="891.1" font-size="11.5" text-anchor="middle">AAA</text>
<text x="197.1" y="891.1" font-size="11.5" text-anchor="middle">Control</text>
</g>
<path d="M81.8 657.3V871.4M75.5 871.4H243.6M75.5 658.1H81.8M75.5 711.42H81.8M75.5 764.75H81.8M75.5 818.08H81.8M127.6 871.4V877.6M197.1 871.4V877.6" stroke="#000" stroke-width="1.6" fill="none"/>
<path d="M127.7 662.1V826.1M116.1 662.1H139.3M116.1 826.1H139.3" stroke="#454545" stroke-width="1.15" fill="none"/>
<g fill="#000"><circle cx="127.7" cy="662.1" r="2.25"/><circle cx="127.7" cy="703" r="2.25"/><circle cx="127.7" cy="711.2" r="2.25"/><circle cx="118.6" cy="717.1" r="2.25"/><circle cx="118.6" cy="722.3" r="2.25"/><circle cx="127.7" cy="719.7" r="2.25"/><circle cx="137" cy="720.9" r="2.25"/><circle cx="123.1" cy="729" r="2.25"/><circle cx="132.2" cy="729.4" r="2.25"/><circle cx="106.8" cy="734.2" r="2.25"/><circle cx="109.2" cy="736.5" r="2.25"/><circle cx="112.7" cy="734.2" r="2.25"/><circle cx="118.6" cy="732.7" r="2.25"/><circle cx="118.6" cy="735.3" r="2.25"/><circle cx="124.6" cy="733.9" r="2.25"/><circle cx="130.5" cy="733.3" r="2.25"/><circle cx="136.6" cy="733.9" r="2.25"/><circle cx="142.5" cy="734.2" r="2.25"/><circle cx="148.8" cy="734.2" r="2.25"/><circle cx="127.5" cy="738" r="2.25"/><circle cx="136.6" cy="737.7" r="2.25"/><circle cx="146.1" cy="738.7" r="2.25"/><circle cx="106.8" cy="743.9" r="2.25"/><circle cx="109.2" cy="742.7" r="2.25"/><circle cx="118" cy="742.7" r="2.25"/><circle cx="136.4" cy="743.3" r="2.25"/><circle cx="140.5" cy="744.5" r="2.25"/><circle cx="145.8" cy="739.2" r="2.25"/><circle cx="127.7" cy="826.1" r="2.25"/><circle cx="123" cy="816.9" r="2.25"/><circle cx="132.2" cy="815.5" r="2.25"/><circle cx="113.9" cy="809" r="2.25"/><circle cx="132.2" cy="808.6" r="2.25"/><circle cx="141.7" cy="806.2" r="2.25"/><circle cx="106.8" cy="803" r="2.25"/><circle cx="118.6" cy="803" r="2.25"/><circle cx="123" cy="804.5" r="2.25"/><circle cx="130.5" cy="803" r="2.25"/><circle cx="148.8" cy="801.5" r="2.25"/><circle cx="112.7" cy="800" r="2.25"/><circle cx="136.4" cy="800.9" r="2.25"/><circle cx="106.8" cy="798.5" r="2.25"/><circle cx="142.9" cy="799.7" r="2.25"/><circle cx="127.7" cy="778.21" r="2.25"/><circle cx="132.3" cy="778.81" r="2.25"/><circle cx="127.7" cy="746.36" r="2.25"/><circle cx="132.3" cy="748.01" r="2.25"/><circle cx="127.7" cy="794.14" r="2.25"/><circle cx="127.7" cy="762" r="2.25"/><circle cx="123.1" cy="776.06" r="2.25"/><circle cx="132.3" cy="796.35" r="2.25"/><circle cx="136.9" cy="778.47" r="2.25"/><circle cx="127.7" cy="752.29" r="2.25"/><circle cx="123.1" cy="744.94" r="2.25"/><circle cx="132.3" cy="763.67" r="2.25"/><circle cx="136.9" cy="748.5" r="2.25"/><circle cx="127.7" cy="783.75" r="2.25"/><circle cx="113.9" cy="745.45" r="2.25"/><circle cx="146.1" cy="744.55" r="2.25"/><circle cx="132.3" cy="784.09" r="2.25"/><circle cx="127.7" cy="771.75" r="2.25"/><circle cx="118.5" cy="747.35" r="2.25"/><circle cx="132.3" cy="772.27" r="2.25"/><circle cx="123.1" cy="760.79" r="2.25"/><circle cx="132.3" cy="790.69" r="2.25"/><circle cx="123.1" cy="781.4" r="2.25"/><circle cx="123.1" cy="769.46" r="2.25"/><circle cx="136.9" cy="784.37" r="2.25"/><circle cx="136.9" cy="763.23" r="2.25"/><circle cx="123.1" cy="786.06" r="2.25"/><circle cx="136.9" cy="772.25" r="2.25"/><circle cx="109.3" cy="747.35" r="2.25"/><circle cx="134.83" cy="744.13" r="2.25"/><circle cx="118.5" cy="765.67" r="2.25"/><circle cx="123.1" cy="797.27" r="2.25"/><circle cx="127.7" cy="757.93" r="2.25"/><circle cx="118.5" cy="784.67" r="2.25"/><circle cx="141.5" cy="748.72" r="2.25"/><circle cx="132.3" cy="759" r="2.25"/><circle cx="118.5" cy="777.34" r="2.25"/><circle cx="141.5" cy="768.97" r="2.25"/><circle cx="123.1" cy="755.22" r="2.25"/><circle cx="118.5" cy="759.64" r="2.25"/><circle cx="127.7" cy="766.76" r="2.25"/><circle cx="136.78" cy="744.73" r="2.25"/><circle cx="141.5" cy="780.94" r="2.25"/><circle cx="132.3" cy="754.53" r="2.25"/><circle cx="113.9" cy="780.39" r="2.25"/><circle cx="141.5" cy="776.86" r="2.25"/><circle cx="146.1" cy="779.16" r="2.25"/><circle cx="141.5" cy="761.18" r="2.25"/><circle cx="141.5" cy="786.13" r="2.25"/><circle cx="109.3" cy="782" r="2.25"/><circle cx="136.9" cy="756.58" r="2.25"/><circle cx="106.8" cy="778.7" r="2.25"/><circle cx="113.9" cy="760.26" r="2.25"/><circle cx="123.1" cy="792.96" r="2.25"/><circle cx="108.75" cy="782.15" r="2.25"/><circle cx="118.5" cy="771.14" r="2.25"/><circle cx="141.5" cy="756.01" r="2.25"/><circle cx="143.54" cy="746.83" r="2.25"/><circle cx="136.9" cy="793.21" r="2.25"/><circle cx="118.5" cy="790.44" r="2.25"/><circle cx="113.9" cy="773.92" r="2.25"/><circle cx="136.9" cy="752.41" r="2.25"/><circle cx="148.6" cy="748.03" r="2.25"/><circle cx="118.5" cy="794.63" r="2.25"/><circle cx="113.9" cy="769.69" r="2.25"/><circle cx="146.1" cy="757.09" r="2.25"/><circle cx="109.3" cy="758.16" r="2.25"/><circle cx="136.79" cy="747.54" r="2.25"/><circle cx="146.1" cy="762.79" r="2.25"/><circle cx="132.3" cy="768.16" r="2.25"/><circle cx="109.3" cy="763.63" r="2.25"/><circle cx="146.1" cy="773.96" r="2.25"/><circle cx="135.22" cy="748.22" r="2.25"/><circle cx="123.1" cy="749.09" r="2.25"/><circle cx="113.9" cy="786.67" r="2.25"/><circle cx="146.1" cy="787.21" r="2.25"/><circle cx="141.5" cy="794.29" r="2.25"/><circle cx="113.9" cy="790.74" r="2.25"/><circle cx="117.19" cy="784.74" r="2.25"/><circle cx="126" cy="762.34" r="2.25"/><circle cx="124.54" cy="777.51" r="2.25"/><circle cx="123.1" cy="765.18" r="2.25"/><circle cx="146.1" cy="770" r="2.25"/><circle cx="106.8" cy="785.86" r="2.25"/><circle cx="109.3" cy="746.59" r="2.25"/><circle cx="143.57" cy="761.11" r="2.25"/><circle cx="119.01" cy="748.98" r="2.25"/><circle cx="114.99" cy="748.1" r="2.25"/><circle cx="108.96" cy="778.29" r="2.25"/><circle cx="146.1" cy="794.47" r="2.25"/><circle cx="113.9" cy="765.5" r="2.25"/><circle cx="127.7" cy="789.74" r="2.25"/><circle cx="136.67" cy="778.74" r="2.25"/><circle cx="109.3" cy="790.97" r="2.25"/><circle cx="128.31" cy="778.3" r="2.25"/><circle cx="109.3" cy="771.35" r="2.25"/><circle cx="136.48" cy="759.85" r="2.25"/><circle cx="148.6" cy="783.96" r="2.25"/><circle cx="123.62" cy="759.9" r="2.25"/><circle cx="132.87" cy="759.39" r="2.25"/><circle cx="106.8" cy="774.56" r="2.25"/><circle cx="116.57" cy="760.23" r="2.25"/><circle cx="111.68" cy="791.89" r="2.25"/><circle cx="122.66" cy="749.22" r="2.25"/><circle cx="134.82" cy="763.25" r="2.25"/><circle cx="141.93" cy="747.44" r="2.25"/><circle cx="107.46" cy="794.76" r="2.25"/><circle cx="136.9" cy="789.23" r="2.25"/><circle cx="143.84" cy="779.98" r="2.25"/><circle cx="127.44" cy="749.68" r="2.25"/><circle cx="141.48" cy="747.1" r="2.25"/><circle cx="146.63" cy="785.71" r="2.25"/><circle cx="118.5" cy="755.62" r="2.25"/><circle cx="109.85" cy="761.71" r="2.25"/><circle cx="123.87" cy="770.69" r="2.25"/><circle cx="110.78" cy="796.6" r="2.25"/><circle cx="113.23" cy="796.37" r="2.25"/><circle cx="132.06" cy="777.82" r="2.25"/><circle cx="109.36" cy="785.69" r="2.25"/><circle cx="113.9" cy="753.39" r="2.25"/><circle cx="132.25" cy="792.2" r="2.25"/><circle cx="109.64" cy="759.99" r="2.25"/><circle cx="108.9" cy="778.2" r="2.25"/><circle cx="146.69" cy="756.34" r="2.25"/><circle cx="106.8" cy="750.61" r="2.25"/><circle cx="147.81" cy="770.58" r="2.25"/><circle cx="121.43" cy="793.89" r="2.25"/><circle cx="148.01" cy="795.51" r="2.25"/><circle cx="147.53" cy="748.52" r="2.25"/><circle cx="148.59" cy="786.05" r="2.25"/><circle cx="131.25" cy="775.93" r="2.25"/><circle cx="114.86" cy="780.54" r="2.25"/><circle cx="132.22" cy="750.86" r="2.25"/><circle cx="123.85" cy="783.69" r="2.25"/><circle cx="139.33" cy="794.79" r="2.25"/><circle cx="134.17" cy="764.25" r="2.25"/><circle cx="121.58" cy="761.08" r="2.25"/><circle cx="113.31" cy="758.88" r="2.25"/><circle cx="107.95" cy="765.46" r="2.25"/><circle cx="126.88" cy="748.19" r="2.25"/><circle cx="124.22" cy="755.28" r="2.25"/><circle cx="131.24" cy="770.32" r="2.25"/><circle cx="143.81" cy="779.18" r="2.25"/><circle cx="109.3" cy="753.77" r="2.25"/><circle cx="142.41" cy="745.05" r="2.25"/><circle cx="117.35" cy="774.64" r="2.25"/><circle cx="110.21" cy="773.01" r="2.25"/><circle cx="131.88" cy="757.74" r="2.25"/><circle cx="145.77" cy="787.48" r="2.25"/><circle cx="145.83" cy="784.61" r="2.25"/><circle cx="133.51" cy="795.78" r="2.25"/><circle cx="107.75" cy="773.65" r="2.25"/><circle cx="124.07" cy="781.71" r="2.25"/><circle cx="118.95" cy="756.07" r="2.25"/><circle cx="130.08" cy="783.65" r="2.25"/><circle cx="146.56" cy="750.53" r="2.25"/><circle cx="111.62" cy="765.2" r="2.25"/><circle cx="132.04" cy="784.65" r="2.25"/><circle cx="143.56" cy="786.08" r="2.25"/><circle cx="136.37" cy="759.31" r="2.25"/><circle cx="107.24" cy="749.37" r="2.25"/><circle cx="116.03" cy="769.09" r="2.25"/><circle cx="111.5" cy="782.37" r="2.25"/><circle cx="116.05" cy="773.95" r="2.25"/><circle cx="120.34" cy="750.9" r="2.25"/><circle cx="106.82" cy="751.84" r="2.25"/><circle cx="115.89" cy="795.67" r="2.25"/><circle cx="124.88" cy="792.54" r="2.25"/><circle cx="131.29" cy="771.51" r="2.25"/><circle cx="146.83" cy="758.87" r="2.25"/><circle cx="120.63" cy="760.05" r="2.25"/><circle cx="129.88" cy="746.69" r="2.25"/><circle cx="110.45" cy="758.53" r="2.25"/><circle cx="114.65" cy="760.84" r="2.25"/><circle cx="109.27" cy="762.34" r="2.25"/><circle cx="108.56" cy="793.36" r="2.25"/><circle cx="125.58" cy="782.15" r="2.25"/><circle cx="115.88" cy="782.37" r="2.25"/><circle cx="135.9" cy="744.36" r="2.25"/><circle cx="142.89" cy="787.86" r="2.25"/><circle cx="139.45" cy="764.99" r="2.25"/><circle cx="107.55" cy="775.54" r="2.25"/><circle cx="136.32" cy="776.46" r="2.25"/><circle cx="138.75" cy="749" r="2.25"/><circle cx="111.34" cy="793.7" r="2.25"/><circle cx="126.49" cy="757.67" r="2.25"/><circle cx="146.69" cy="748.37" r="2.25"/><circle cx="145.8" cy="789.08" r="2.25"/><circle cx="132.08" cy="749.4" r="2.25"/><circle cx="133.11" cy="756.32" r="2.25"/><circle cx="142.69" cy="759.49" r="2.25"/><circle cx="141.67" cy="792.02" r="2.25"/><circle cx="139.45" cy="756.94" r="2.25"/><circle cx="125.31" cy="771.91" r="2.25"/><circle cx="142.09" cy="790.47" r="2.25"/><circle cx="121.37" cy="782.43" r="2.25"/><circle cx="112.92" cy="781.7" r="2.25"/><circle cx="128.71" cy="770.89" r="2.25"/><circle cx="122.07" cy="770.46" r="2.25"/><circle cx="109.82" cy="782.66" r="2.25"/><circle cx="141.23" cy="775.26" r="2.25"/><circle cx="128.95" cy="763.21" r="2.25"/><circle cx="123.68" cy="763" r="2.25"/><circle cx="145.03" cy="750.57" r="2.25"/><circle cx="133.03" cy="770.47" r="2.25"/><circle cx="111.48" cy="747.28" r="2.25"/><circle cx="122.86" cy="771.98" r="2.25"/><circle cx="130.39" cy="785.35" r="2.25"/><circle cx="109.99" cy="797.28" r="2.25"/><circle cx="124.63" cy="791.45" r="2.25"/><circle cx="141.46" cy="792.26" r="2.25"/><circle cx="142.2" cy="759.64" r="2.25"/><circle cx="118.4" cy="764.53" r="2.25"/><circle cx="143.14" cy="768.79" r="2.25"/><circle cx="108.3" cy="783.29" r="2.25"/><circle cx="148.31" cy="792.73" r="2.25"/><circle cx="143.63" cy="775.65" r="2.25"/><circle cx="111.97" cy="787.54" r="2.25"/><circle cx="130.71" cy="763.22" r="2.25"/><circle cx="116.12" cy="763.48" r="2.25"/><circle cx="133.18" cy="759.68" r="2.25"/><circle cx="128.78" cy="781.09" r="2.25"/><circle cx="138.83" cy="782.81" r="2.25"/><circle cx="125.43" cy="746.83" r="2.25"/><circle cx="131.82" cy="772.48" r="2.25"/><circle cx="123.33" cy="768.91" r="2.25"/><circle cx="130.57" cy="755.15" r="2.25"/><circle cx="146.46" cy="762.02" r="2.25"/><circle cx="115.94" cy="755.33" r="2.25"/><circle cx="131.11" cy="784.11" r="2.25"/><circle cx="126.62" cy="788.16" r="2.25"/><circle cx="132.6" cy="797.23" r="2.25"/><circle cx="128.93" cy="753.84" r="2.25"/><circle cx="120.36" cy="769.91" r="2.25"/><circle cx="113.28" cy="788.17" r="2.25"/><circle cx="135.89" cy="784.3" r="2.25"/><circle cx="107.47" cy="788.09" r="2.25"/><circle cx="115.34" cy="779.57" r="2.25"/><circle cx="143.43" cy="764.23" r="2.25"/><circle cx="139.61" cy="745.77" r="2.25"/><circle cx="112.43" cy="793.91" r="2.25"/><circle cx="138.69" cy="776.89" r="2.25"/><circle cx="112.85" cy="762.59" r="2.25"/><circle cx="148.6" cy="766.52" r="2.25"/><circle cx="142.51" cy="777.21" r="2.25"/><circle cx="111.96" cy="773.9" r="2.25"/><circle cx="143.72" cy="763.33" r="2.25"/><circle cx="120.82" cy="760.01" r="2.25"/><circle cx="110.38" cy="774.33" r="2.25"/><circle cx="124.56" cy="768.73" r="2.25"/><circle cx="147.28" cy="761.29" r="2.25"/><circle cx="137.69" cy="777.34" r="2.25"/><circle cx="140.01" cy="792.17" r="2.25"/><circle cx="142.77" cy="777.03" r="2.25"/><circle cx="112.84" cy="750.38" r="2.25"/><circle cx="125.81" cy="751.95" r="2.25"/><circle cx="130.56" cy="746.72" r="2.25"/><circle cx="118.14" cy="774.22" r="2.25"/><circle cx="143.49" cy="757.11" r="2.25"/><circle cx="132.86" cy="795.22" r="2.25"/><circle cx="122.94" cy="753.99" r="2.25"/><circle cx="133.04" cy="758.78" r="2.25"/><circle cx="136.48" cy="749.25" r="2.25"/><circle cx="118.68" cy="794.38" r="2.25"/><circle cx="110.65" cy="755.9" r="2.25"/><circle cx="141.37" cy="779.73" r="2.25"/><circle cx="113.19" cy="770.49" r="2.25"/><circle cx="111.5" cy="788.26" r="2.25"/><circle cx="110.6" cy="790.61" r="2.25"/><circle cx="111.21" cy="766.32" r="2.25"/><circle cx="140.12" cy="797.02" r="2.25"/><circle cx="110.66" cy="760.24" r="2.25"/><circle cx="148.23" cy="754.6" r="2.25"/><circle cx="110.35" cy="754.38" r="2.25"/><circle cx="138.05" cy="782.68" r="2.25"/><circle cx="145.98" cy="787.86" r="2.25"/><circle cx="133.86" cy="759.67" r="2.25"/><circle cx="124.83" cy="757.76" r="2.25"/><circle cx="116.69" cy="748.65" r="2.25"/><circle cx="130.07" cy="748.05" r="2.25"/><circle cx="134.73" cy="766.82" r="2.25"/><circle cx="121.69" cy="765.44" r="2.25"/><circle cx="113.89" cy="779.44" r="2.25"/><circle cx="107.14" cy="777.02" r="2.25"/><circle cx="112.79" cy="782.92" r="2.25"/><circle cx="112.75" cy="766.14" r="2.25"/><circle cx="107.7" cy="793.11" r="2.25"/><circle cx="144.48" cy="754.18" r="2.25"/><circle cx="125.13" cy="774.59" r="2.25"/><circle cx="148.33" cy="789.1" r="2.25"/><circle cx="146.83" cy="782.6" r="2.25"/><circle cx="135.97" cy="766.39" r="2.25"/><circle cx="107.14" cy="790.63" r="2.25"/><circle cx="109.23" cy="785.42" r="2.25"/><circle cx="147.03" cy="796.25" r="2.25"/><circle cx="107.12" cy="750.09" r="2.25"/><circle cx="145.68" cy="783.93" r="2.25"/><circle cx="115.42" cy="747.87" r="2.25"/><circle cx="146.83" cy="760.89" r="2.25"/><circle cx="112.29" cy="759.07" r="2.25"/><circle cx="112.93" cy="787.08" r="2.25"/><circle cx="136.08" cy="791.12" r="2.25"/><circle cx="126.44" cy="777.3" r="2.25"/><circle cx="142.02" cy="767.82" r="2.25"/><circle cx="109.85" cy="783.93" r="2.25"/><circle cx="132.35" cy="747.3" r="2.25"/><circle cx="111.23" cy="792.26" r="2.25"/><circle cx="113.22" cy="778.06" r="2.25"/><circle cx="115.36" cy="744.15" r="2.25"/><circle cx="148.07" cy="754.8" r="2.25"/><circle cx="126.19" cy="757.7" r="2.25"/><circle cx="115.56" cy="789.04" r="2.25"/><circle cx="137.77" cy="792.16" r="2.25"/><circle cx="144.02" cy="772.68" r="2.25"/><circle cx="107.38" cy="758.54" r="2.25"/><circle cx="129.25" cy="745.17" r="2.25"/><circle cx="126.52" cy="780.06" r="2.25"/><circle cx="145.2" cy="755.02" r="2.25"/><circle cx="137.16" cy="773.17" r="2.25"/><circle cx="121.15" cy="787.02" r="2.25"/><circle cx="130.05" cy="781.89" r="2.25"/><circle cx="145.24" cy="771.82" r="2.25"/><circle cx="147.29" cy="793.99" r="2.25"/><circle cx="116.86" cy="795.22" r="2.25"/><circle cx="146.85" cy="767.48" r="2.25"/><circle cx="120.72" cy="780.15" r="2.25"/><circle cx="114.53" cy="762.27" r="2.25"/><circle cx="121.29" cy="746.61" r="2.25"/><circle cx="123.34" cy="751.96" r="2.25"/><circle cx="116.17" cy="744.97" r="2.25"/><circle cx="147.44" cy="764.6" r="2.25"/><circle cx="135.03" cy="764.01" r="2.25"/><circle cx="125.44" cy="786.69" r="2.25"/><circle cx="119.84" cy="769.35" r="2.25"/><circle cx="115.71" cy="793.84" r="2.25"/><circle cx="120.97" cy="787.11" r="2.25"/><circle cx="123.92" cy="797.6" r="2.25"/><circle cx="118.41" cy="749.3" r="2.25"/><circle cx="116.84" cy="752.73" r="2.25"/><circle cx="127.52" cy="746.3" r="2.25"/><circle cx="124.9" cy="791.82" r="2.25"/><circle cx="143.68" cy="793.48" r="2.25"/><circle cx="108.77" cy="787.24" r="2.25"/><circle cx="130.01" cy="793.31" r="2.25"/><circle cx="145.47" cy="796.97" r="2.25"/><circle cx="121.69" cy="777.49" r="2.25"/><circle cx="126.54" cy="751.25" r="2.25"/><circle cx="144.26" cy="794.18" r="2.25"/><circle cx="108.38" cy="769.69" r="2.25"/><circle cx="132.15" cy="746.88" r="2.25"/><circle cx="135.44" cy="756.16" r="2.25"/><circle cx="117.6" cy="778.57" r="2.25"/><circle cx="107.73" cy="753.64" r="2.25"/><circle cx="146.7" cy="796.49" r="2.25"/><circle cx="108.33" cy="775.61" r="2.25"/><circle cx="129.27" cy="758" r="2.25"/><circle cx="108.56" cy="759.82" r="2.25"/><circle cx="126.84" cy="789.46" r="2.25"/><circle cx="131.12" cy="768.31" r="2.25"/><circle cx="114.27" cy="791.94" r="2.25"/><circle cx="124.67" cy="750.68" r="2.25"/><circle cx="137.83" cy="769.37" r="2.25"/><circle cx="148.28" cy="782.42" r="2.25"/><circle cx="112.82" cy="780.23" r="2.25"/><circle cx="130.42" cy="770.85" r="2.25"/><circle cx="129.67" cy="792.33" r="2.25"/><circle cx="112.21" cy="764.5" r="2.25"/><circle cx="130.99" cy="746.53" r="2.25"/><circle cx="129.39" cy="763.5" r="2.25"/><circle cx="118.37" cy="785.14" r="2.25"/><circle cx="115.36" cy="795.85" r="2.25"/><circle cx="125.35" cy="792.14" r="2.25"/><circle cx="134.03" cy="744.16" r="2.25"/><circle cx="111.33" cy="779.45" r="2.25"/><circle cx="144.86" cy="759.5" r="2.25"/><circle cx="125.86" cy="784.4" r="2.25"/><circle cx="119.87" cy="773.2" r="2.25"/><circle cx="132.67" cy="759.88" r="2.25"/><circle cx="112.92" cy="796.51" r="2.25"/><circle cx="122.55" cy="775.85" r="2.25"/><circle cx="109.7" cy="779.22" r="2.25"/><circle cx="122" cy="760.07" r="2.25"/><circle cx="136.12" cy="793.13" r="2.25"/><circle cx="130.33" cy="750.83" r="2.25"/><circle cx="118.28" cy="789.78" r="2.25"/><circle cx="141.36" cy="760.65" r="2.25"/><circle cx="120.34" cy="756.01" r="2.25"/><circle cx="110.81" cy="765.61" r="2.25"/><circle cx="128.63" cy="757.19" r="2.25"/><circle cx="129.64" cy="793.88" r="2.25"/><circle cx="133.67" cy="779.77" r="2.25"/><circle cx="116.4" cy="793.43" r="2.25"/><circle cx="115.37" cy="746.55" r="2.25"/><circle cx="146.32" cy="765.18" r="2.25"/><circle cx="148.1" cy="793.16" r="2.25"/><circle cx="145.14" cy="752.7" r="2.25"/><circle cx="111.61" cy="761.54" r="2.25"/><circle cx="143.38" cy="767.64" r="2.25"/><circle cx="120.88" cy="750.96" r="2.25"/><circle cx="111.07" cy="764.48" r="2.25"/><circle cx="123.93" cy="778.36" r="2.25"/><circle cx="123.53" cy="767.13" r="2.25"/><circle cx="110.94" cy="760.21" r="2.25"/><circle cx="135.69" cy="766.11" r="2.25"/><circle cx="125.13" cy="761.67" r="2.25"/><circle cx="145.22" cy="777.48" r="2.25"/><circle cx="121.93" cy="767.82" r="2.25"/><circle cx="143.86" cy="754.93" r="2.25"/><circle cx="111.22" cy="760.46" r="2.25"/><circle cx="133.64" cy="797.44" r="2.25"/><circle cx="126.92" cy="769.32" r="2.25"/><circle cx="145.15" cy="754.52" r="2.25"/><circle cx="145.47" cy="744.84" r="2.25"/><circle cx="144.58" cy="796.26" r="2.25"/><circle cx="140.77" cy="779.22" r="2.25"/><circle cx="111.86" cy="754.86" r="2.25"/><circle cx="124.19" cy="774.15" r="2.25"/><circle cx="122.22" cy="749" r="2.25"/><circle cx="110.47" cy="748.39" r="2.25"/><circle cx="136.16" cy="759.36" r="2.25"/><circle cx="122.14" cy="777.79" r="2.25"/><circle cx="136.89" cy="792.9" r="2.25"/><circle cx="121.48" cy="767.45" r="2.25"/><circle cx="115.65" cy="790.54" r="2.25"/><circle cx="144.72" cy="785.44" r="2.25"/><circle cx="126.53" cy="788.96" r="2.25"/><circle cx="114.26" cy="789.27" r="2.25"/><circle cx="118.18" cy="782.39" r="2.25"/><circle cx="116.81" cy="777.17" r="2.25"/><circle cx="134.17" cy="797.94" r="2.25"/><circle cx="122.02" cy="795.06" r="2.25"/><circle cx="132.31" cy="744.19" r="2.25"/><circle cx="127.93" cy="762.99" r="2.25"/><circle cx="124.63" cy="760.3" r="2.25"/><circle cx="112.74" cy="787.24" r="2.25"/><circle cx="134.54" cy="759.32" r="2.25"/><circle cx="123.47" cy="774.72" r="2.25"/><circle cx="109.32" cy="787.92" r="2.25"/><circle cx="120.21" cy="748.74" r="2.25"/><circle cx="118.84" cy="752.84" r="2.25"/><circle cx="135.91" cy="772.72" r="2.25"/><circle cx="136.42" cy="751.32" r="2.25"/><circle cx="119.84" cy="751.55" r="2.25"/><circle cx="117.06" cy="758.47" r="2.25"/><circle cx="113.92" cy="786" r="2.25"/><circle cx="108.83" cy="777.05" r="2.25"/><circle cx="132.26" cy="775.34" r="2.25"/><circle cx="132.55" cy="793.03" r="2.25"/><circle cx="119.69" cy="789.53" r="2.25"/><circle cx="135.62" cy="775.46" r="2.25"/><circle cx="110.29" cy="750.74" r="2.25"/><circle cx="129.73" cy="769.03" r="2.25"/><circle cx="134.88" cy="771.01" r="2.25"/><circle cx="128.51" cy="756.22" r="2.25"/><circle cx="120.22" cy="784.94" r="2.25"/><circle cx="138.36" cy="793.93" r="2.25"/><circle cx="133.76" cy="785.27" r="2.25"/><circle cx="124.96" cy="770.28" r="2.25"/><circle cx="146.97" cy="783.49" r="2.25"/><circle cx="138.7" cy="777.06" r="2.25"/><circle cx="119.85" cy="785.94" r="2.25"/><circle cx="121.99" cy="752.3" r="2.25"/><circle cx="115.84" cy="786.95" r="2.25"/><circle cx="134.98" cy="752.17" r="2.25"/><circle cx="114.86" cy="792.21" r="2.25"/><circle cx="126.54" cy="790.13" r="2.25"/><circle cx="122.58" cy="786.32" r="2.25"/><circle cx="107.48" cy="760.98" r="2.25"/><circle cx="112.81" cy="790.74" r="2.25"/><circle cx="147.53" cy="745.04" r="2.25"/></g>
<path d="M104.7 765H150.7" stroke="#000" stroke-width="1.8"/>
<path d="M197.2 710.9V821.5M185.6 710.9H208.8M185.6 821.5H208.8" stroke="#454545" stroke-width="1.15" fill="none"/>
<g fill="#000"><circle cx="201.9" cy="710.9" r="2.25"/><circle cx="192.4" cy="713.9" r="2.25"/><circle cx="192.4" cy="726" r="2.25"/><circle cx="201.9" cy="728" r="2.25"/><circle cx="192.4" cy="732" r="2.25"/><circle cx="201.9" cy="734.6" r="2.25"/><circle cx="192.4" cy="738.1" r="2.25"/><circle cx="188" cy="743.4" r="2.25"/><circle cx="215.8" cy="745.8" r="2.25"/><circle cx="206.4" cy="747.6" r="2.25"/><circle cx="183.3" cy="750.9" r="2.25"/><circle cx="188" cy="749" r="2.25"/><circle cx="192.4" cy="751.1" r="2.25"/><circle cx="201.9" cy="751.7" r="2.25"/><circle cx="179" cy="755.6" r="2.25"/><circle cx="197.2" cy="756.4" r="2.25"/><circle cx="206.4" cy="757" r="2.25"/><circle cx="211.1" cy="754.6" r="2.25"/><circle cx="176.2" cy="759.6" r="2.25"/><circle cx="183.3" cy="759.6" r="2.25"/><circle cx="188" cy="759.4" r="2.25"/><circle cx="215.8" cy="759.1" r="2.25"/><circle cx="204" cy="760.6" r="2.25"/><circle cx="197.2" cy="821.5" r="2.25"/><circle cx="188" cy="813.8" r="2.25"/><circle cx="197.2" cy="810.8" r="2.25"/><circle cx="206.4" cy="810.8" r="2.25"/><circle cx="179" cy="804.3" r="2.25"/><circle cx="188" cy="801.6" r="2.25"/><circle cx="197.2" cy="803.5" r="2.25"/><circle cx="206.4" cy="803.1" r="2.25"/><circle cx="215.8" cy="805.5" r="2.25"/><circle cx="215.8" cy="799" r="2.25"/><circle cx="212.3" cy="795.2" r="2.25"/><circle cx="182.5" cy="794.9" r="2.25"/><circle cx="188" cy="794" r="2.25"/><circle cx="176.2" cy="792.5" r="2.25"/><circle cx="194" cy="792.9" r="2.25"/><circle cx="200.5" cy="791.9" r="2.25"/><circle cx="206.1" cy="792.2" r="2.25"/><circle cx="218.2" cy="793.7" r="2.25"/><circle cx="218.2" cy="790.1" r="2.25"/><circle cx="218.2" cy="786.6" r="2.25"/><circle cx="184.5" cy="790.5" r="2.25"/><circle cx="176.2" cy="787.2" r="2.25"/><circle cx="186.9" cy="786.2" r="2.25"/><circle cx="192.2" cy="786.6" r="2.25"/><circle cx="201.6" cy="790.7" r="2.25"/><circle cx="207.6" cy="785.8" r="2.25"/><circle cx="212.9" cy="786.2" r="2.25"/><circle cx="197.2" cy="789.81" r="2.25"/><circle cx="186.38" cy="787.83" r="2.25"/><circle cx="197.2" cy="772.09" r="2.25"/><circle cx="201.8" cy="771.41" r="2.25"/><circle cx="197.2" cy="767.08" r="2.25"/><circle cx="192.6" cy="770.67" r="2.25"/><circle cx="197.2" cy="778.37" r="2.25"/><circle cx="201.8" cy="766.11" r="2.25"/><circle cx="206.4" cy="766.85" r="2.25"/><circle cx="192.6" cy="766.73" r="2.25"/><circle cx="185.26" cy="789.53" r="2.25"/><circle cx="197.2" cy="761.33" r="2.25"/><circle cx="206.4" cy="772.03" r="2.25"/><circle cx="188" cy="765.67" r="2.25"/><circle cx="196.32" cy="788.49" r="2.25"/><circle cx="192.6" cy="761.73" r="2.25"/><circle cx="201.8" cy="780.53" r="2.25"/><circle cx="188" cy="772.76" r="2.25"/><circle cx="211" cy="774.29" r="2.25"/><circle cx="192.6" cy="778.14" r="2.25"/><circle cx="201.8" cy="786.65" r="2.25"/><circle cx="211" cy="762.75" r="2.25"/><circle cx="206.4" cy="777.43" r="2.25"/><circle cx="188" cy="780.08" r="2.25"/><circle cx="184.44" cy="788.98" r="2.25"/><circle cx="181.39" cy="759.27" r="2.25"/><circle cx="211" cy="780" r="2.25"/><circle cx="197.2" cy="783.73" r="2.25"/><circle cx="183.4" cy="771.88" r="2.25"/><circle cx="183.4" cy="766.31" r="2.25"/><circle cx="215.6" cy="774.21" r="2.25"/><circle cx="201.8" cy="776.07" r="2.25"/><circle cx="183.4" cy="784.24" r="2.25"/><circle cx="215.6" cy="765.7" r="2.25"/><circle cx="178.8" cy="774.23" r="2.25"/><circle cx="211" cy="790.42" r="2.25"/><circle cx="189.08" cy="772.99" r="2.25"/><circle cx="218" cy="770.62" r="2.25"/><circle cx="178.8" cy="783.69" r="2.25"/><circle cx="178.8" cy="766.46" r="2.25"/><circle cx="195.02" cy="785.97" r="2.25"/><circle cx="183.4" cy="777.5" r="2.25"/><circle cx="206.4" cy="781.61" r="2.25"/><circle cx="179.68" cy="771.26" r="2.25"/><circle cx="176.77" cy="765.78" r="2.25"/><circle cx="215.6" cy="780.75" r="2.25"/><circle cx="218" cy="777.5" r="2.25"/><circle cx="215.96" cy="775.71" r="2.25"/><circle cx="194.07" cy="784.81" r="2.25"/><circle cx="181.32" cy="776.95" r="2.25"/><circle cx="214.19" cy="790.56" r="2.25"/><circle cx="206.14" cy="789.66" r="2.25"/><circle cx="216.46" cy="783.97" r="2.25"/><circle cx="214.26" cy="783.77" r="2.25"/><circle cx="207.71" cy="782.34" r="2.25"/><circle cx="212.66" cy="764.09" r="2.25"/><circle cx="206.55" cy="763.42" r="2.25"/><circle cx="211.27" cy="763.74" r="2.25"/><circle cx="185.23" cy="785.53" r="2.25"/><circle cx="196.54" cy="789.41" r="2.25"/><circle cx="181.01" cy="766.75" r="2.25"/><circle cx="190.66" cy="780.73" r="2.25"/><circle cx="176.4" cy="780.29" r="2.25"/><circle cx="181.51" cy="762.28" r="2.25"/><circle cx="187.23" cy="775.81" r="2.25"/><circle cx="211" cy="768.69" r="2.25"/><circle cx="213" cy="765.11" r="2.25"/><circle cx="214.17" cy="760.69" r="2.25"/><circle cx="198.93" cy="765.99" r="2.25"/><circle cx="197.53" cy="777.42" r="2.25"/><circle cx="189.17" cy="762.75" r="2.25"/><circle cx="195.28" cy="771.8" r="2.25"/><circle cx="189.44" cy="791.4" r="2.25"/><circle cx="182.76" cy="771.04" r="2.25"/><circle cx="196.7" cy="787.72" r="2.25"/><circle cx="218" cy="762.42" r="2.25"/><circle cx="200.89" cy="762.92" r="2.25"/><circle cx="190.57" cy="786.2" r="2.25"/><circle cx="205.04" cy="762.71" r="2.25"/><circle cx="183.7" cy="780.07" r="2.25"/><circle cx="189.64" cy="777.29" r="2.25"/><circle cx="194.53" cy="765.29" r="2.25"/><circle cx="183.72" cy="778.59" r="2.25"/><circle cx="185.01" cy="774.75" r="2.25"/><circle cx="178.73" cy="785.25" r="2.25"/><circle cx="212.95" cy="771.23" r="2.25"/><circle cx="216.59" cy="782.31" r="2.25"/><circle cx="210.26" cy="761.65" r="2.25"/><circle cx="181.88" cy="768.08" r="2.25"/><circle cx="207.9" cy="761.84" r="2.25"/><circle cx="189.67" cy="787.84" r="2.25"/><circle cx="204.02" cy="760.21" r="2.25"/><circle cx="215.17" cy="792.58" r="2.25"/><circle cx="178.69" cy="763.22" r="2.25"/><circle cx="188.22" cy="787.15" r="2.25"/><circle cx="216.3" cy="767.15" r="2.25"/><circle cx="200.61" cy="787.55" r="2.25"/><circle cx="186.51" cy="779.52" r="2.25"/><circle cx="212.54" cy="778.67" r="2.25"/><circle cx="202.56" cy="775.15" r="2.25"/><circle cx="179.98" cy="765.86" r="2.25"/><circle cx="195.1" cy="762.52" r="2.25"/><circle cx="191.51" cy="782.5" r="2.25"/><circle cx="178.83" cy="775.9" r="2.25"/><circle cx="210.27" cy="778.45" r="2.25"/><circle cx="186.62" cy="784.83" r="2.25"/><circle cx="190.07" cy="769.31" r="2.25"/><circle cx="210.94" cy="760.7" r="2.25"/><circle cx="195.68" cy="771.18" r="2.25"/><circle cx="186.1" cy="766.98" r="2.25"/><circle cx="192.4" cy="759.15" r="2.25"/><circle cx="179.67" cy="788.23" r="2.25"/><circle cx="204.48" cy="765.81" r="2.25"/><circle cx="201.35" cy="779.09" r="2.25"/><circle cx="184.71" cy="762.16" r="2.25"/><circle cx="190.83" cy="770.39" r="2.25"/><circle cx="196.2" cy="785.52" r="2.25"/><circle cx="214.43" cy="773.67" r="2.25"/><circle cx="216.4" cy="762.23" r="2.25"/><circle cx="199.16" cy="776.79" r="2.25"/></g>
<path d="M174.2 762.9H220.2" stroke="#000" stroke-width="1.8"/>
<g font-family='"Liberation Sans", sans-serif' font-weight="bold" stroke="#000" stroke-width="0.3">
<text x="460.7" y="637.7" font-size="14.25" text-anchor="middle">Chitinase 3-like 1</text>
<text transform="translate(309.3 764.9) rotate(-90)" font-size="12.4" text-anchor="middle" textLength="245.4" lengthAdjust="spacingAndGlyphs">Log<tspan font-size="8.6" dy="3.4">10</tspan><tspan dy="-3.4"> (Baseline Plasma Chitinase 3-like 1)</tspan></text>
<text x="371" y="662.1" font-size="11.8" text-anchor="end">1,000,000</text>
<text x="371" y="733.2" font-size="11.8" text-anchor="end">100,000</text>
<text x="371" y="804.3" font-size="11.8" text-anchor="end">10,000</text>
<text x="371" y="875.4" font-size="11.8" text-anchor="end">1,000</text>
<text x="426.4" y="891.1" font-size="11.5" text-anchor="middle">AAA</text>
<text x="495.9" y="891.1" font-size="11.5" text-anchor="middle">Control</text>
</g>
<path d="M380.4 657.3V871.4M374.1 871.4H542.2M374.1 658.1H380.4M374.1 729.2H380.4M374.1 800.3H380.4M426.4 871.4V877.6M495.9 871.4V877.6" stroke="#000" stroke-width="1.6" fill="none"/>
<path d="M426.3 661.1V864.8M414.7 661.1H437.9M414.7 864.8H437.9" stroke="#454545" stroke-width="1.15" fill="none"/>
<g fill="#000"><circle cx="422" cy="663" r="2.25"/><circle cx="431" cy="661.1" r="2.25"/><circle cx="422" cy="672.7" r="2.25"/><circle cx="431" cy="671" r="2.25"/><circle cx="408" cy="680" r="2.25"/><circle cx="417.2" cy="680.8" r="2.25"/><circle cx="426.3" cy="679.6" r="2.25"/><circle cx="426.3" cy="684.6" r="2.25"/><circle cx="435.8" cy="683.6" r="2.25"/><circle cx="444.9" cy="683.6" r="2.25"/><circle cx="408" cy="690.7" r="2.25"/><circle cx="417.2" cy="688.3" r="2.25"/><circle cx="417.2" cy="690.5" r="2.25"/><circle cx="426.3" cy="689.5" r="2.25"/><circle cx="435.8" cy="686" r="2.25"/><circle cx="435.8" cy="689.9" r="2.25"/><circle cx="444.9" cy="691.6" r="2.25"/><circle cx="408" cy="781.4" r="2.25"/><circle cx="417.2" cy="785.5" r="2.25"/><circle cx="426.3" cy="782" r="2.25"/><circle cx="435.8" cy="781.4" r="2.25"/><circle cx="444.9" cy="786.1" r="2.25"/><circle cx="444.9" cy="781.4" r="2.25"/><circle cx="408" cy="788.7" r="2.25"/><circle cx="435.8" cy="789.9" r="2.25"/><circle cx="444.9" cy="792.6" r="2.25"/><circle cx="408" cy="796.5" r="2.25"/><circle cx="426.3" cy="797" r="2.25"/><circle cx="435.8" cy="794.6" r="2.25"/><circle cx="435.8" cy="799.7" r="2.25"/><circle cx="444.9" cy="798.2" r="2.25"/><circle cx="417.2" cy="799.1" r="2.25"/><circle cx="417.2" cy="804.4" r="2.25"/><circle cx="426.3" cy="864.8" r="2.25"/><circle cx="426.3" cy="742.37" r="2.25"/><circle cx="426.3" cy="717.79" r="2.25"/><circle cx="426.3" cy="764.5" r="2.25"/><circle cx="426.3" cy="769.63" r="2.25"/><circle cx="430.9" cy="738.95" r="2.25"/><circle cx="426.3" cy="738.22" r="2.25"/><circle cx="426.3" cy="758.45" r="2.25"/><circle cx="426.3" cy="732.46" r="2.25"/><circle cx="426.3" cy="723.89" r="2.25"/><circle cx="421.7" cy="738.5" r="2.25"/><circle cx="430.9" cy="760.02" r="2.25"/><circle cx="430.9" cy="744.99" r="2.25"/><circle cx="430.9" cy="715.14" r="2.25"/><circle cx="435.5" cy="735.44" r="2.25"/><circle cx="430.9" cy="772.29" r="2.25"/><circle cx="426.3" cy="713.55" r="2.25"/><circle cx="421.7" cy="714.42" r="2.25"/><circle cx="430.9" cy="778.39" r="2.25"/><circle cx="421.7" cy="779.56" r="2.25"/><circle cx="417.1" cy="736.25" r="2.25"/><circle cx="421.7" cy="769.9" r="2.25"/><circle cx="430.9" cy="720.83" r="2.25"/><circle cx="435.5" cy="717.21" r="2.25"/><circle cx="421.7" cy="744.92" r="2.25"/><circle cx="426.3" cy="754.36" r="2.25"/><circle cx="426.3" cy="694.27" r="2.25"/><circle cx="421.7" cy="724.37" r="2.25"/><circle cx="435.5" cy="742.23" r="2.25"/><circle cx="430.9" cy="732.16" r="2.25"/><circle cx="417.1" cy="741.94" r="2.25"/><circle cx="426.3" cy="777.24" r="2.25"/><circle cx="421.7" cy="775.19" r="2.25"/><circle cx="421.7" cy="758.17" r="2.25"/><circle cx="417.1" cy="715.1" r="2.25"/><circle cx="426.3" cy="698.73" r="2.25"/><circle cx="430.9" cy="751.46" r="2.25"/><circle cx="435.5" cy="769.59" r="2.25"/><circle cx="430.9" cy="725.41" r="2.25"/><circle cx="435.5" cy="727.18" r="2.25"/><circle cx="435.5" cy="758.5" r="2.25"/><circle cx="421.7" cy="751.59" r="2.25"/><circle cx="430.9" cy="699.44" r="2.25"/><circle cx="417.1" cy="779.04" r="2.25"/><circle cx="426.3" cy="728.18" r="2.25"/><circle cx="426.3" cy="703.73" r="2.25"/><circle cx="421.7" cy="730.65" r="2.25"/><circle cx="440.1" cy="778.84" r="2.25"/><circle cx="435.5" cy="752.96" r="2.25"/><circle cx="421.7" cy="697.29" r="2.25"/><circle cx="430.9" cy="767.05" r="2.25"/><circle cx="417.1" cy="751.35" r="2.25"/><circle cx="430.9" cy="693.07" r="2.25"/><circle cx="440.1" cy="743.87" r="2.25"/><circle cx="430.9" cy="703.78" r="2.25"/><circle cx="435.5" cy="694.8" r="2.25"/><circle cx="417.1" cy="757.88" r="2.25"/><circle cx="440.1" cy="758.76" r="2.25"/><circle cx="421.7" cy="707.22" r="2.25"/><circle cx="417.1" cy="730.98" r="2.25"/><circle cx="412.5" cy="745.25" r="2.25"/><circle cx="417.1" cy="769.33" r="2.25"/><circle cx="440.1" cy="716.79" r="2.25"/><circle cx="435.5" cy="707.56" r="2.25"/><circle cx="421.7" cy="762.09" r="2.25"/><circle cx="440.1" cy="739.51" r="2.25"/><circle cx="440.1" cy="735.25" r="2.25"/><circle cx="412.5" cy="713.67" r="2.25"/><circle cx="421.7" cy="718.8" r="2.25"/><circle cx="435.5" cy="700.17" r="2.25"/><circle cx="417.1" cy="724.74" r="2.25"/><circle cx="412.5" cy="737.17" r="2.25"/><circle cx="444.7" cy="735.93" r="2.25"/><circle cx="444.7" cy="716.78" r="2.25"/><circle cx="417.1" cy="694.54" r="2.25"/><circle cx="407.9" cy="735.13" r="2.25"/><circle cx="440.1" cy="753.99" r="2.25"/><circle cx="426.3" cy="747.54" r="2.25"/><circle cx="417.1" cy="699.67" r="2.25"/><circle cx="412.5" cy="779.6" r="2.25"/><circle cx="412.5" cy="756.44" r="2.25"/><circle cx="426.3" cy="709.24" r="2.25"/><circle cx="412.5" cy="750.39" r="2.25"/><circle cx="430.9" cy="710.46" r="2.25"/><circle cx="440.1" cy="767.51" r="2.25"/><circle cx="440.1" cy="723.9" r="2.25"/><circle cx="440.1" cy="700.99" r="2.25"/><circle cx="417.1" cy="704.52" r="2.25"/><circle cx="407.9" cy="739.11" r="2.25"/><circle cx="440.1" cy="694.21" r="2.25"/><circle cx="417.1" cy="745.86" r="2.25"/><circle cx="412.5" cy="731.74" r="2.25"/><circle cx="435.5" cy="774.32" r="2.25"/><circle cx="417.1" cy="710.67" r="2.25"/><circle cx="412.5" cy="770.19" r="2.25"/><circle cx="423.67" cy="779.85" r="2.25"/><circle cx="412.5" cy="695.06" r="2.25"/><circle cx="412.5" cy="761.68" r="2.25"/><circle cx="435.5" cy="747.18" r="2.25"/><circle cx="412.5" cy="724.91" r="2.25"/><circle cx="440.1" cy="728.86" r="2.25"/><circle cx="444.7" cy="730.23" r="2.25"/><circle cx="444.7" cy="755.03" r="2.25"/><circle cx="435.5" cy="762.9" r="2.25"/><circle cx="444.7" cy="697.37" r="2.25"/><circle cx="417.1" cy="764.2" r="2.25"/><circle cx="444.7" cy="746.89" r="2.25"/><circle cx="440.1" cy="771.51" r="2.25"/><circle cx="407.9" cy="715.64" r="2.25"/><circle cx="407.9" cy="756.53" r="2.25"/><circle cx="415.59" cy="715.32" r="2.25"/><circle cx="412.5" cy="700.65" r="2.25"/><circle cx="420.95" cy="717.04" r="2.25"/><circle cx="407.9" cy="752.08" r="2.25"/><circle cx="444.7" cy="760.08" r="2.25"/><circle cx="407.9" cy="762.65" r="2.25"/><circle cx="421.73" cy="779.38" r="2.25"/><circle cx="417.1" cy="774.88" r="2.25"/><circle cx="407.9" cy="728.41" r="2.25"/><circle cx="407.9" cy="697.4" r="2.25"/><circle cx="407.9" cy="747.44" r="2.25"/><circle cx="410.58" cy="715.17" r="2.25"/><circle cx="444.7" cy="770.12" r="2.25"/><circle cx="407.9" cy="771.37" r="2.25"/><circle cx="443.7" cy="772.6" r="2.25"/><circle cx="405.4" cy="767.83" r="2.25"/><circle cx="430.64" cy="717.19" r="2.25"/><circle cx="440.1" cy="708.47" r="2.25"/><circle cx="435.5" cy="722.53" r="2.25"/><circle cx="444.7" cy="776.97" r="2.25"/><circle cx="433.1" cy="729.25" r="2.25"/><circle cx="407.9" cy="776.15" r="2.25"/><circle cx="444.7" cy="721.85" r="2.25"/><circle cx="406.54" cy="717.85" r="2.25"/><circle cx="410.29" cy="778.44" r="2.25"/><circle cx="430.95" cy="696.74" r="2.25"/><circle cx="431.41" cy="734.83" r="2.25"/><circle cx="441.31" cy="759.39" r="2.25"/><circle cx="418.38" cy="732.83" r="2.25"/><circle cx="414.45" cy="773" r="2.25"/><circle cx="420.3" cy="761.32" r="2.25"/><circle cx="446.32" cy="736.99" r="2.25"/><circle cx="444.03" cy="739.47" r="2.25"/><circle cx="407.36" cy="714.31" r="2.25"/><circle cx="417.1" cy="719.51" r="2.25"/><circle cx="412.5" cy="709.34" r="2.25"/><circle cx="444.7" cy="709.52" r="2.25"/><circle cx="434.38" cy="715.47" r="2.25"/><circle cx="428.83" cy="767.98" r="2.25"/><circle cx="412.5" cy="704.59" r="2.25"/><circle cx="446.91" cy="773.27" r="2.25"/><circle cx="429.99" cy="698.17" r="2.25"/><circle cx="447.2" cy="750.76" r="2.25"/><circle cx="427.52" cy="762.73" r="2.25"/><circle cx="407.9" cy="709.81" r="2.25"/><circle cx="440.1" cy="748.64" r="2.25"/><circle cx="412.5" cy="719.61" r="2.25"/><circle cx="434.65" cy="696.94" r="2.25"/><circle cx="423.74" cy="757.25" r="2.25"/><circle cx="426.44" cy="719.48" r="2.25"/><circle cx="442.15" cy="760.94" r="2.25"/><circle cx="420.05" cy="733.98" r="2.25"/><circle cx="419.93" cy="696.47" r="2.25"/><circle cx="415.86" cy="739.02" r="2.25"/><circle cx="422.08" cy="720.13" r="2.25"/><circle cx="442.15" cy="741.61" r="2.25"/><circle cx="409.92" cy="730.21" r="2.25"/><circle cx="405.4" cy="744.2" r="2.25"/><circle cx="424.39" cy="745.5" r="2.25"/><circle cx="444.7" cy="764.52" r="2.25"/><circle cx="429.06" cy="746.53" r="2.25"/><circle cx="411.13" cy="770.02" r="2.25"/><circle cx="421.7" cy="702.08" r="2.25"/><circle cx="447.2" cy="724.95" r="2.25"/><circle cx="412.5" cy="766.27" r="2.25"/><circle cx="420.7" cy="736.85" r="2.25"/><circle cx="447.2" cy="713.52" r="2.25"/><circle cx="433" cy="739.65" r="2.25"/><circle cx="422.25" cy="748.24" r="2.25"/><circle cx="446.36" cy="770.76" r="2.25"/><circle cx="443.37" cy="699.26" r="2.25"/><circle cx="407.9" cy="724.51" r="2.25"/><circle cx="440" cy="768.49" r="2.25"/><circle cx="414.78" cy="707.97" r="2.25"/><circle cx="447.2" cy="742.88" r="2.25"/><circle cx="410.8" cy="741.69" r="2.25"/><circle cx="412.68" cy="775.45" r="2.25"/><circle cx="407.9" cy="701.7" r="2.25"/><circle cx="440.45" cy="778.4" r="2.25"/><circle cx="406.43" cy="744.54" r="2.25"/><circle cx="432.5" cy="719.51" r="2.25"/><circle cx="443.16" cy="778.79" r="2.25"/><circle cx="431.3" cy="745.32" r="2.25"/><circle cx="411.35" cy="736.01" r="2.25"/><circle cx="438.28" cy="753.95" r="2.25"/><circle cx="440.72" cy="751.89" r="2.25"/><circle cx="423.41" cy="741.33" r="2.25"/><circle cx="429.73" cy="708.41" r="2.25"/><circle cx="436.05" cy="698.57" r="2.25"/><circle cx="408.75" cy="695.31" r="2.25"/><circle cx="414.81" cy="770.44" r="2.25"/><circle cx="422" cy="709.67" r="2.25"/><circle cx="426.39" cy="771.87" r="2.25"/><circle cx="426.14" cy="742.54" r="2.25"/><circle cx="446.25" cy="697" r="2.25"/><circle cx="420.19" cy="773.56" r="2.25"/><circle cx="429.93" cy="746.42" r="2.25"/><circle cx="428.91" cy="699.19" r="2.25"/><circle cx="416.06" cy="742.45" r="2.25"/><circle cx="417.42" cy="779.76" r="2.25"/><circle cx="410.97" cy="700.22" r="2.25"/><circle cx="434.39" cy="718.69" r="2.25"/><circle cx="433.74" cy="724.28" r="2.25"/><circle cx="409.7" cy="718.34" r="2.25"/><circle cx="442.28" cy="776.21" r="2.25"/><circle cx="444.7" cy="703.24" r="2.25"/><circle cx="440.1" cy="712.49" r="2.25"/><circle cx="427.76" cy="729.27" r="2.25"/><circle cx="433.7" cy="727.02" r="2.25"/><circle cx="420.31" cy="731.05" r="2.25"/><circle cx="435.31" cy="743.78" r="2.25"/><circle cx="437.03" cy="758.05" r="2.25"/><circle cx="411.59" cy="716.43" r="2.25"/><circle cx="442.22" cy="778.78" r="2.25"/><circle cx="443.23" cy="725.24" r="2.25"/><circle cx="439.44" cy="696.25" r="2.25"/><circle cx="432.32" cy="743.9" r="2.25"/><circle cx="419.19" cy="726.36" r="2.25"/><circle cx="407.9" cy="705.87" r="2.25"/><circle cx="407.61" cy="724.13" r="2.25"/><circle cx="409.01" cy="744.25" r="2.25"/><circle cx="440.89" cy="746.52" r="2.25"/><circle cx="429.44" cy="725.83" r="2.25"/><circle cx="443.26" cy="768.68" r="2.25"/><circle cx="446.35" cy="750.96" r="2.25"/><circle cx="447.2" cy="706.33" r="2.25"/><circle cx="406.22" cy="703.03" r="2.25"/><circle cx="408.5" cy="699.63" r="2.25"/><circle cx="405.56" cy="738.99" r="2.25"/><circle cx="406.6" cy="767.01" r="2.25"/><circle cx="421.65" cy="719.03" r="2.25"/><circle cx="439.63" cy="707.2" r="2.25"/><circle cx="437.23" cy="705.92" r="2.25"/><circle cx="430.91" cy="754.9" r="2.25"/><circle cx="434.98" cy="693.16" r="2.25"/><circle cx="442.22" cy="736.82" r="2.25"/><circle cx="441.46" cy="772.79" r="2.25"/><circle cx="409.53" cy="766.03" r="2.25"/><circle cx="432.22" cy="718.55" r="2.25"/><circle cx="418.41" cy="767.1" r="2.25"/><circle cx="416.89" cy="705.53" r="2.25"/><circle cx="420.74" cy="761.72" r="2.25"/><circle cx="410.55" cy="775.1" r="2.25"/><circle cx="437.03" cy="722.98" r="2.25"/><circle cx="409.63" cy="720.73" r="2.25"/><circle cx="406.97" cy="733.74" r="2.25"/><circle cx="414.3" cy="750.94" r="2.25"/><circle cx="428.53" cy="700.37" r="2.25"/><circle cx="428.05" cy="771.6" r="2.25"/><circle cx="424.38" cy="701.36" r="2.25"/><circle cx="432.34" cy="706.14" r="2.25"/><circle cx="418.29" cy="756.65" r="2.25"/><circle cx="442.22" cy="742.71" r="2.25"/><circle cx="429.85" cy="732.38" r="2.25"/><circle cx="442.14" cy="702.82" r="2.25"/><circle cx="429.66" cy="775.1" r="2.25"/><circle cx="440.33" cy="718.27" r="2.25"/><circle cx="433.46" cy="752.69" r="2.25"/><circle cx="445.96" cy="756.08" r="2.25"/><circle cx="418.62" cy="743.58" r="2.25"/><circle cx="405.84" cy="733.05" r="2.25"/><circle cx="408.24" cy="710.98" r="2.25"/><circle cx="427.24" cy="735.29" r="2.25"/><circle cx="407.58" cy="749.46" r="2.25"/><circle cx="438.13" cy="729.1" r="2.25"/><circle cx="444.92" cy="776.52" r="2.25"/><circle cx="405.4" cy="759.64" r="2.25"/><circle cx="443.92" cy="766.66" r="2.25"/><circle cx="406.44" cy="751.39" r="2.25"/><circle cx="413.39" cy="717.02" r="2.25"/><circle cx="425.99" cy="712.8" r="2.25"/><circle cx="412.22" cy="697.38" r="2.25"/><circle cx="410.87" cy="726.03" r="2.25"/><circle cx="426.93" cy="777.74" r="2.25"/><circle cx="405.68" cy="741.83" r="2.25"/><circle cx="410.49" cy="729.16" r="2.25"/><circle cx="429.74" cy="743.46" r="2.25"/><circle cx="418.56" cy="700.38" r="2.25"/><circle cx="446.52" cy="744.13" r="2.25"/><circle cx="441.94" cy="705.52" r="2.25"/><circle cx="426.12" cy="777.39" r="2.25"/><circle cx="430.21" cy="749.37" r="2.25"/><circle cx="412.85" cy="709.36" r="2.25"/><circle cx="428.97" cy="716.75" r="2.25"/><circle cx="417.87" cy="705.97" r="2.25"/><circle cx="434.65" cy="773.14" r="2.25"/><circle cx="414.74" cy="733.09" r="2.25"/><circle cx="446.71" cy="713.88" r="2.25"/><circle cx="421.22" cy="750.88" r="2.25"/><circle cx="446.36" cy="718.75" r="2.25"/><circle cx="443.69" cy="748.75" r="2.25"/><circle cx="406.08" cy="697.42" r="2.25"/><circle cx="443.01" cy="756.97" r="2.25"/><circle cx="438.89" cy="750.15" r="2.25"/><circle cx="445.56" cy="755.97" r="2.25"/><circle cx="428.52" cy="775.2" r="2.25"/><circle cx="409.55" cy="712.11" r="2.25"/><circle cx="419.81" cy="743.18" r="2.25"/><circle cx="421.72" cy="768" r="2.25"/><circle cx="411.28" cy="726.91" r="2.25"/><circle cx="441.35" cy="729.68" r="2.25"/><circle cx="442.79" cy="717.15" r="2.25"/><circle cx="408.34" cy="724.99" r="2.25"/><circle cx="437.61" cy="717.01" r="2.25"/><circle cx="407.38" cy="766.58" r="2.25"/><circle cx="418.36" cy="724.46" r="2.25"/><circle cx="430.44" cy="723.94" r="2.25"/><circle cx="431.52" cy="770.39" r="2.25"/><circle cx="420.01" cy="754.23" r="2.25"/><circle cx="439.05" cy="779.96" r="2.25"/><circle cx="407.37" cy="755.2" r="2.25"/><circle cx="426.24" cy="694.37" r="2.25"/><circle cx="427.09" cy="712.26" r="2.25"/><circle cx="432.39" cy="720.79" r="2.25"/><circle cx="437.23" cy="748.48" r="2.25"/><circle cx="418.54" cy="767.24" r="2.25"/><circle cx="410.24" cy="734.7" r="2.25"/><circle cx="405.79" cy="752.73" r="2.25"/><circle cx="422.33" cy="740.13" r="2.25"/><circle cx="410.89" cy="758.65" r="2.25"/><circle cx="416.23" cy="770.64" r="2.25"/><circle cx="421.57" cy="695.45" r="2.25"/><circle cx="417.2" cy="727.73" r="2.25"/><circle cx="434.31" cy="714.06" r="2.25"/><circle cx="443.36" cy="694.12" r="2.25"/><circle cx="438.46" cy="776.78" r="2.25"/><circle cx="414.92" cy="760.47" r="2.25"/><circle cx="416.51" cy="776.21" r="2.25"/><circle cx="442.07" cy="708.8" r="2.25"/><circle cx="436.35" cy="764.62" r="2.25"/><circle cx="433.19" cy="774.42" r="2.25"/><circle cx="437.73" cy="719.63" r="2.25"/><circle cx="409.64" cy="735.03" r="2.25"/><circle cx="422.32" cy="702.21" r="2.25"/><circle cx="424.02" cy="713.23" r="2.25"/><circle cx="435.66" cy="710.06" r="2.25"/><circle cx="432.42" cy="733.83" r="2.25"/><circle cx="407.58" cy="700.52" r="2.25"/><circle cx="431.58" cy="732.25" r="2.25"/><circle cx="444.04" cy="694.88" r="2.25"/><circle cx="426.3" cy="728.86" r="2.25"/><circle cx="427.83" cy="721.42" r="2.25"/><circle cx="436.14" cy="700.38" r="2.25"/><circle cx="438.02" cy="736.45" r="2.25"/><circle cx="440.4" cy="714.88" r="2.25"/><circle cx="440.4" cy="700.81" r="2.25"/><circle cx="424.28" cy="771.24" r="2.25"/><circle cx="426.78" cy="774.85" r="2.25"/><circle cx="416.08" cy="755.47" r="2.25"/><circle cx="414.36" cy="768.89" r="2.25"/><circle cx="406.24" cy="764.26" r="2.25"/><circle cx="446.99" cy="756.24" r="2.25"/><circle cx="442.52" cy="730.65" r="2.25"/><circle cx="447.04" cy="738.54" r="2.25"/><circle cx="440.71" cy="695.49" r="2.25"/><circle cx="435.9" cy="732.56" r="2.25"/><circle cx="423.3" cy="756.54" r="2.25"/><circle cx="424.12" cy="730.65" r="2.25"/><circle cx="428.85" cy="736.65" r="2.25"/><circle cx="427.69" cy="749.65" r="2.25"/><circle cx="430.94" cy="745.19" r="2.25"/><circle cx="416.11" cy="709.48" r="2.25"/><circle cx="433.32" cy="703.69" r="2.25"/><circle cx="434.77" cy="755.33" r="2.25"/><circle cx="442.22" cy="697.62" r="2.25"/><circle cx="444.41" cy="772.87" r="2.25"/><circle cx="412.43" cy="760.95" r="2.25"/><circle cx="408.03" cy="708.56" r="2.25"/><circle cx="419.1" cy="768.96" r="2.25"/><circle cx="440.92" cy="712.88" r="2.25"/><circle cx="409.39" cy="726" r="2.25"/><circle cx="437.77" cy="745.48" r="2.25"/><circle cx="431.64" cy="746.76" r="2.25"/><circle cx="425.24" cy="697.65" r="2.25"/><circle cx="432.61" cy="716.62" r="2.25"/><circle cx="431.84" cy="744.93" r="2.25"/><circle cx="423.65" cy="751.68" r="2.25"/><circle cx="434.43" cy="765.05" r="2.25"/><circle cx="444.23" cy="742.89" r="2.25"/><circle cx="427.3" cy="706.85" r="2.25"/><circle cx="408.19" cy="761.91" r="2.25"/><circle cx="425.17" cy="764.77" r="2.25"/><circle cx="442.03" cy="774.22" r="2.25"/><circle cx="416.02" cy="754.37" r="2.25"/><circle cx="443.18" cy="698.09" r="2.25"/><circle cx="442.31" cy="721.37" r="2.25"/><circle cx="419.15" cy="719.94" r="2.25"/><circle cx="411.12" cy="741.79" r="2.25"/><circle cx="407.86" cy="709.89" r="2.25"/><circle cx="407.75" cy="726.4" r="2.25"/><circle cx="406.94" cy="763.7" r="2.25"/><circle cx="415.97" cy="731.12" r="2.25"/><circle cx="438.34" cy="705.96" r="2.25"/><circle cx="434.6" cy="727.42" r="2.25"/><circle cx="426.54" cy="735.09" r="2.25"/><circle cx="425.85" cy="706.67" r="2.25"/><circle cx="434.36" cy="698.76" r="2.25"/><circle cx="440.68" cy="713.15" r="2.25"/><circle cx="419.81" cy="758.3" r="2.25"/><circle cx="405.75" cy="750.41" r="2.25"/><circle cx="436.07" cy="749.28" r="2.25"/><circle cx="446.84" cy="704.26" r="2.25"/><circle cx="407.95" cy="777.05" r="2.25"/><circle cx="433.42" cy="706.71" r="2.25"/><circle cx="428.97" cy="752.96" r="2.25"/><circle cx="423.84" cy="772.58" r="2.25"/><circle cx="414.66" cy="720.86" r="2.25"/><circle cx="411.48" cy="720.26" r="2.25"/><circle cx="415.28" cy="742.94" r="2.25"/><circle cx="439.95" cy="723.25" r="2.25"/><circle cx="416.85" cy="725.82" r="2.25"/><circle cx="427.14" cy="723.41" r="2.25"/><circle cx="443.82" cy="702.11" r="2.25"/><circle cx="431.11" cy="734.17" r="2.25"/><circle cx="433.65" cy="738.34" r="2.25"/><circle cx="439.91" cy="700.59" r="2.25"/><circle cx="446.12" cy="727.38" r="2.25"/><circle cx="444.25" cy="749.36" r="2.25"/><circle cx="417.17" cy="732.69" r="2.25"/><circle cx="444.66" cy="727.14" r="2.25"/><circle cx="444.84" cy="735.75" r="2.25"/><circle cx="422.59" cy="779.75" r="2.25"/><circle cx="427.95" cy="735.07" r="2.25"/><circle cx="406.1" cy="736.8" r="2.25"/><circle cx="431.19" cy="720.61" r="2.25"/><circle cx="438.19" cy="712.01" r="2.25"/><circle cx="446.22" cy="719.51" r="2.25"/><circle cx="418.22" cy="734.02" r="2.25"/><circle cx="419.73" cy="714.2" r="2.25"/><circle cx="425.6" cy="744.32" r="2.25"/><circle cx="435.02" cy="758.49" r="2.25"/><circle cx="432.39" cy="758.34" r="2.25"/><circle cx="422.98" cy="699.22" r="2.25"/><circle cx="422.57" cy="701.23" r="2.25"/><circle cx="434.36" cy="745.02" r="2.25"/><circle cx="413.62" cy="708.55" r="2.25"/><circle cx="430.03" cy="715.23" r="2.25"/><circle cx="418.27" cy="751.03" r="2.25"/><circle cx="406.34" cy="696.81" r="2.25"/><circle cx="446.62" cy="699.33" r="2.25"/><circle cx="436.25" cy="755.46" r="2.25"/><circle cx="417.08" cy="753.49" r="2.25"/><circle cx="440.12" cy="722.33" r="2.25"/><circle cx="414.76" cy="771.31" r="2.25"/><circle cx="408.26" cy="721.51" r="2.25"/><circle cx="434.02" cy="759.06" r="2.25"/><circle cx="414.51" cy="694.35" r="2.25"/><circle cx="420.45" cy="759.08" r="2.25"/><circle cx="415.58" cy="776.05" r="2.25"/><circle cx="442.58" cy="768.33" r="2.25"/><circle cx="428.38" cy="753.99" r="2.25"/><circle cx="435.31" cy="718.12" r="2.25"/><circle cx="416.03" cy="700.99" r="2.25"/><circle cx="424.92" cy="732.29" r="2.25"/><circle cx="425.07" cy="758.4" r="2.25"/><circle cx="437.87" cy="763.39" r="2.25"/><circle cx="405.56" cy="730.98" r="2.25"/><circle cx="419.81" cy="774.93" r="2.25"/><circle cx="444.39" cy="709.35" r="2.25"/><circle cx="426.95" cy="731.25" r="2.25"/><circle cx="418.96" cy="750.02" r="2.25"/><circle cx="445.63" cy="695.06" r="2.25"/><circle cx="443.29" cy="712.39" r="2.25"/><circle cx="445.64" cy="733.94" r="2.25"/><circle cx="414.85" cy="729.66" r="2.25"/><circle cx="435.63" cy="711.2" r="2.25"/><circle cx="443.08" cy="744.86" r="2.25"/><circle cx="412.41" cy="753.62" r="2.25"/><circle cx="408.98" cy="724.96" r="2.25"/><circle cx="445.4" cy="759.36" r="2.25"/><circle cx="446.1" cy="760" r="2.25"/></g>
<path d="M403.3 726H449.3" stroke="#000" stroke-width="1.8"/>
<path d="M496 675.6V807.5M484.4 675.6H507.6M484.4 807.5H507.6" stroke="#454545" stroke-width="1.15" fill="none"/>
<g fill="#000"><circle cx="496" cy="675.6" r="2.25"/><circle cx="482.3" cy="688.8" r="2.25"/><circle cx="482.3" cy="694.6" r="2.25"/><circle cx="491.4" cy="691.2" r="2.25"/><circle cx="500.6" cy="693.4" r="2.25"/><circle cx="509.8" cy="692.9" r="2.25"/><circle cx="514.3" cy="704.6" r="2.25"/><circle cx="477.7" cy="707.5" r="2.25"/><circle cx="486.8" cy="707.2" r="2.25"/><circle cx="496" cy="707.5" r="2.25"/><circle cx="505.2" cy="711.5" r="2.25"/><circle cx="486.8" cy="712.8" r="2.25"/><circle cx="486.8" cy="715" r="2.25"/><circle cx="505.2" cy="716.8" r="2.25"/><circle cx="482.3" cy="718.9" r="2.25"/><circle cx="491.4" cy="718.9" r="2.25"/><circle cx="496" cy="717.7" r="2.25"/><circle cx="500.6" cy="719.9" r="2.25"/><circle cx="509.8" cy="720.9" r="2.25"/><circle cx="489.2" cy="723.8" r="2.25"/><circle cx="503.1" cy="724.5" r="2.25"/><circle cx="509.8" cy="725" r="2.25"/><circle cx="516.9" cy="725.5" r="2.25"/><circle cx="475.1" cy="727" r="2.25"/><circle cx="482.3" cy="726" r="2.25"/><circle cx="496" cy="725.8" r="2.25"/><circle cx="486.8" cy="728.9" r="2.25"/><circle cx="505.2" cy="730.3" r="2.25"/><circle cx="514.3" cy="729.9" r="2.25"/><circle cx="486.8" cy="733.1" r="2.25"/><circle cx="496" cy="730.9" r="2.25"/><circle cx="496" cy="734.2" r="2.25"/><circle cx="477.7" cy="735.2" r="2.25"/><circle cx="505.2" cy="735.7" r="2.25"/><circle cx="514.3" cy="734.4" r="2.25"/><circle cx="482.3" cy="737.7" r="2.25"/><circle cx="491.4" cy="740.1" r="2.25"/><circle cx="500.6" cy="739.8" r="2.25"/><circle cx="509.8" cy="739.8" r="2.25"/><circle cx="508.7" cy="742.3" r="2.25"/><circle cx="475.1" cy="743.8" r="2.25"/><circle cx="483.3" cy="744.8" r="2.25"/><circle cx="491.4" cy="743.5" r="2.25"/><circle cx="500.6" cy="743.8" r="2.25"/><circle cx="516.9" cy="743.1" r="2.25"/><circle cx="500.6" cy="748.2" r="2.25"/><circle cx="475.1" cy="744.7" r="2.25"/><circle cx="507.5" cy="750.8" r="2.25"/><circle cx="491.4" cy="749.3" r="2.25"/><circle cx="479.7" cy="751.3" r="2.25"/><circle cx="484.3" cy="751.8" r="2.25"/><circle cx="489.4" cy="753.1" r="2.25"/><circle cx="517.1" cy="753.8" r="2.25"/><circle cx="474.9" cy="754.9" r="2.25"/><circle cx="480" cy="755.9" r="2.25"/><circle cx="494" cy="755.4" r="2.25"/><circle cx="498" cy="755.9" r="2.25"/><circle cx="502.6" cy="755.9" r="2.25"/><circle cx="512" cy="755.2" r="2.25"/><circle cx="517.1" cy="756.4" r="2.25"/><circle cx="512" cy="757.6" r="2.25"/><circle cx="474.9" cy="757.9" r="2.25"/><circle cx="484.3" cy="758.6" r="2.25"/><circle cx="507.2" cy="758.9" r="2.25"/><circle cx="489.4" cy="759.4" r="2.25"/><circle cx="474.9" cy="761" r="2.25"/><circle cx="486.1" cy="761" r="2.25"/><circle cx="506.5" cy="762" r="2.25"/><circle cx="496" cy="762.3" r="2.25"/><circle cx="517.1" cy="762.5" r="2.25"/><circle cx="480.2" cy="763.5" r="2.25"/><circle cx="480.2" cy="764.5" r="2.25"/><circle cx="491.2" cy="764" r="2.25"/><circle cx="511.8" cy="764" r="2.25"/><circle cx="501.1" cy="764.5" r="2.25"/><circle cx="517.1" cy="765" r="2.25"/><circle cx="511.8" cy="766.1" r="2.25"/><circle cx="485.8" cy="766.6" r="2.25"/><circle cx="490.6" cy="767.4" r="2.25"/><circle cx="496" cy="767.6" r="2.25"/><circle cx="475.1" cy="768.1" r="2.25"/><circle cx="506.5" cy="768.6" r="2.25"/><circle cx="500.4" cy="769.6" r="2.25"/><circle cx="508.7" cy="769.6" r="2.25"/><circle cx="483.3" cy="770.1" r="2.25"/><circle cx="491.6" cy="770.6" r="2.25"/><circle cx="475.1" cy="771.5" r="2.25"/><circle cx="517.1" cy="772.9" r="2.25"/><circle cx="477.4" cy="774.7" r="2.25"/><circle cx="486.5" cy="774.7" r="2.25"/><circle cx="496" cy="776.2" r="2.25"/><circle cx="514.3" cy="776.5" r="2.25"/><circle cx="477.4" cy="780" r="2.25"/><circle cx="486.5" cy="780" r="2.25"/><circle cx="505.2" cy="780" r="2.25"/><circle cx="496" cy="782" r="2.25"/><circle cx="477.4" cy="785.7" r="2.25"/><circle cx="486.5" cy="785.1" r="2.25"/><circle cx="496" cy="786.9" r="2.25"/><circle cx="505.2" cy="789.5" r="2.25"/><circle cx="496" cy="791.5" r="2.25"/><circle cx="505.2" cy="795.9" r="2.25"/><circle cx="486.5" cy="796.6" r="2.25"/><circle cx="496" cy="801.7" r="2.25"/><circle cx="491.4" cy="807.5" r="2.25"/><circle cx="500.4" cy="807.5" r="2.25"/></g>
<path d="M473 736.7H519" stroke="#000" stroke-width="1.8"/>
</svg>
</body></html>
